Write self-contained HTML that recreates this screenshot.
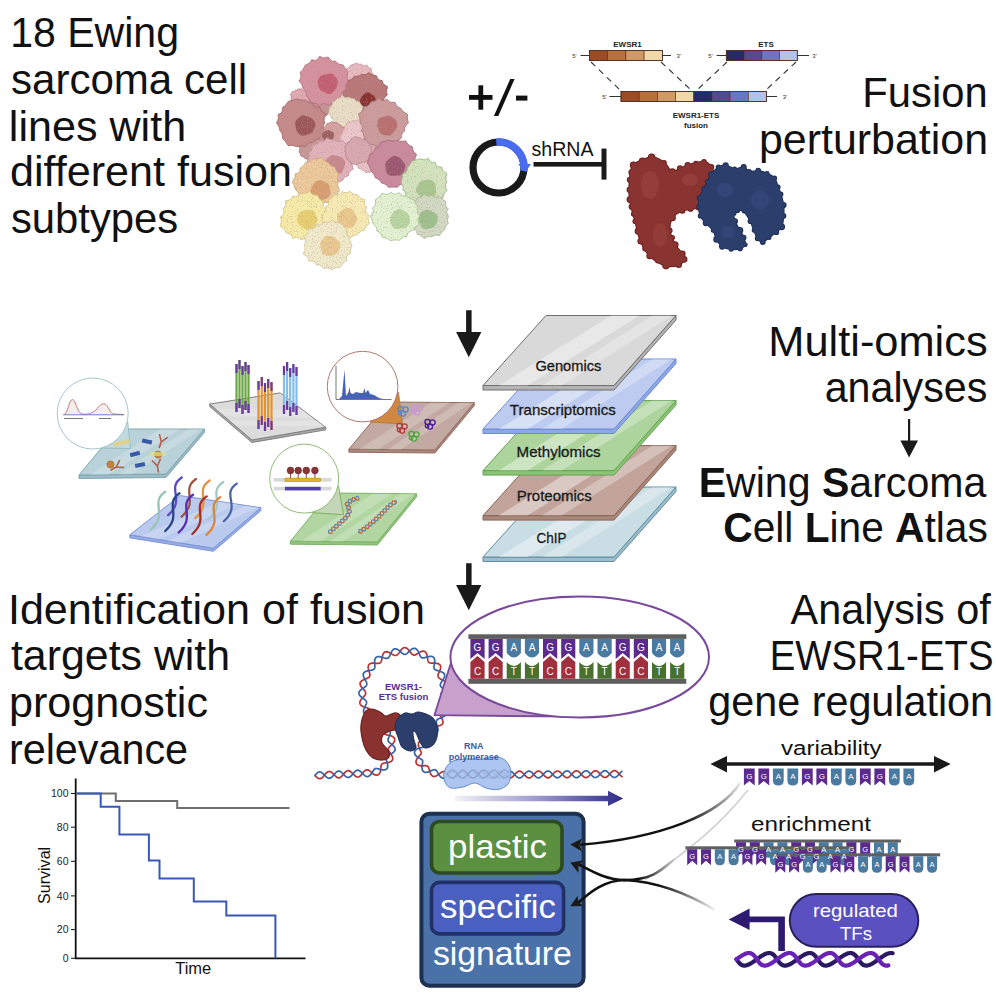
<!DOCTYPE html><html><head><meta charset="utf-8"><style>html,body{margin:0;padding:0;background:#fff;width:996px;height:996px;overflow:hidden}svg{display:block}text{font-family:"Liberation Sans",sans-serif}</style></head><body>
<svg width="996" height="996" viewBox="0 0 996 996">
<defs><linearGradient id="garr" x1="0" x2="1" y1="0" y2="0"><stop offset="0" stop-color="#f2f2f6"/><stop offset="0.5" stop-color="#9a98cc"/><stop offset="1" stop-color="#2c2a86"/></linearGradient><linearGradient id="gfade1" x1="1" x2="0" y1="0" y2="1"><stop offset="0" stop-color="#111" stop-opacity="0.1"/><stop offset="0.4" stop-color="#111" stop-opacity="1"/></linearGradient><linearGradient id="gc1" gradientUnits="userSpaceOnUse" x1="745" y1="783" x2="690" y2="830"><stop offset="0" stop-color="#111" stop-opacity="0.05"/><stop offset="1" stop-color="#111"/></linearGradient><linearGradient id="gc2" gradientUnits="userSpaceOnUse" x1="675" y1="859" x2="640" y2="880"><stop offset="0" stop-color="#111" stop-opacity="0.05"/><stop offset="1" stop-color="#111"/></linearGradient><linearGradient id="gc3" gradientUnits="userSpaceOnUse" x1="715" y1="910" x2="660" y2="885"><stop offset="0" stop-color="#111" stop-opacity="0.05"/><stop offset="1" stop-color="#111"/></linearGradient><filter id="speck" x="0" y="0" width="100%" height="100%"><feTurbulence type="fractalNoise" baseFrequency="0.8" numOctaves="1" seed="3" result="n"/><feColorMatrix in="n" type="matrix" values="0 0 0 0 0.45  0 0 0 0 0.25  0 0 0 0 0.28  0 0 0 -22 8.6" result="dots"/><feComposite in="dots" in2="SourceGraphic" operator="in" result="d2"/><feComponentTransfer in="d2" result="d3"><feFuncA type="linear" slope="0.35"/></feComponentTransfer><feMerge><feMergeNode in="SourceGraphic"/><feMergeNode in="d3"/></feMerge></filter></defs>
<rect width="996" height="996" fill="#fff"/>
<text x="10.18" y="47" font-size="42" font-weight="normal" fill="#111" textLength="168.85" lengthAdjust="spacingAndGlyphs">18 Ewing</text>
<text x="10.98" y="93.5" font-size="42" font-weight="normal" fill="#111" textLength="236.11" lengthAdjust="spacingAndGlyphs">sarcoma cell</text>
<text x="8.87" y="140.5" font-size="42" font-weight="normal" fill="#111" textLength="177.3" lengthAdjust="spacingAndGlyphs">lines with</text>
<text x="9.96" y="186" font-size="42" font-weight="normal" fill="#111" textLength="282.11" lengthAdjust="spacingAndGlyphs">different fusion</text>
<text x="10.98" y="232.5" font-size="42" font-weight="normal" fill="#111" textLength="167.28" lengthAdjust="spacingAndGlyphs">subtypes</text>
<text x="862.33" y="107" font-size="42" font-weight="normal" fill="#111" textLength="125.38" lengthAdjust="spacingAndGlyphs">Fusion</text>
<text x="758.9" y="154" font-size="42" font-weight="normal" fill="#111" textLength="229.23" lengthAdjust="spacingAndGlyphs">perturbation</text>
<text x="768.33" y="356" font-size="42" font-weight="normal" fill="#111" textLength="219.32" lengthAdjust="spacingAndGlyphs">Multi-omics</text>
<text x="824.65" y="402.2" font-size="42" font-weight="normal" fill="#111" textLength="162.69" lengthAdjust="spacingAndGlyphs">analyses</text>
<text x="698.65" y="496.8" font-size="42" font-weight="normal" fill="#111" textLength="287.67" lengthAdjust="spacingAndGlyphs"><tspan font-weight='bold'>E</tspan>wing <tspan font-weight='bold'>S</tspan>arcoma</text>
<text x="723.27" y="542" font-size="42" font-weight="normal" fill="#111" textLength="264.47" lengthAdjust="spacingAndGlyphs"><tspan font-weight='bold'>C</tspan>ell <tspan font-weight='bold'>L</tspan>ine <tspan font-weight='bold'>A</tspan>tlas</text>
<text x="7.92" y="623.6" font-size="42" font-weight="normal" fill="#111" textLength="417.16" lengthAdjust="spacingAndGlyphs">Identification of fusion</text>
<text x="10.98" y="670.3" font-size="42" font-weight="normal" fill="#111" textLength="219.12" lengthAdjust="spacingAndGlyphs">targets with</text>
<text x="8.92" y="717" font-size="42" font-weight="normal" fill="#111" textLength="199.13" lengthAdjust="spacingAndGlyphs">prognostic</text>
<text x="8.9" y="763.8" font-size="42" font-weight="normal" fill="#111" textLength="179.18" lengthAdjust="spacingAndGlyphs">relevance</text>
<text x="790.6" y="623.6" font-size="42" font-weight="normal" fill="#111" textLength="200.21" lengthAdjust="spacingAndGlyphs">Analysis of</text>
<text x="769.72" y="669.7" font-size="42" font-weight="normal" fill="#111" textLength="223.76" lengthAdjust="spacingAndGlyphs">EWSR1-ETS</text>
<text x="708.36" y="715.8" font-size="42" font-weight="normal" fill="#111" textLength="284.7" lengthAdjust="spacingAndGlyphs">gene regulation</text>
<path d="M466.1 310.3 H471.6 V332.1 H481.4 L468.8 357.2 L456.1 332.1 H466.1 Z" fill="#1a1a1a"/>
<path d="M466.1 563.3 H471.6 V585.1 H481.4 L468.8 610.2 L456.1 585.1 H466.1 Z" fill="#1a1a1a"/>
<path d="M908 419 H910.2 V440.6 H918 L909.1 457.5 L900.4 440.6 H908 Z" fill="#1a1a1a"/>
<g filter="url(#speck)">
<path d="M332.5 105 L331.1 106.5 L330.4 107.9 L330.2 109.4 L329.4 110.7 L328.9 112.1 L328.4 113.7 L327.1 114.7 L325.8 115.5 L324.9 116.9 L322.9 116.3 L321.5 116.6 L320.2 117.6 L318.7 117.5 L317.2 118 L315.6 118.7 L314.1 118 L312.6 117.5 L310.6 117.9 L309.9 115.9 L308.7 114.9 L307.1 114.2 L306.9 112.3 L306.5 110.8 L305.3 109.6 L306.2 107.8 L306 106.4 L304.9 105 L305.3 103.5 L305.1 102 L304.6 100.1 L306.1 99 L307.1 97.9 L307.9 96.5 L309.3 95.8 L310.3 94.7 L310.9 92.7 L312.6 92.4 L314 91.7 L315.4 90.3 L317.2 91.6 L318.8 92 L320.3 91.7 L321.6 93.1 L322.9 93.6 L324.7 93.4 L325.4 95.1 L326.5 96 L328.3 96.4 L328.7 98 L329.8 99.1 L331.1 100.2 L331.5 101.8 L331.8 103.4 Z" fill="#c49494" stroke="#a47474" stroke-width="0.9"/>
<path d="M326.3 147 L325.8 148.6 L325.2 150.1 L325.1 151.8 L323.7 152.9 L322.8 154.1 L322.6 155.9 L320.6 156.1 L319.4 156.9 L318.6 158.5 L316.9 158.3 L315.6 159.1 L314.4 160.8 L312.8 160.4 L311.2 160.6 L309.6 160.8 L308.2 159.7 L306.9 158.9 L305.2 158.8 L304.3 157.4 L302.9 156.7 L301.1 156.1 L300.5 154.6 L299.9 153.1 L299.2 151.7 L299.7 149.9 L299.9 148.4 L299.5 147 L299.9 145.6 L299.9 144.1 L299.6 142.5 L300.4 141.2 L301 139.8 L300.9 137.7 L302.7 137.2 L303.8 136 L304.6 134.1 L306.6 134.4 L308.2 134.1 L309.6 133.2 L311.3 134.4 L312.7 134.6 L314.4 133.6 L315.7 134.8 L317.2 135 L318.8 135.1 L319.8 136.5 L320.7 137.8 L321.9 138.7 L322.2 140.3 L323.1 141.4 L324.9 142.3 L325 143.9 L325.7 145.4 Z" fill="#c89898" stroke="#a87878" stroke-width="0.9"/>
<path d="M364.9 142 L363.8 143.6 L363.9 145.3 L365.2 147.5 L363.5 148.8 L362.7 150.4 L361.9 152 L360.3 152.9 L358.9 154 L358 155.8 L356.1 156.1 L354.4 156.8 L352.9 158.6 L350.9 157.4 L349.1 157.2 L347.2 158 L345.7 156.5 L344 155.9 L341.8 156.2 L341.2 153.9 L340.1 152.5 L339 151.3 L338.5 149.6 L337.5 148.3 L335.5 147.3 L335.1 145.5 L334.2 143.9 L333.1 142 L334 140.1 L334.7 138.4 L334.8 136.5 L336.7 135.3 L337.7 133.9 L337.9 131.8 L339.7 131.1 L341 130 L342.4 128.8 L344.2 128.5 L345.8 128.1 L347.4 127.1 L349.1 127.4 L350.9 127.3 L352.7 126.7 L354.3 127.8 L355.9 128.4 L358.1 127.9 L359.1 129.8 L360.7 130.6 L363.2 130.9 L363.6 133.1 L364.3 134.8 L365 136.5 L364.3 138.6 L364 140.4 Z" fill="#dcb0b4" stroke="#bc9094" stroke-width="0.9"/>
<path d="M379.5 160 L379.1 161.3 L379.1 162.6 L380 164.4 L379.1 165.6 L378.7 167 L378.4 168.7 L376.7 169.2 L375.3 169.9 L374.4 171.1 L372.6 170.8 L371.4 171.3 L370.2 172.5 L368.7 172.2 L367.3 172.3 L365.7 172.9 L364.6 171.3 L363.4 170.5 L362.1 170.2 L361.2 169.1 L360.1 168.4 L358.2 168.2 L358 166.6 L357.1 165.5 L355.6 164.5 L355.9 162.9 L355.5 161.5 L354.6 160 L355.3 158.5 L355.8 157.1 L355.9 155.6 L357.6 154.8 L358.6 153.8 L358.8 152.3 L360.2 151.8 L361 150.6 L361.7 149.1 L363.1 148.7 L364.5 148.3 L365.8 147.5 L367.3 148.3 L368.7 148.3 L370.2 147.4 L371.5 148.3 L373 148.5 L374.6 148.6 L375.6 149.8 L376.6 150.9 L378.1 151.5 L378 153.4 L378.6 154.7 L379.8 155.7 L379.2 157.3 L379.3 158.7 Z" fill="#e6c0c4" stroke="#c6a0a4" stroke-width="0.9"/>
<path d="M385.3 140 L384.3 141.4 L384 142.9 L384.1 144.4 L382.8 145.4 L381.8 146.4 L381 147.5 L379.6 148 L378.6 148.8 L378 150.4 L376.7 150.8 L375.5 151.8 L374.2 152.8 L372.7 152.7 L371.3 152.5 L369.8 152.6 L368.6 151.4 L367.3 150.9 L365.8 150.7 L364.6 149.9 L363.4 149.1 L362.2 148.2 L361.8 146.7 L361.4 145.3 L360.5 144.2 L360.9 142.6 L360.7 141.3 L359.5 140 L360.5 138.7 L360.7 137.3 L360.6 135.9 L361.3 134.6 L361.8 133.3 L361.9 131.6 L363.1 130.6 L364.2 129.6 L365.2 128.3 L367.1 128.8 L368.6 128.8 L369.8 127.7 L371.3 128.7 L372.7 128.5 L374.2 127.5 L375.5 128.4 L376.8 128.9 L378.3 129.1 L379 130.6 L379.9 131.6 L381.7 131.8 L381.8 133.5 L382.8 134.6 L384 135.6 L384.2 137.1 L384.5 138.5 Z" fill="#d8aab0" stroke="#b88a90" stroke-width="0.9"/>
<path d="M375.2 79 L375 80.9 L374.7 82.7 L374.5 84.6 L372.7 85.9 L371.4 87.2 L371.2 89.3 L368.9 89.5 L367.6 90.5 L366.4 91.9 L364.7 92.1 L363.1 92.7 L361.7 94.3 L359.9 93.9 L358.1 94.3 L356.1 95.4 L354.4 94.2 L352.8 93.4 L350.9 93 L350.1 91 L348.9 89.7 L347 89.1 L346.4 87.3 L345.2 85.9 L343.8 84.5 L344.1 82.5 L344.3 80.7 L343.5 79 L345.2 77.4 L345.5 75.8 L345.2 74 L345.9 72.4 L346.3 70.7 L346.7 68.7 L348.3 67.6 L349.6 66.4 L351 65.1 L352.8 64.6 L354.5 64 L356.2 63.1 L358.1 63.9 L359.9 64.4 L361.6 64.2 L363 65.5 L364.6 65.9 L367 65.1 L368 66.9 L369.5 67.9 L371.2 68.7 L371.4 70.8 L372 72.5 L373 73.9 L373.3 75.6 L374.1 77.2 Z" fill="#e6b9bd" stroke="#c99a9e" stroke-width="0.9"/>
<path d="M309.7 98 L309.2 99.1 L308.6 100 L308.5 101.1 L307.3 101.7 L306.8 102.5 L307.1 103.9 L306 104.4 L305.5 105.4 L304.8 106.4 L303.7 106.6 L302.7 106.9 L301.7 107.5 L300.5 107 L299.5 107 L298.3 107.6 L297.3 106.9 L296.3 106.5 L295.3 106.2 L294.6 105.3 L293.9 104.5 L292.9 104 L292.6 102.8 L292.2 101.9 L291.2 101.2 L291.6 100 L291.6 99 L290.9 98 L291.3 97 L291.1 95.9 L290.4 94.5 L291.2 93.6 L291.8 92.6 L292.4 91.6 L293.7 91.3 L294.7 90.9 L295.5 90.2 L296.6 90.1 L297.5 89.6 L298.4 88.9 L299.5 89 L300.5 89.1 L301.6 88.8 L302.5 89.6 L303.5 90 L304.8 89.7 L305.3 90.8 L306.2 91.4 L307.5 91.7 L307.7 93 L308.2 93.9 L309.4 94.6 L309.2 95.8 L309.4 96.9 Z" fill="#e0a8b0" stroke="#c08890" stroke-width="0.9"/>
<path d="M387.4 95 L384.7 97.3 L383.8 99.5 L384.9 102.2 L382.7 103.9 L382 106.2 L382.1 109.4 L379.5 110.4 L377.7 112.1 L376.1 114.3 L373.6 115 L371.3 116.1 L369.1 118 L366.3 116.8 L363.8 116.3 L361.2 116.5 L359.1 114.6 L356.9 113.8 L354.2 113.7 L352.4 112 L350.4 110.5 L347.3 109.8 L347.8 106.3 L347.2 103.9 L344.8 102.4 L345.9 99.5 L344.8 97.4 L343.1 95 L343 92.4 L343 89.8 L342.1 86.7 L345.2 85.1 L346.9 83.1 L347.7 80.5 L350.7 79.8 L352.7 78.4 L354.2 76.3 L357 76.4 L359.3 75.8 L361.4 74.4 L363.8 74.8 L366.2 74.4 L368.9 72.6 L371.2 74.3 L373.5 75.2 L376.2 75.6 L377.5 78.3 L379.2 80 L382.2 80.6 L382.9 83.2 L384.8 85.1 L387.5 86.8 L386.7 89.8 L386.5 92.5 Z" fill="#b97878" stroke="#9a5a5a" stroke-width="0.9"/>
<path d="M376 101 L375.9 103.1 L375.1 105.1 L373.9 106.9 L372.1 108.1 L370 108.3 L368 108.3 L365.9 108.7 L363.8 108.4 L362.2 106.8 L361.1 105 L360.1 103.1 L360 101 L360.5 99 L361.2 97.1 L362.5 95.5 L364.1 94.3 L365.8 92.8 L368 92.3 L370.1 93.3 L371.8 94.5 L373.5 95.5 L374.9 97 L375.6 99 Z" fill="#8a3030"/>
<path d="M348.1 81 L346.4 83.6 L345.8 86.2 L346.3 89.1 L343.7 90.9 L342.3 93.1 L341.6 95.7 L339.4 97.3 L337.7 99.5 L336.4 102.5 L333.4 102.7 L330.7 103.5 L328.3 105.3 L325.3 103.7 L322.7 103.7 L319.6 105.7 L317.1 103.9 L314.3 103.5 L311.4 102.9 L309.7 100.2 L308.2 97.7 L306.4 95.8 L306.3 92.7 L305.1 90.5 L303.1 88.6 L302.4 86.1 L301.3 83.6 L298.9 81 L300.7 78.3 L301 75.6 L300.1 72.3 L302.6 70.3 L303.9 67.8 L305.2 65.2 L307.8 63.9 L310.3 62.6 L311.7 59.6 L315.1 60.5 L317.5 59.4 L319.6 56.3 L322.6 57.8 L325.3 57.8 L328.2 57 L330.3 59.9 L332.5 61.3 L335.5 61.1 L337.1 63.3 L339.8 64.3 L343.1 65 L344.7 67.4 L346.3 69.8 L347.6 72.4 L347.2 75.5 L347 78.3 Z" fill="#d4929e" stroke="#b87480" stroke-width="0.9"/>
<path d="M337.7 83.4 L337.2 85.9 L336.2 88.2 L334.6 90.2 L332.8 92.1 L330.6 93.9 L327.8 94 L325.3 92.7 L323 91.7 L320.7 90.5 L319.2 88.3 L318.4 85.9 L317.7 83.4 L317.8 80.7 L318.8 78.2 L320.4 76 L322.8 74.8 L325.4 74.6 L327.8 74 L330.5 73.4 L333 74.3 L334.9 76.3 L336.6 78.3 L337.7 80.7 Z" fill="#c25e70"/>
<path d="M361.7 113 L360.9 114.7 L360.7 116.5 L361.3 118.6 L360.2 120.1 L359.4 121.8 L358.8 123.8 L356.9 124.5 L355.3 125.5 L354.5 127.6 L352.2 127.5 L350.6 128.4 L349 130.3 L347 129.5 L345 129.5 L342.9 130.3 L341.3 128.8 L339.4 128.2 L337.2 128.2 L336.2 126.2 L335 124.7 L333.3 123.7 L333.6 121.2 L333 119.5 L331.7 118.2 L331.2 116.5 L330.1 114.9 L328.5 113 L329.1 111 L329.5 109.1 L329.9 107.1 L331.6 105.7 L332.7 104.2 L332.7 101.8 L334.9 101.2 L336.2 99.9 L337.6 98.4 L339.6 98.1 L341.4 97.7 L343.1 96.3 L345.1 97.5 L346.9 97.6 L348.8 97.3 L350.4 98.1 L352.1 98.8 L354.3 98.6 L355.3 100.5 L357 101.4 L359.3 101.9 L360.3 103.6 L361.6 105.2 L363.1 106.8 L362.3 109.1 L361.9 111.1 Z" fill="#e8dcc4" stroke="#cbbca4" stroke-width="0.9"/>
<path d="M324.6 123 L323.5 125.6 L323.3 128.3 L323.9 131.4 L322.3 133.7 L320.9 136.1 L319.5 138.5 L316.5 139.4 L314.1 140.6 L312.2 142.5 L309.6 142.8 L307.3 144.1 L305.2 146.8 L302.3 145.8 L299.7 146.1 L296.8 146.8 L294.2 145.8 L291.4 145.3 L288 145.5 L286.3 142.7 L284.5 140.5 L282.5 138.5 L282.4 135.2 L281.7 132.7 L279.8 130.7 L279.6 128.1 L278.4 125.6 L276.5 123 L277.8 120.3 L278.6 117.7 L278 114.6 L281.2 113.1 L282.5 110.8 L282.5 107.4 L284.9 106 L286.6 103.7 L288.5 101.3 L291.3 100.6 L294.1 100 L296.7 98.8 L299.7 99.9 L302.3 100.2 L305.1 100 L307.4 101.8 L309.6 103 L312.7 102.7 L313.8 105.8 L316.1 107 L319.9 107.1 L320.8 110 L322.8 112.1 L325.7 114 L324.3 117.5 L324.1 120.3 Z" fill="#c48a8a" stroke="#a46a6a" stroke-width="0.9"/>
<path d="M315.5 125.5 L314.4 128 L313.4 130.3 L312.2 132.7 L309.9 134.1 L307.4 134.6 L305 135.4 L302.2 135.8 L299.7 134.6 L297.9 132.6 L296.5 130.4 L295.9 127.9 L295.5 125.5 L295.1 122.9 L296 120.3 L298 118.5 L299.9 116.7 L302.3 115.2 L305 115.4 L307.4 116.5 L309.7 117.3 L312 118.5 L313.8 120.4 L315.2 122.8 Z" fill="#9c5858"/>
<path d="M347.2 136 L346.7 137.5 L346.7 139 L347.2 140.8 L346.4 142.2 L345.7 143.7 L345.3 145.5 L343.1 145.6 L341.6 146.2 L340.6 147.5 L338.8 147.2 L337.5 147.7 L336.3 148.8 L334.7 148.6 L333.3 148.7 L331.6 149.6 L330.3 148.5 L328.7 148.2 L326.9 148.4 L325.8 147 L324.6 146 L322.9 145.3 L323.1 143.2 L322.6 141.7 L321.7 140.5 L321.5 139 L320.9 137.5 L320.2 136 L320.8 134.5 L321.4 133 L321.2 131.3 L323.2 130.6 L324 129.4 L324.1 127.7 L325.2 126.7 L326.1 125.3 L326.9 123.7 L328.5 123.3 L330.1 122.8 L331.5 121.6 L333.2 122.6 L334.8 122.7 L336.4 122.2 L337.7 123.6 L339 124.4 L340.4 124.9 L341.3 126.2 L342.5 127 L344.3 127.4 L344.8 128.9 L345.8 130.1 L347.4 131.1 L346.8 133 L346.8 134.5 Z" fill="#d4a0a0" stroke="#b48080" stroke-width="0.9"/>
<path d="M333.8 136 L333.5 137.5 L333 138.9 L332.1 140.1 L331 141.3 L329.6 142 L328 142 L326.4 141.9 L324.8 141.5 L323.8 140.2 L323.3 138.7 L322.5 137.5 L321.8 136 L321.9 134.4 L322.6 132.9 L323.7 131.7 L325 130.9 L326.5 130.4 L328 130 L329.5 130.3 L330.8 131.1 L332.3 131.7 L333.7 132.7 L334.1 134.4 Z" fill="#9c6060"/>
<path d="M374 137 L373 138.9 L373.3 140.9 L373.6 143 L372.5 144.8 L371.2 146.3 L370.6 148.4 L367.8 148.5 L366.2 149.4 L365.3 151.4 L363.3 151.5 L361.6 152.5 L360.1 154.4 L357.9 153.1 L356.1 152.7 L354.1 153.6 L352.7 151.5 L351 151 L348.9 151 L347.5 149.8 L345.9 148.8 L343.8 148.1 L343.2 146.1 L342.1 144.5 L340.1 143.2 L340.5 140.9 L340.3 139 L339.8 137 L341.2 135.2 L342.2 133.5 L342.5 131.7 L343.9 130.4 L344.4 128.7 L344.5 126.5 L345.9 125.2 L347.1 123.7 L348.1 121.5 L350.6 122.1 L352.4 121.8 L354 120.1 L356.1 121.1 L357.9 120.7 L360.1 119.3 L361.8 120.9 L363.6 121.6 L365.5 122.2 L366.6 124.1 L367.8 125.5 L370 126.1 L369.9 128.5 L370.7 130.1 L372.2 131.5 L371.7 133.5 L372.1 135.2 Z" fill="#ebc6ca" stroke="#d0a8ac" stroke-width="0.9"/>
<path d="M408.3 123 L405.8 125.7 L404.4 128.1 L404.8 130.9 L402.4 132.8 L401.6 135.2 L401.2 138.3 L398.9 139.8 L396.7 141.5 L395.2 144 L391.9 143.6 L389.4 144.4 L387 145.9 L384.3 146.1 L381.6 146.5 L378.7 147.4 L376.2 145.8 L373.6 144.8 L370.6 144.5 L368.8 142.1 L366.6 140.3 L364.3 138.7 L363.8 135.6 L363.2 132.9 L361.3 130.9 L362.7 127.8 L362 125.5 L360 123 L360.1 120.3 L359.7 117.5 L358.3 114 L361.3 112.1 L363.2 110 L363.6 106.7 L367.3 106.3 L369.3 104.6 L370.9 102 L373.7 101.3 L376.2 100.4 L378.6 98 L381.7 100.2 L384.3 100.6 L387.2 99.2 L389.4 101.7 L391.8 102.6 L395 102.3 L396.2 105.2 L398.2 106.9 L400.6 108.2 L402.2 110.4 L404.3 112.3 L407.4 114.1 L407.4 117.2 L407.7 120.1 Z" fill="#cc9c9c" stroke="#ac7c7c" stroke-width="0.9"/>
<path d="M397.3 125.5 L396.7 128.1 L395.1 130.2 L393.5 132 L392.1 134.3 L389.7 135.8 L387 135.6 L384.4 135.1 L381.9 134.4 L379.9 132.6 L378.7 130.3 L377.7 128 L377.3 125.5 L377.4 122.9 L377.8 120.2 L379.4 117.9 L382.1 117 L384.6 116.4 L387 115.6 L389.6 115.8 L391.9 117.1 L394 118.5 L396 120.3 L397 122.8 Z" fill="#b87070"/>
<path d="M353.8 161 L352.3 163.5 L352.2 166 L353.2 169.1 L350.5 170.8 L349 172.8 L348.5 175.7 L345.6 176.5 L343.9 178.3 L342.3 180.6 L339.8 181.4 L337.4 182.4 L335 183.6 L332.3 183.5 L329.7 183.7 L326.8 184.8 L324.3 183.3 L321.8 182.2 L318.9 182 L318.1 178.3 L316.9 176 L315 174.5 L314.3 172 L312.5 170.3 L309.4 168.9 L309.1 166.2 L308.2 163.7 L307.1 161 L308.6 158.4 L309.4 155.9 L308.5 152.8 L311.2 151 L312.2 148.7 L312.1 145.1 L315.4 144.5 L317.6 143 L319.4 140.9 L322.4 141 L324.8 140.3 L326.9 137.7 L329.8 139.5 L332.2 139.8 L334.7 139.8 L336.9 141.1 L339.3 141.8 L342.7 140.8 L344.4 143 L347.1 144 L350.9 144.3 L351 147.8 L351.8 150.5 L352.7 153.1 L351.9 156 L351.9 158.6 Z" fill="#e2b2ba" stroke="#c2929a" stroke-width="0.9"/>
<path d="M345 165 L343.9 167.4 L343.4 169.8 L342.2 172.2 L340 173.6 L337.5 174.4 L335 175.4 L332.3 175.2 L329.9 173.8 L328.1 171.9 L326.8 169.8 L325.9 167.4 L325 165 L324.6 162.2 L326.1 159.8 L328.1 158.1 L330 156.3 L332.4 155.1 L335 155.4 L337.4 155.9 L339.9 156.5 L342.2 157.8 L344.1 159.8 L345.3 162.2 Z" fill="#c88890"/>
<path d="M372.2 151 L371.1 152.5 L370.6 154 L370.9 155.7 L369.7 156.9 L369.2 158.4 L369 160.2 L367.2 160.8 L365.8 161.5 L364.6 162.5 L362.8 162.1 L361.4 162.3 L360.2 163.3 L358.7 163.4 L357.2 164 L355.6 164.8 L354.1 164.1 L352.6 163.6 L350.7 163.6 L350 161.8 L348.9 160.7 L347.4 159.9 L347 158.2 L346.4 156.8 L345.1 155.7 L345.8 153.9 L345.6 152.5 L344.3 151 L345.3 149.5 L345.3 148 L344.7 146.2 L346.5 145.2 L347.5 144.1 L347.6 142.2 L349.4 141.9 L350.3 140.7 L351 138.9 L352.5 138.2 L353.9 137.4 L355.5 136.7 L357.2 137.5 L358.8 138 L360.3 137.7 L361.5 139.2 L362.9 139.7 L364.6 139.5 L365.5 140.9 L366.7 141.8 L368.1 142.5 L368.7 144 L369.6 145.2 L371.3 146.2 L371.1 147.9 L371.4 149.4 Z" fill="#d8a8b0" stroke="#b88890" stroke-width="0.9"/>
<path d="M415.6 163 L414 165.5 L413.8 167.9 L415.9 171.4 L413.7 173.4 L413 176.2 L412.3 179.2 L409.4 180.4 L406.9 181.7 L404.8 183.5 L402 183.8 L399.6 185 L397.3 187.2 L394.4 187 L391.6 187.1 L388.7 187.3 L386.4 185.1 L384.1 183.6 L381.5 183 L380 180.5 L378 178.9 L375.3 177.8 L374.5 175.2 L373 173 L371 171 L370.4 168.4 L369.2 165.8 L367.3 163 L368.3 160.1 L369.1 157.3 L369.6 154.5 L372.6 152.8 L374.6 150.9 L375.2 148 L377.8 146.9 L379.5 144.8 L381 142.2 L383.8 141.6 L386.4 141 L389 140.3 L391.7 141.1 L394.3 141.1 L397 140.2 L399.6 141 L402.4 141.3 L405.7 140.9 L407.4 143.6 L409.5 145.5 L412.3 146.8 L412.9 149.9 L414.1 152.4 L416.6 154.4 L415.1 157.8 L414.9 160.4 Z" fill="#c98a9e" stroke="#a96a7e" stroke-width="0.9"/>
<path d="M405.5 166.5 L404.7 169.1 L403.6 171.4 L402.4 173.9 L400.1 175.4 L397.4 175.6 L395 175.8 L392.4 176.1 L389.9 175.4 L387.6 173.9 L385.9 171.8 L385.5 169.1 L385.5 166.5 L385.4 163.9 L386.2 161.4 L388.2 159.7 L390.1 158.1 L392.3 156.3 L395 155.8 L397.6 156.7 L399.9 158.1 L401.7 159.8 L403.2 161.8 L404.8 163.9 Z" fill="#9c5870"/>
<path d="M338.3 182 L337.6 184.4 L338.1 187 L339.7 190.3 L337.9 192.5 L336.8 195 L336.5 198.3 L332.8 198.7 L330.5 200.1 L329.1 202.9 L325.7 202.2 L323.2 202.8 L321 204.5 L318.2 203 L315.8 202.8 L313.2 203.4 L310.9 202.4 L308.3 202.1 L305.2 202.4 L303.5 200.1 L301.7 198.2 L298.6 197.4 L299 193.9 L297.7 191.7 L295.6 189.8 L294.7 187.3 L293.7 184.7 L292.3 182 L293.9 179.3 L295.3 176.8 L295 174 L298.6 172.8 L300 170.8 L300.3 168 L302.6 166.7 L304.2 164.8 L305.7 162.4 L308.3 161.8 L310.6 160.7 L312.9 158.7 L315.7 159.1 L318.3 158.9 L321.3 157.3 L323.5 160.3 L325.8 161.7 L328.3 162.4 L329.8 164.8 L331.9 166.2 L334.8 167 L335.7 169.7 L337 172 L339 174 L337.6 177.1 L337.4 179.6 Z" fill="#ecc99a" stroke="#ccaa7a" stroke-width="0.9"/>
<path d="M330.4 190.6 L330.8 193.3 L329.8 195.9 L327.8 197.8 L325.5 199.1 L323 199.7 L320.6 200 L318 200.5 L315.3 199.7 L313.5 197.7 L312 195.6 L310.5 193.3 L310.4 190.6 L311.5 188.2 L312.4 185.9 L313.6 183.6 L315.5 181.8 L317.9 180.4 L320.6 180 L323.1 181.1 L325.3 182.4 L327.7 183.5 L329.3 185.6 L329.8 188.1 Z" fill="#d8a070"/>
<path d="M446.6 182 L445.5 184.5 L445.4 187.1 L447 190.4 L444.8 192.4 L443.6 194.9 L443 197.9 L439.2 198.1 L436.7 199.1 L435 201 L432.1 200.8 L429.9 201.8 L427.9 204 L425.2 203.4 L422.7 203.8 L420 204.6 L417.6 203.5 L415 202.9 L412.1 202.6 L410 200.8 L408.1 198.9 L405.8 197.3 L405.7 194 L404.9 191.6 L402.8 189.7 L403.2 186.9 L402.3 184.5 L401.1 182 L401.8 179.4 L402.6 176.9 L402.3 174.1 L405.5 172.7 L406.8 170.7 L407.2 167.9 L409 166.1 L410.4 163.8 L411.9 161 L414.7 160.4 L417.3 159.6 L419.9 158.8 L422.7 159.5 L425.3 159.8 L428.2 158.3 L430.2 161.3 L432.4 162.5 L435.2 162.5 L436.3 165.5 L438.3 166.9 L441.8 167 L442.4 169.9 L444.3 171.8 L446.9 173.7 L446 176.8 L446 179.4 Z" fill="#d2e2bc" stroke="#9cbc84" stroke-width="0.9"/>
<path d="M435.8 189.4 L436.3 192 L435.6 194.6 L433.7 196.5 L431.6 198 L429.3 199.5 L426.6 199.7 L424.1 198.8 L421.8 197.6 L419.8 196.2 L418.1 194.3 L416.4 192.1 L415.8 189.4 L417 186.8 L418.3 184.6 L419.5 182.3 L421.6 180.7 L424.1 180.2 L426.6 179.7 L429.3 179.4 L431.8 180.3 L434 182 L435.4 184.3 L435.8 186.9 Z" fill="#a8c890"/>
<path d="M329.3 217 L329.1 219.8 L328.9 222.7 L328.5 225.6 L326.1 227.6 L324.2 229.6 L323.6 232.6 L320.7 233.6 L318.9 235.6 L317.4 238.4 L314.4 238.8 L311.7 239.4 L309.3 241.5 L306.3 239.2 L303.7 238.9 L301 239.5 L298.7 238.1 L296.2 237.5 L292.7 238.3 L291.5 235.2 L289.2 233.7 L286.2 232.8 L284.9 230.2 L283 228.1 L280.2 226 L281.2 222.7 L281.5 219.7 L280.3 217 L283.4 214.5 L284.2 212.1 L283 209 L285 207 L285.8 204.4 L285.5 200.7 L289.1 200.1 L291.4 198.7 L293 196.1 L296.2 196.5 L298.5 195.4 L300.9 193.6 L303.6 193.3 L306.4 192.9 L309.5 191.3 L311.9 194.1 L314.4 195.2 L317.5 195.3 L318.9 198.3 L320.8 200.3 L323.1 201.8 L323.3 205 L324.1 207.4 L325.7 209.5 L325.9 212 L327.2 214.4 Z" fill="#f6eaa8" stroke="#d8c888" stroke-width="0.9"/>
<path d="M317.3 219.5 L317 222.1 L315.6 224.3 L314.3 226.5 L312.5 228.5 L310 229.6 L307.3 229.8 L304.7 229.1 L302.6 227.6 L300.7 226.1 L298.4 224.6 L297.1 222.2 L297.3 219.5 L297.6 216.9 L298.3 214.3 L300.2 212.4 L302.5 211.2 L304.8 210.3 L307.3 209.8 L309.9 209.8 L312.6 210.2 L314.8 212 L315.7 214.6 L316.5 217 Z" fill="#e6cf70"/>
<path d="M368.5 215 L368 217.6 L368.5 220.3 L369.4 223.5 L367.1 225.6 L365.3 227.7 L364.2 230.3 L361 230.9 L359 232.5 L357.3 234.6 L354.8 235.3 L352.3 236.2 L350 237.4 L347.3 236.6 L344.8 236.3 L342.1 237.2 L339.9 235.5 L337.5 234.8 L334.7 234.5 L333.1 232.3 L331.2 230.7 L328.4 229.7 L327.5 227.1 L325.6 225.2 L323.4 223.2 L322.7 220.5 L322.4 217.8 L322.4 215 L324.3 212.5 L325.7 210.2 L325.4 207.5 L327.8 205.9 L328.5 203.5 L328.5 200.3 L330.8 198.9 L332.7 197.2 L334.3 194.7 L337.3 194.9 L339.7 194.1 L341.9 191.6 L344.7 192.7 L347.3 192.4 L350.1 191.5 L352.5 193.3 L354.9 194.4 L357.5 195.1 L359.4 197.1 L361.4 198.7 L364.4 199.5 L364.3 203 L365 205.5 L366.6 207.5 L365.6 210.4 L366.1 212.6 Z" fill="#f6e9b2" stroke="#d8c890" stroke-width="0.9"/>
<path d="M357.2 218.3 L356.5 220.8 L355.7 223.3 L354.4 225.7 L352.1 227.2 L349.6 228 L347 228.1 L344.6 227.3 L342.3 226.5 L339.6 225.7 L337.7 223.7 L337.3 220.9 L337.2 218.3 L337.2 215.7 L338.4 213.3 L340.2 211.5 L342.1 209.9 L344.4 208.7 L347 208.1 L349.8 208 L352.3 209.2 L353.7 211.6 L355 213.7 L356.6 215.7 Z" fill="#e8c88c"/>
<path d="M448.4 216 L447.7 218.3 L447.5 220.6 L448.3 223.4 L446.2 225.1 L445.2 227.3 L444.6 229.9 L442.6 231.5 L440.7 233.1 L439.4 235.7 L436.2 235 L433.9 235.6 L431.7 236.8 L429.2 236.6 L426.8 237 L424 238.5 L421.9 236.2 L419.9 234.8 L417.4 234.4 L416.7 231.2 L415.2 229.6 L412.2 229.3 L411.4 226.9 L409.5 225.3 L406.8 223.7 L406.8 221 L406.5 218.5 L404.8 216 L407 213.5 L407.6 211.2 L406.6 208.2 L409.5 206.7 L411 204.8 L412.2 202.7 L414.5 201.7 L416.3 200.2 L417.4 197.7 L420 197.4 L422.1 196.3 L424.1 193.8 L426.8 195.7 L429.2 196.1 L431.7 195 L433.7 196.9 L436.1 197.2 L439.3 196.5 L441.2 198.3 L443.3 199.8 L445.6 201.3 L445.7 204.4 L446.1 206.9 L448.2 208.7 L446.7 211.6 L447.2 213.8 Z" fill="#d2d9c2" stroke="#a8b898" stroke-width="0.9"/>
<path d="M437.7 219.5 L437.3 222 L436.1 224.2 L434.6 226.1 L432.8 227.8 L430.4 228.4 L428 228.8 L425.4 229.3 L422.8 228.5 L421.2 226.3 L420.2 224 L419 221.9 L418.5 219.5 L418.8 217 L419.5 214.6 L421.1 212.6 L423.2 211.1 L425.4 209.9 L428 209.6 L430.3 210.8 L432.4 211.9 L434.8 212.7 L436.8 214.4 L437.6 216.9 Z" fill="#9fbf8e"/>
<path d="M419.8 216 L418.2 218.7 L418.2 221.5 L419.1 224.8 L416.1 226.6 L414 228.5 L412.2 230.4 L409.5 231.4 L407.6 233 L406.9 236.6 L403.9 236.6 L401.7 238.3 L399.3 240.3 L396.4 239.9 L393.6 240 L390.6 240.7 L388.1 239 L385.5 238 L382.5 237.6 L381.1 234.6 L379.5 232.4 L377 231.1 L376.8 228 L375.3 225.9 L373.1 224 L372.5 221.3 L371.8 218.7 L370.2 216 L372.5 213.4 L373.5 210.9 L372.5 207.8 L375 205.9 L375.6 203.2 L375.4 199.6 L378 198 L380.2 196.1 L381.9 193.3 L385.7 194.4 L388.5 194.2 L390.9 192.5 L393.7 194 L396.3 194.1 L399.1 192.5 L401.3 195 L403.7 195.8 L406.6 196 L408.6 197.7 L411.1 199 L414.3 199.8 L415.2 202.7 L416.4 205.2 L418.3 207.5 L417.3 210.7 L417.5 213.4 Z" fill="#e2f0d2" stroke="#a8c890" stroke-width="0.9"/>
<path d="M410 219.5 L410 222.2 L408.9 224.6 L407.3 226.8 L405.1 228.3 L402.4 228.6 L400 228.6 L397.4 229.2 L394.6 228.8 L392.7 226.8 L391.4 224.5 L390.2 222.1 L390 219.5 L390.6 217 L391.6 214.6 L393.1 212.6 L395.1 211 L397.3 209.3 L400 208.6 L402.6 209.9 L404.6 211.5 L406.9 212.6 L408.7 214.5 L409.5 216.9 Z" fill="#b8d4a0"/>
<path d="M352 245 L351.2 247.7 L350.3 250.3 L350.7 253.3 L347.6 254.9 L346.4 257.1 L346.7 260.7 L344.1 262.1 L342.4 264.4 L340.6 266.7 L337.7 267.4 L334.9 268 L332.4 269.9 L329.4 268.2 L326.7 267.9 L323.8 268.6 L321.6 266.2 L319.4 264.9 L316.5 264.9 L315.2 262.2 L312.9 261 L308.8 261.1 L308.2 258.1 L306.3 255.9 L303.1 254.1 L304.8 250.5 L305 247.7 L304.1 245 L305.5 242.4 L305.5 239.7 L303.9 236.2 L306.5 234.2 L308 231.8 L308.7 228.8 L312.5 228.6 L315 227.5 L316.2 224.5 L319.4 225.2 L321.7 224 L324 222.4 L326.7 222.3 L329.3 222 L332.4 219.9 L334.8 222.2 L337.6 222.7 L340.8 222.9 L342.6 225.3 L344.5 227.5 L346.3 229.6 L346.6 232.8 L347.4 235.3 L349.9 237 L349.6 239.9 L350.7 242.3 Z" fill="#f0e9c9" stroke="#d4c8a0" stroke-width="0.9"/>
<path d="M340.3 246 L339.4 248.5 L338.6 251 L337.1 253.1 L334.8 254.4 L332.5 255.4 L330 256 L327.4 255.8 L324.7 255.1 L322.5 253.5 L321.5 250.9 L321.2 248.4 L320.3 246 L320.1 243.3 L321.3 241 L322.9 238.9 L324.8 237 L327.3 236.1 L330 236 L332.6 236.4 L334.7 237.8 L336.6 239.4 L338.8 240.9 L340.5 243.2 Z" fill="#e8c890"/>
</g>
<rect x="469" y="95" width="23.5" height="4.8" fill="#111"/><rect x="478.4" y="85.3" width="4.8" height="24.4" fill="#111"/>
<path d="M510.2 79 L514.6 79 L498.3 116 L493.9 116 Z" fill="#111"/>
<rect x="516" y="95.6" width="11.4" height="5" fill="#111"/>
<circle cx="498.5" cy="167.5" r="25.5" fill="none" stroke="#1a1a1a" stroke-width="7.2"/>
<path d="M496.3 142.1 A25.5 25.5 0 0 1 523.8 171" fill="none" stroke="#4a6cf0" stroke-width="7.4"/>
<path d="M518 164 L531 164 L525.5 172 Z" fill="#4a6cf0"/>
<text x="531.5" y="155.8" font-size="20" fill="#111" textLength="62" lengthAdjust="spacingAndGlyphs">shRNA</text>
<rect x="533.5" y="162" width="70" height="4.6" fill="#1a1a1a"/>
<rect x="601.5" y="148.6" width="5" height="31" fill="#1a1a1a"/>
<line x1="580.5" y1="55.5" x2="671" y2="55.5" stroke="#333" stroke-width="1.2"/>
<rect x="589.4" y="50.5" width="18.2" height="10.1" fill="#9c4c24" stroke="#5a2a1a" stroke-width="0.6"/>
<rect x="607.6" y="50.5" width="18.2" height="10.1" fill="#b8703c" stroke="#5a2a1a" stroke-width="0.6"/>
<rect x="625.9" y="50.5" width="18.2" height="10.1" fill="#d09a66" stroke="#5a2a1a" stroke-width="0.6"/>
<rect x="644.1" y="50.5" width="18.2" height="10.1" fill="#f1d8a8" stroke="#5a2a1a" stroke-width="0.6"/>
<rect x="589.4" y="50.5" width="73" height="10.1" fill="none" stroke="#4a2a20" stroke-width="0.8"/>
<line x1="716.6" y1="55.5" x2="809" y2="55.5" stroke="#333" stroke-width="1.2"/>
<rect x="726.3" y="50.5" width="17.8" height="10.1" fill="#262a66" stroke="#5a2a1a" stroke-width="0.6"/>
<rect x="744" y="50.5" width="17.8" height="10.1" fill="#574a8c" stroke="#5a2a1a" stroke-width="0.6"/>
<rect x="761.8" y="50.5" width="17.8" height="10.1" fill="#6a76c2" stroke="#5a2a1a" stroke-width="0.6"/>
<rect x="779.5" y="50.5" width="17.8" height="10.1" fill="#b2c2e8" stroke="#5a2a1a" stroke-width="0.6"/>
<rect x="726.3" y="50.5" width="71" height="10.1" fill="none" stroke="#4a2a20" stroke-width="0.8"/>
<line x1="609.4" y1="96.5" x2="777" y2="96.5" stroke="#333" stroke-width="1.2"/>
<rect x="621" y="91.4" width="18.2" height="10.2" fill="#9c4c24" stroke="#5a2a1a" stroke-width="0.6"/>
<rect x="639.2" y="91.4" width="18.2" height="10.2" fill="#b8703c" stroke="#5a2a1a" stroke-width="0.6"/>
<rect x="657.4" y="91.4" width="18.2" height="10.2" fill="#d09a66" stroke="#5a2a1a" stroke-width="0.6"/>
<rect x="675.6" y="91.4" width="18.2" height="10.2" fill="#f1d8a8" stroke="#5a2a1a" stroke-width="0.6"/>
<rect x="693.8" y="91.4" width="18.2" height="10.2" fill="#262a66" stroke="#5a2a1a" stroke-width="0.6"/>
<rect x="711.9" y="91.4" width="18.2" height="10.2" fill="#574a8c" stroke="#5a2a1a" stroke-width="0.6"/>
<rect x="730.1" y="91.4" width="18.2" height="10.2" fill="#6a76c2" stroke="#5a2a1a" stroke-width="0.6"/>
<rect x="748.3" y="91.4" width="18.2" height="10.2" fill="#b2c2e8" stroke="#5a2a1a" stroke-width="0.6"/>
<rect x="621" y="91.4" width="145.5" height="10.2" fill="none" stroke="#4a2a20" stroke-width="0.8"/>
<text x="574.5" y="58" font-size="6" fill="#333" text-anchor="middle">5'</text>
<text x="678.8" y="58" font-size="6" fill="#333" text-anchor="middle">3'</text>
<text x="710.6" y="58" font-size="6" fill="#333" text-anchor="middle">5'</text>
<text x="814.6" y="58" font-size="6" fill="#333" text-anchor="middle">3'</text>
<text x="604.6" y="99" font-size="6" fill="#333" text-anchor="middle">5'</text>
<text x="785" y="99" font-size="6" fill="#333" text-anchor="middle">3'</text>
<text x="627.5" y="47.3" font-size="8" font-weight="bold" fill="#222" text-anchor="middle">EWSR1</text>
<text x="766" y="47.3" font-size="8" font-weight="bold" fill="#222" text-anchor="middle">ETS</text>
<text x="696" y="118" font-size="8" font-weight="bold" fill="#222" text-anchor="middle">EWSR1-ETS</text>
<text x="696" y="127.6" font-size="8" font-weight="bold" fill="#222" text-anchor="middle">fusion</text>
<line x1="591" y1="62" x2="620" y2="90" stroke="#333" stroke-width="1.1" stroke-dasharray="6 5"/>
<line x1="661" y1="62" x2="691" y2="90" stroke="#333" stroke-width="1.1" stroke-dasharray="6 5"/>
<line x1="727" y1="62" x2="697" y2="90" stroke="#333" stroke-width="1.1" stroke-dasharray="6 5"/>
<line x1="796" y1="62" x2="766" y2="90" stroke="#333" stroke-width="1.1" stroke-dasharray="6 5"/>
<g fill="#6a1f1f" stroke="#6a1f1f" stroke-width="2.0"><path d="M633.5 165.3 C637.1 161.5 646.5 157.6 651.6 157.2 C656.7 156.8 660.7 160.2 664.2 162.6 C667.7 165 668.5 171.1 672.4 171.6 C676.3 172.1 682.4 167 687.7 165.3 C693 163.7 700.1 161.4 704 161.7 C707.9 162 709.6 164.4 711.2 167.1 C712.9 169.8 714.5 173.5 713.9 178 C713.3 182.5 710.1 189.4 707.6 194.2 C705.1 199 702.8 204.2 698.6 206.9 C694.4 209.6 686.7 208.7 682.3 210.5 C677.9 212.3 674.5 214.4 672.4 217.7 C670.3 221 669.1 225.9 669.6 230.4 C670.1 234.9 673 240.9 675.1 244.8 C677.2 248.7 680.8 251.5 682.3 253.9 C683.8 256.3 684.7 257.5 684.1 259.3 C683.5 261.1 681.7 263.6 678.7 264.7 C675.7 265.8 670.8 267.1 666 265.6 C661.2 264.1 654 259.8 649.8 255.7 C645.6 251.6 643.1 246.9 640.7 241.2 C638.3 235.5 637.1 228.2 635.3 221.3 C633.5 214.4 630.8 206.5 629.9 199.6 C629 192.7 629.3 185.5 629.9 179.8 C630.5 174.1 629.9 169.1 633.5 165.3 Z"/><circle cx="633.5" cy="165.3" r="2.7"/><circle cx="642.5" cy="161.2" r="2.7"/><circle cx="651.6" cy="157.2" r="2.7"/><circle cx="664.2" cy="162.6" r="1.6"/><circle cx="672.4" cy="171.6" r="2.3"/><circle cx="680" cy="168.4" r="2.1"/><circle cx="687.7" cy="165.3" r="2.2"/><circle cx="695.9" cy="163.5" r="1.7"/><circle cx="704" cy="161.7" r="1.8"/><circle cx="711.2" cy="167.1" r="2.1"/><circle cx="713.9" cy="178" r="1.8"/><circle cx="710.8" cy="186.1" r="2.1"/><circle cx="707.6" cy="194.2" r="1.6"/><circle cx="703.1" cy="200.6" r="1.6"/><circle cx="698.6" cy="206.9" r="2.4"/><circle cx="690.5" cy="208.7" r="2.1"/><circle cx="682.3" cy="210.5" r="2.2"/><circle cx="672.4" cy="217.7" r="2.5"/><circle cx="669.6" cy="230.4" r="2"/><circle cx="672.4" cy="237.6" r="1.6"/><circle cx="675.1" cy="244.8" r="2.5"/><circle cx="682.3" cy="253.9" r="2.3"/><circle cx="684.1" cy="259.3" r="2.4"/><circle cx="678.7" cy="264.7" r="2.3"/><circle cx="666" cy="265.6" r="2.8"/><circle cx="657.9" cy="260.6" r="2"/><circle cx="649.8" cy="255.7" r="2.5"/><circle cx="645.2" cy="248.4" r="2"/><circle cx="640.7" cy="241.2" r="2.3"/><circle cx="638" cy="231.2" r="2.4"/><circle cx="635.3" cy="221.3" r="1.9"/><circle cx="633.5" cy="214.1" r="1.6"/><circle cx="631.7" cy="206.8" r="2.1"/><circle cx="629.9" cy="199.6" r="2.4"/><circle cx="629.9" cy="189.7" r="2.3"/><circle cx="629.9" cy="179.8" r="2.1"/><circle cx="631.7" cy="172.6" r="2.3"/></g>
<g fill="#8a3431"><path d="M633.5 165.3 C637.1 161.5 646.5 157.6 651.6 157.2 C656.7 156.8 660.7 160.2 664.2 162.6 C667.7 165 668.5 171.1 672.4 171.6 C676.3 172.1 682.4 167 687.7 165.3 C693 163.7 700.1 161.4 704 161.7 C707.9 162 709.6 164.4 711.2 167.1 C712.9 169.8 714.5 173.5 713.9 178 C713.3 182.5 710.1 189.4 707.6 194.2 C705.1 199 702.8 204.2 698.6 206.9 C694.4 209.6 686.7 208.7 682.3 210.5 C677.9 212.3 674.5 214.4 672.4 217.7 C670.3 221 669.1 225.9 669.6 230.4 C670.1 234.9 673 240.9 675.1 244.8 C677.2 248.7 680.8 251.5 682.3 253.9 C683.8 256.3 684.7 257.5 684.1 259.3 C683.5 261.1 681.7 263.6 678.7 264.7 C675.7 265.8 670.8 267.1 666 265.6 C661.2 264.1 654 259.8 649.8 255.7 C645.6 251.6 643.1 246.9 640.7 241.2 C638.3 235.5 637.1 228.2 635.3 221.3 C633.5 214.4 630.8 206.5 629.9 199.6 C629 192.7 629.3 185.5 629.9 179.8 C630.5 174.1 629.9 169.1 633.5 165.3 Z"/><circle cx="633.5" cy="165.3" r="2.7"/><circle cx="642.5" cy="161.2" r="2.7"/><circle cx="651.6" cy="157.2" r="2.7"/><circle cx="664.2" cy="162.6" r="1.6"/><circle cx="672.4" cy="171.6" r="2.3"/><circle cx="680" cy="168.4" r="2.1"/><circle cx="687.7" cy="165.3" r="2.2"/><circle cx="695.9" cy="163.5" r="1.7"/><circle cx="704" cy="161.7" r="1.8"/><circle cx="711.2" cy="167.1" r="2.1"/><circle cx="713.9" cy="178" r="1.8"/><circle cx="710.8" cy="186.1" r="2.1"/><circle cx="707.6" cy="194.2" r="1.6"/><circle cx="703.1" cy="200.6" r="1.6"/><circle cx="698.6" cy="206.9" r="2.4"/><circle cx="690.5" cy="208.7" r="2.1"/><circle cx="682.3" cy="210.5" r="2.2"/><circle cx="672.4" cy="217.7" r="2.5"/><circle cx="669.6" cy="230.4" r="2"/><circle cx="672.4" cy="237.6" r="1.6"/><circle cx="675.1" cy="244.8" r="2.5"/><circle cx="682.3" cy="253.9" r="2.3"/><circle cx="684.1" cy="259.3" r="2.4"/><circle cx="678.7" cy="264.7" r="2.3"/><circle cx="666" cy="265.6" r="2.8"/><circle cx="657.9" cy="260.6" r="2"/><circle cx="649.8" cy="255.7" r="2.5"/><circle cx="645.2" cy="248.4" r="2"/><circle cx="640.7" cy="241.2" r="2.3"/><circle cx="638" cy="231.2" r="2.4"/><circle cx="635.3" cy="221.3" r="1.9"/><circle cx="633.5" cy="214.1" r="1.6"/><circle cx="631.7" cy="206.8" r="2.1"/><circle cx="629.9" cy="199.6" r="2.4"/><circle cx="629.9" cy="189.7" r="2.3"/><circle cx="629.9" cy="179.8" r="2.1"/><circle cx="631.7" cy="172.6" r="2.3"/></g>
<ellipse cx="650" cy="185" rx="9" ry="14" fill="#97403c" opacity="0.8"/>
<ellipse cx="690" cy="180" rx="8" ry="6" fill="#97403c" opacity="0.8"/>
<ellipse cx="660" cy="235" rx="7" ry="12" fill="#93403c" opacity="0.8"/>
<g fill="#1c2a50" stroke="#1c2a50" stroke-width="1.6"><path d="M711.2 174.3 C713 171.9 716 168.6 718.4 167.1 C720.8 165.6 723 165 725.7 165.3 C728.4 165.6 731.7 168.6 734.7 168.9 C737.7 169.2 741.3 166.7 743.7 167.1 C746.1 167.5 746.8 171 749.2 171.6 C751.6 172.2 755.2 170.4 758.2 170.7 C761.2 171 764.5 172.2 767.2 173.4 C769.9 174.6 772.7 175.7 774.5 178 C776.3 180.3 777.1 184.3 778.1 187 C779.1 189.7 779.9 191.2 780.8 194.2 C781.7 197.2 783 201.5 783.5 205.1 C784 208.7 783.8 212.3 783.5 215.9 C783.2 219.5 782.9 224.1 781.7 226.8 C780.5 229.5 778.4 230.4 776.3 232.2 C774.2 234 771.2 235.9 769 237.6 C766.8 239.2 764.7 241.9 762.8 242.1 C760.9 242.2 759.1 240.4 757.6 238.5 C756.1 236.6 755.2 233.3 754 230.4 C752.8 227.5 752.1 224.5 750.4 221.3 C748.7 218.1 746.1 213.1 743.9 211.3 C741.7 209.5 739.1 210.1 737.4 210.4 C735.7 210.7 734.1 211.3 733.7 213.1 C733.3 214.9 734 218.4 735 221.3 C736 224.2 738.5 227.7 739.9 230.4 C741.3 233.1 742.7 235.2 743.6 237.6 C744.5 240 746 243 745.4 244.8 C744.8 246.6 742.5 247.7 740.1 248.4 C737.7 249.2 734.1 249.6 731.1 249.3 C728.1 249 724.5 248.2 722.1 246.6 C719.7 244.9 718.1 242.1 716.6 239.4 C715.1 236.7 714.8 233.1 713 230.4 C711.2 227.7 707.9 225.5 705.8 223.1 C703.7 220.7 701.6 218.6 700.4 215.9 C699.2 213.2 698.8 209.9 698.6 206.9 C698.5 203.9 698.6 200.8 699.5 197.8 C700.4 194.8 702.6 191.5 704 188.8 C705.4 186.1 706.4 184 707.6 181.6 C708.8 179.2 709.4 176.7 711.2 174.3 Z"/><circle cx="711.2" cy="174.3" r="2.2"/><circle cx="718.4" cy="167.1" r="1.9"/><circle cx="725.7" cy="165.3" r="2.3"/><circle cx="734.7" cy="168.9" r="1.5"/><circle cx="743.7" cy="167.1" r="2.2"/><circle cx="749.2" cy="171.6" r="1.9"/><circle cx="758.2" cy="170.7" r="2.1"/><circle cx="767.2" cy="173.4" r="1.6"/><circle cx="774.5" cy="178" r="1.8"/><circle cx="778.1" cy="187" r="1.7"/><circle cx="780.8" cy="194.2" r="1.8"/><circle cx="783.5" cy="205.1" r="2.3"/><circle cx="783.5" cy="215.9" r="2"/><circle cx="781.7" cy="226.8" r="2.6"/><circle cx="776.3" cy="232.2" r="2.1"/><circle cx="769" cy="237.6" r="1.7"/><circle cx="762.8" cy="242.1" r="2.1"/><circle cx="757.6" cy="238.5" r="2"/><circle cx="754" cy="230.4" r="1.6"/><circle cx="750.4" cy="221.3" r="2"/><circle cx="743.9" cy="211.3" r="1.4"/><circle cx="737.4" cy="210.4" r="1.9"/><circle cx="733.7" cy="213.1" r="2.1"/><circle cx="735" cy="221.3" r="2.2"/><circle cx="739.9" cy="230.4" r="2.6"/><circle cx="743.6" cy="237.6" r="2.1"/><circle cx="745.4" cy="244.8" r="1.5"/><circle cx="740.1" cy="248.4" r="2"/><circle cx="731.1" cy="249.3" r="1.7"/><circle cx="722.1" cy="246.6" r="2.3"/><circle cx="716.6" cy="239.4" r="2.5"/><circle cx="713" cy="230.4" r="1.5"/><circle cx="705.8" cy="223.1" r="2.3"/><circle cx="700.4" cy="215.9" r="1.8"/><circle cx="698.6" cy="206.9" r="1.6"/><circle cx="699.5" cy="197.8" r="2"/><circle cx="704" cy="188.8" r="1.9"/><circle cx="707.6" cy="181.6" r="1.8"/></g>
<g fill="#2c3f6c"><path d="M711.2 174.3 C713 171.9 716 168.6 718.4 167.1 C720.8 165.6 723 165 725.7 165.3 C728.4 165.6 731.7 168.6 734.7 168.9 C737.7 169.2 741.3 166.7 743.7 167.1 C746.1 167.5 746.8 171 749.2 171.6 C751.6 172.2 755.2 170.4 758.2 170.7 C761.2 171 764.5 172.2 767.2 173.4 C769.9 174.6 772.7 175.7 774.5 178 C776.3 180.3 777.1 184.3 778.1 187 C779.1 189.7 779.9 191.2 780.8 194.2 C781.7 197.2 783 201.5 783.5 205.1 C784 208.7 783.8 212.3 783.5 215.9 C783.2 219.5 782.9 224.1 781.7 226.8 C780.5 229.5 778.4 230.4 776.3 232.2 C774.2 234 771.2 235.9 769 237.6 C766.8 239.2 764.7 241.9 762.8 242.1 C760.9 242.2 759.1 240.4 757.6 238.5 C756.1 236.6 755.2 233.3 754 230.4 C752.8 227.5 752.1 224.5 750.4 221.3 C748.7 218.1 746.1 213.1 743.9 211.3 C741.7 209.5 739.1 210.1 737.4 210.4 C735.7 210.7 734.1 211.3 733.7 213.1 C733.3 214.9 734 218.4 735 221.3 C736 224.2 738.5 227.7 739.9 230.4 C741.3 233.1 742.7 235.2 743.6 237.6 C744.5 240 746 243 745.4 244.8 C744.8 246.6 742.5 247.7 740.1 248.4 C737.7 249.2 734.1 249.6 731.1 249.3 C728.1 249 724.5 248.2 722.1 246.6 C719.7 244.9 718.1 242.1 716.6 239.4 C715.1 236.7 714.8 233.1 713 230.4 C711.2 227.7 707.9 225.5 705.8 223.1 C703.7 220.7 701.6 218.6 700.4 215.9 C699.2 213.2 698.8 209.9 698.6 206.9 C698.5 203.9 698.6 200.8 699.5 197.8 C700.4 194.8 702.6 191.5 704 188.8 C705.4 186.1 706.4 184 707.6 181.6 C708.8 179.2 709.4 176.7 711.2 174.3 Z"/><circle cx="711.2" cy="174.3" r="2.2"/><circle cx="718.4" cy="167.1" r="1.9"/><circle cx="725.7" cy="165.3" r="2.3"/><circle cx="734.7" cy="168.9" r="1.5"/><circle cx="743.7" cy="167.1" r="2.2"/><circle cx="749.2" cy="171.6" r="1.9"/><circle cx="758.2" cy="170.7" r="2.1"/><circle cx="767.2" cy="173.4" r="1.6"/><circle cx="774.5" cy="178" r="1.8"/><circle cx="778.1" cy="187" r="1.7"/><circle cx="780.8" cy="194.2" r="1.8"/><circle cx="783.5" cy="205.1" r="2.3"/><circle cx="783.5" cy="215.9" r="2"/><circle cx="781.7" cy="226.8" r="2.6"/><circle cx="776.3" cy="232.2" r="2.1"/><circle cx="769" cy="237.6" r="1.7"/><circle cx="762.8" cy="242.1" r="2.1"/><circle cx="757.6" cy="238.5" r="2"/><circle cx="754" cy="230.4" r="1.6"/><circle cx="750.4" cy="221.3" r="2"/><circle cx="743.9" cy="211.3" r="1.4"/><circle cx="737.4" cy="210.4" r="1.9"/><circle cx="733.7" cy="213.1" r="2.1"/><circle cx="735" cy="221.3" r="2.2"/><circle cx="739.9" cy="230.4" r="2.6"/><circle cx="743.6" cy="237.6" r="2.1"/><circle cx="745.4" cy="244.8" r="1.5"/><circle cx="740.1" cy="248.4" r="2"/><circle cx="731.1" cy="249.3" r="1.7"/><circle cx="722.1" cy="246.6" r="2.3"/><circle cx="716.6" cy="239.4" r="2.5"/><circle cx="713" cy="230.4" r="1.5"/><circle cx="705.8" cy="223.1" r="2.3"/><circle cx="700.4" cy="215.9" r="1.8"/><circle cx="698.6" cy="206.9" r="1.6"/><circle cx="699.5" cy="197.8" r="2"/><circle cx="704" cy="188.8" r="1.9"/><circle cx="707.6" cy="181.6" r="1.8"/></g>
<ellipse cx="725" cy="190" rx="8" ry="7" fill="#34497a" opacity="0.8"/>
<ellipse cx="760" cy="200" rx="9" ry="10" fill="#33477a" opacity="0.8"/>
<ellipse cx="728" cy="232" rx="7" ry="6" fill="#34497a" opacity="0.8"/>
<path d="M483 557 L614 557 L676 487 L676 491.5 L614 561.5 L483 561.5 Z" fill="#9ebccb" stroke="#5e8ea0" stroke-width="1.0" stroke-linejoin="round"/>
<path d="M546 487 L676 487 L614 557 L483 557 Z" fill="#c9dde5" stroke="#5e8ea0" stroke-width="1.0" stroke-linejoin="round"/>
<path d="M498.7 557 L611 487 L639.6 487 L527.5 557 Z" fill="#fff" opacity="0.4"/>
<path d="M542 557 L652.6 487 L672.1 487 L561.6 557 Z" fill="#fff" opacity="0.3"/>
<text x="551.5" y="542.9" font-size="14.6" fill="#1a1a1a" stroke="#1a1a1a" stroke-width="0.3" text-anchor="middle" textLength="30" lengthAdjust="spacingAndGlyphs">ChIP</text>
<path d="M483 515.6 L614 515.6 L676 445.6 L676 450.1 L614 520.1 L483 520.1 Z" fill="#a8887a" stroke="#8c6656" stroke-width="1.0" stroke-linejoin="round"/>
<path d="M546 445.6 L676 445.6 L614 515.6 L483 515.6 Z" fill="#c2a49b" stroke="#8c6656" stroke-width="1.0" stroke-linejoin="round"/>
<path d="M498.7 515.6 L611 445.6 L639.6 445.6 L527.5 515.6 Z" fill="#fff" opacity="0.4"/>
<path d="M542 515.6 L652.6 445.6 L672.1 445.6 L561.6 515.6 Z" fill="#fff" opacity="0.3"/>
<text x="554.3" y="500.8" font-size="14.6" fill="#1a1a1a" stroke="#1a1a1a" stroke-width="0.3" text-anchor="middle" textLength="75" lengthAdjust="spacingAndGlyphs">Proteomics</text>
<path d="M483 470.6 L614 470.6 L676 400.6 L676 405.1 L614 475.1 L483 475.1 Z" fill="#8cc476" stroke="#66a454" stroke-width="1.0" stroke-linejoin="round"/>
<path d="M546 400.6 L676 400.6 L614 470.6 L483 470.6 Z" fill="#acd49c" stroke="#66a454" stroke-width="1.0" stroke-linejoin="round"/>
<path d="M498.7 470.6 L611 400.6 L639.6 400.6 L527.5 470.6 Z" fill="#fff" opacity="0.4"/>
<path d="M542 470.6 L652.6 400.6 L672.1 400.6 L561.6 470.6 Z" fill="#fff" opacity="0.3"/>
<text x="558.6" y="457.20000000000005" font-size="14.6" fill="#1a1a1a" stroke="#1a1a1a" stroke-width="0.3" text-anchor="middle" textLength="84" lengthAdjust="spacingAndGlyphs">Methylomics</text>
<path d="M483 429 L614 429 L676 359 L676 363.5 L614 433.5 L483 433.5 Z" fill="#8ea8e4" stroke="#6a8ad8" stroke-width="1.0" stroke-linejoin="round"/>
<path d="M546 359 L676 359 L614 429 L483 429 Z" fill="#bccbef" stroke="#6a8ad8" stroke-width="1.0" stroke-linejoin="round"/>
<path d="M498.7 429 L611 359 L639.6 359 L527.5 429 Z" fill="#fff" opacity="0.4"/>
<path d="M542 429 L652.6 359 L672.1 359 L561.6 429 Z" fill="#fff" opacity="0.3"/>
<text x="562.8" y="415.3" font-size="14.6" fill="#1a1a1a" stroke="#1a1a1a" stroke-width="0.3" text-anchor="middle" textLength="106" lengthAdjust="spacingAndGlyphs">Transcriptomics</text>
<path d="M483 385.5 L614 385.5 L676 315.5 L676 320 L614 390 L483 390 Z" fill="#b4b4b4" stroke="#6e6e6e" stroke-width="1.0" stroke-linejoin="round"/>
<path d="M546 315.5 L676 315.5 L614 385.5 L483 385.5 Z" fill="#d9d9d9" stroke="#6e6e6e" stroke-width="1.0" stroke-linejoin="round"/>
<path d="M498.7 385.5 L611 315.5 L639.6 315.5 L527.5 385.5 Z" fill="#fff" opacity="0.4"/>
<path d="M542 385.5 L652.6 315.5 L672.1 315.5 L561.6 385.5 Z" fill="#fff" opacity="0.3"/>
<text x="568.4" y="370.90000000000003" font-size="14.6" fill="#1a1a1a" stroke="#1a1a1a" stroke-width="0.3" text-anchor="middle" textLength="66" lengthAdjust="spacingAndGlyphs">Genomics</text>
<path d="M79 475 L166 474 L204.4 429 L204.4 432.5 L166 477.5 L79 478.5 Z" fill="#9dbcc6" stroke="#7fa6b2" stroke-width="1.0" stroke-linejoin="round"/>
<path d="M117.4 429 L204.4 429 L166 474 L79 475 Z" fill="#b9d1d9" stroke="#7fa6b2" stroke-width="1.0" stroke-linejoin="round"/>
<path d="M89.4 474.9 L160.9 429 L180 429 L108.6 474.7 Z" fill="#fff" opacity="0.2"/>
<path d="M118.2 474.6 L188.7 429 L201.8 429 L131.2 474.4 Z" fill="#fff" opacity="0.2"/>
<g transform="translate(162 440) rotate(20) scale(1.0)"><path d="M0 8 V2 L-4 -4 M0 2 L4 -4" fill="none" stroke="#b0604a" stroke-width="1.6" stroke-linecap="round"/></g>
<g transform="translate(157 464) rotate(-10) scale(1.0)"><path d="M0 8 V2 L-4 -4 M0 2 L4 -4" fill="none" stroke="#b0604a" stroke-width="1.6" stroke-linecap="round"/></g>
<g transform="translate(118 466) rotate(60) scale(1.0)"><path d="M0 8 V2 L-4 -4 M0 2 L4 -4" fill="none" stroke="#b0604a" stroke-width="1.6" stroke-linecap="round"/></g>
<circle cx="110.5" cy="464.5" r="3.6" fill="#c8803a" stroke="#8a5a2a" stroke-width="0.5"/>
<circle cx="158" cy="454.5" r="3.6" fill="#c8803a" stroke="#8a5a2a" stroke-width="0.5"/>
<rect x="150" y="452" width="16" height="4" fill="#e0e080" opacity="0.7"/>
<rect x="142" y="439.5" width="10" height="4" fill="#3a5aa8" transform="rotate(12 147 441.5)"/>
<rect x="130" y="452" width="10" height="4" fill="#3a5aa8" transform="rotate(-15 135 454)"/>
<rect x="135" y="463" width="10" height="4" fill="#3a5aa8" transform="rotate(-12 140 465)"/>
<path d="M100 448 L130.5 448.5 L127.5 420 Z" fill="#c4dbe0" opacity="0.85"/>
<path d="M100 448 L130.5 448.5 L127.5 420" fill="none" stroke="#8ab8c0" stroke-width="0.8"/>
<circle cx="92.7" cy="413.5" r="35.5" fill="#fff" stroke="#9cc0c6" stroke-width="0.9"/>
<rect x="113" y="441" width="17" height="4" fill="#e6d070" opacity="0.8" transform="rotate(-12 121 443)"/>
<path d="M64 414.5 C68 414 69 399 72.5 399.5 C76 400 77 413 82 414 C88 415 92 413 96 410 C100 405 101 403.5 105 404 C108 405 110 413 113 414 L124 414.5" fill="#f6ecec" stroke="#c07070" stroke-width="0.9"/>
<line x1="63" y1="414.8" x2="124" y2="414.8" stroke="#5a7ac0" stroke-width="0.9"/>
<line x1="64" y1="418.5" x2="83" y2="418.5" stroke="#555" stroke-width="0.8"/><line x1="99" y1="418.5" x2="111" y2="418.5" stroke="#555" stroke-width="0.8"/>
<path d="M209.8 404.1 L252 440 L325.8 427.3 L325.8 429.8 L252 442.5 L209.8 406.6 Z" fill="#a9a9a9" stroke="#808080" stroke-width="1.0" stroke-linejoin="round"/>
<path d="M280.1 392.9 L325.8 427.3 L252 440 L209.8 404.1 Z" fill="#dcdcdc" stroke="#808080" stroke-width="1.0" stroke-linejoin="round"/>
<path d="M214.9 408.4 L303 410.1 L313 417.7 L224.1 416.3 Z" fill="#fff" opacity="0.2"/>
<path d="M228.8 420.3 L317.6 421.1 L324.4 426.3 L235.1 425.6 Z" fill="#fff" opacity="0.2"/>
<line x1="236.5" y1="364" x2="236.5" y2="412" stroke="#6aa444" stroke-width="2.2"/>
<line x1="236.5" y1="364" x2="236.5" y2="373" stroke="#6a3a9c" stroke-width="2.2"/>
<line x1="236.5" y1="403" x2="236.5" y2="412" stroke="#6a3a9c" stroke-width="2.2"/>
<line x1="239.5" y1="360" x2="239.5" y2="408" stroke="#6aa444" stroke-width="2.2"/>
<line x1="239.5" y1="360" x2="239.5" y2="369" stroke="#6a3a9c" stroke-width="2.2"/>
<line x1="239.5" y1="399" x2="239.5" y2="408" stroke="#6a3a9c" stroke-width="2.2"/>
<line x1="242.5" y1="366" x2="242.5" y2="414" stroke="#6aa444" stroke-width="2.2"/>
<line x1="242.5" y1="366" x2="242.5" y2="375" stroke="#6a3a9c" stroke-width="2.2"/>
<line x1="242.5" y1="405" x2="242.5" y2="414" stroke="#6a3a9c" stroke-width="2.2"/>
<line x1="245.5" y1="362" x2="245.5" y2="410" stroke="#6aa444" stroke-width="2.2"/>
<line x1="245.5" y1="362" x2="245.5" y2="371" stroke="#6a3a9c" stroke-width="2.2"/>
<line x1="245.5" y1="401" x2="245.5" y2="410" stroke="#6a3a9c" stroke-width="2.2"/>
<line x1="248.5" y1="365" x2="248.5" y2="413" stroke="#6aa444" stroke-width="2.2"/>
<line x1="248.5" y1="365" x2="248.5" y2="374" stroke="#6a3a9c" stroke-width="2.2"/>
<line x1="248.5" y1="404" x2="248.5" y2="413" stroke="#6a3a9c" stroke-width="2.2"/>
<line x1="258.5" y1="381" x2="258.5" y2="429" stroke="#e09434" stroke-width="2.2"/>
<line x1="258.5" y1="381" x2="258.5" y2="390" stroke="#6a3a9c" stroke-width="2.2"/>
<line x1="258.5" y1="420" x2="258.5" y2="429" stroke="#6a3a9c" stroke-width="2.2"/>
<line x1="261.8" y1="377" x2="261.8" y2="425" stroke="#e09434" stroke-width="2.2"/>
<line x1="261.8" y1="377" x2="261.8" y2="386" stroke="#6a3a9c" stroke-width="2.2"/>
<line x1="261.8" y1="416" x2="261.8" y2="425" stroke="#6a3a9c" stroke-width="2.2"/>
<line x1="265" y1="383" x2="265" y2="431" stroke="#e09434" stroke-width="2.2"/>
<line x1="265" y1="383" x2="265" y2="392" stroke="#6a3a9c" stroke-width="2.2"/>
<line x1="265" y1="422" x2="265" y2="431" stroke="#6a3a9c" stroke-width="2.2"/>
<line x1="268.2" y1="379" x2="268.2" y2="427" stroke="#e09434" stroke-width="2.2"/>
<line x1="268.2" y1="379" x2="268.2" y2="388" stroke="#6a3a9c" stroke-width="2.2"/>
<line x1="268.2" y1="418" x2="268.2" y2="427" stroke="#6a3a9c" stroke-width="2.2"/>
<line x1="271.5" y1="382" x2="271.5" y2="430" stroke="#e09434" stroke-width="2.2"/>
<line x1="271.5" y1="382" x2="271.5" y2="391" stroke="#6a3a9c" stroke-width="2.2"/>
<line x1="271.5" y1="421" x2="271.5" y2="430" stroke="#6a3a9c" stroke-width="2.2"/>
<line x1="284" y1="366" x2="284" y2="414" stroke="#86bce8" stroke-width="2.2"/>
<line x1="284" y1="366" x2="284" y2="375" stroke="#6a3a9c" stroke-width="2.2"/>
<line x1="284" y1="405" x2="284" y2="414" stroke="#6a3a9c" stroke-width="2.2"/>
<line x1="287.1" y1="362" x2="287.1" y2="410" stroke="#86bce8" stroke-width="2.2"/>
<line x1="287.1" y1="362" x2="287.1" y2="371" stroke="#6a3a9c" stroke-width="2.2"/>
<line x1="287.1" y1="401" x2="287.1" y2="410" stroke="#6a3a9c" stroke-width="2.2"/>
<line x1="290.2" y1="368" x2="290.2" y2="416" stroke="#86bce8" stroke-width="2.2"/>
<line x1="290.2" y1="368" x2="290.2" y2="377" stroke="#6a3a9c" stroke-width="2.2"/>
<line x1="290.2" y1="407" x2="290.2" y2="416" stroke="#6a3a9c" stroke-width="2.2"/>
<line x1="293.4" y1="364" x2="293.4" y2="412" stroke="#86bce8" stroke-width="2.2"/>
<line x1="293.4" y1="364" x2="293.4" y2="373" stroke="#6a3a9c" stroke-width="2.2"/>
<line x1="293.4" y1="403" x2="293.4" y2="412" stroke="#6a3a9c" stroke-width="2.2"/>
<line x1="296.5" y1="367" x2="296.5" y2="415" stroke="#86bce8" stroke-width="2.2"/>
<line x1="296.5" y1="367" x2="296.5" y2="376" stroke="#6a3a9c" stroke-width="2.2"/>
<line x1="296.5" y1="406" x2="296.5" y2="415" stroke="#6a3a9c" stroke-width="2.2"/>
<path d="M348.9 449.2 L434.9 450 L474.2 402.7 L474.2 405.7 L434.9 453 L348.9 452.2 Z" fill="#a88a7e" stroke="#946c5e" stroke-width="1.0" stroke-linejoin="round"/>
<path d="M388.2 402 L474.2 402.7 L434.9 450 L348.9 449.2 Z" fill="#c2aaa2" stroke="#946c5e" stroke-width="1.0" stroke-linejoin="round"/>
<path d="M359.2 449.3 L431.2 402.4 L450.1 402.5 L378.1 449.5 Z" fill="#fff" opacity="0.2"/>
<path d="M387.6 449.6 L458.7 402.6 L471.6 402.7 L400.5 449.7 Z" fill="#fff" opacity="0.2"/>
<path d="M370 422 L402.5 424 L398.5 392 Z" fill="#d08840" stroke="#a86a30" stroke-width="0.6"/>
<circle cx="362.6" cy="386.6" r="35.3" fill="#fff" stroke="#a86a60" stroke-width="0.9"/>
<path d="M336 365.6 V399.5 H391.5" fill="none" stroke="#555" stroke-width="0.8"/>
<path d="M339 399 L342 396 L344.5 369.5 L346 396 L348.5 392 L349.5 387 L350.5 393 L353 394 L356 392 L360 393 L363 393 L364.5 388 L365.5 393 L367 391 L368 390 L370 394 L374 395 L379 398 L383 399 Z" fill="#4562b8"/>
<g fill="none" stroke="#5a86c8" stroke-width="1.3"><circle cx="400.5" cy="409" r="2.6"/><circle cx="405.5" cy="409.5" r="2.6"/><circle cx="403" cy="413.5" r="2.6"/><circle cx="400" cy="413" r="1.8"/></g>
<g fill="none" stroke="#c898d8" stroke-width="1.3"><circle cx="414.5" cy="408" r="2.6"/><circle cx="419.5" cy="408.5" r="2.6"/><circle cx="417" cy="412.5" r="2.6"/><circle cx="414" cy="412" r="1.8"/></g>
<g fill="none" stroke="#b03a3a" stroke-width="1.3"><circle cx="399.5" cy="426" r="2.6"/><circle cx="404.5" cy="426.5" r="2.6"/><circle cx="402" cy="430.5" r="2.6"/><circle cx="399" cy="430" r="1.8"/></g>
<g fill="none" stroke="#4a1a9a" stroke-width="1.3"><circle cx="427.5" cy="422" r="2.6"/><circle cx="432.5" cy="422.5" r="2.6"/><circle cx="430" cy="426.5" r="2.6"/><circle cx="427" cy="426" r="1.8"/></g>
<g fill="none" stroke="#4aa83a" stroke-width="1.3"><circle cx="411.5" cy="434" r="2.6"/><circle cx="416.5" cy="434.5" r="2.6"/><circle cx="414" cy="438.5" r="2.6"/><circle cx="411" cy="438" r="1.8"/></g>
<path d="M129.8 534.8 L213.4 548.3 L260.8 507.7 L260.8 510.7 L213.4 551.3 L129.8 537.8 Z" fill="#98ace4" stroke="#7a92d8" stroke-width="1.0" stroke-linejoin="round"/>
<path d="M180.2 495.6 L260.8 507.7 L213.4 548.3 L129.8 534.8 Z" fill="#bacaef" stroke="#7a92d8" stroke-width="1.0" stroke-linejoin="round"/>
<path d="M139.8 536.4 L220.5 501.6 L238.2 504.3 L158.2 539.4 Z" fill="#fff" opacity="0.2"/>
<path d="M167.4 540.9 L246.3 505.5 L258.4 507.3 L180 542.9 Z" fill="#fff" opacity="0.2"/>
<path d="M181.7 477.5 C165.7 488.5 186.2 499.2 168.2 515.2" fill="none" stroke="#5a4ac0" stroke-width="2.3" stroke-linecap="round"/>
<path d="M196 479 C180 490 199.7 500.7 181.7 516.7" fill="none" stroke="#a05444" stroke-width="2.3" stroke-linecap="round"/>
<path d="M209.6 480.5 C193.6 491.5 213.3 502.2 195.3 518.2" fill="none" stroke="#e09444" stroke-width="2.3" stroke-linecap="round"/>
<path d="M223.2 482 C207.2 493 226.9 503 208.9 519" fill="none" stroke="#a4c8c4" stroke-width="2.3" stroke-linecap="round"/>
<path d="M236.7 483.6 C220.7 494.6 241.9 505.2 223.9 521.2" fill="none" stroke="#4a64ac" stroke-width="2.3" stroke-linecap="round"/>
<path d="M165.2 491.8 C149.2 502.8 168.9 513.5 150.9 529.5" fill="none" stroke="#98c4b4" stroke-width="2.3" stroke-linecap="round"/>
<path d="M179.5 493.3 C163.5 504.3 183.2 515 165.2 531" fill="none" stroke="#2a4488" stroke-width="2.3" stroke-linecap="round"/>
<path d="M193 494.8 C177 505.8 196.7 516.5 178.7 532.5" fill="none" stroke="#5a2ab0" stroke-width="2.3" stroke-linecap="round"/>
<path d="M206.6 496.4 C190.6 507.4 210.3 518 192.3 534" fill="none" stroke="#a0302a" stroke-width="2.3" stroke-linecap="round"/>
<path d="M220.2 497.1 C204.2 508.1 224.6 518.8 206.6 534.8" fill="none" stroke="#e0843a" stroke-width="2.3" stroke-linecap="round"/>
<path d="M290.5 541.2 L377.3 542 L416.6 493.8 L416.6 496.8 L377.3 545 L290.5 544.2 Z" fill="#92c47e" stroke="#7cb468" stroke-width="1.0" stroke-linejoin="round"/>
<path d="M329.8 493 L416.6 493.8 L377.3 542 L290.5 541.2 Z" fill="#b2d6a2" stroke="#7cb468" stroke-width="1.0" stroke-linejoin="round"/>
<path d="M300.9 541.3 L373.2 493.4 L392.3 493.6 L320 541.5 Z" fill="#fff" opacity="0.2"/>
<path d="M329.6 541.6 L401 493.7 L414 493.8 L342.6 541.7 Z" fill="#fff" opacity="0.2"/>
<path d="M329 533 L329.4 533.1 L329.8 533.2 L330.2 533.3 L330.6 533.3 L330.9 533.3 L331.2 533.3 L331.5 533.2 L331.7 533.1 L331.9 533 L332 532.8 L332.1 532.5 L332.1 532.2 L332.1 531.9 L332.1 531.5 L332 531.1 L332 530.7 L331.9 530.3 L331.8 529.9 L331.8 529.5 L331.7 529.1 L331.7 528.7 L331.7 528.3 L331.7 528 L331.8 527.8 L331.9 527.5 L332.1 527.4 L332.3 527.2 L332.5 527.2 L332.8 527.1 L333.1 527.2 L333.5 527.2 L333.8 527.3 L334.2 527.4 L334.6 527.5 L335 527.6 L335.4 527.7 L335.8 527.8 L336.2 527.9 L336.5 528 L336.9 528 L337.1 528 L337.4 527.9 L337.6 527.8 L337.8 527.7 L337.9 527.5 L338 527.2 L338 526.9 L338 526.6 L338 526.3 L338 525.9 L338 525.5 L337.9 525.1 L337.8 524.7 L337.8 524.3 L337.7 523.9 L337.7 523.6 L337.7 523.2 L337.7 522.9 L337.8 522.7 L337.8 522.4 L337.9 522.2 L338.1 522.1 L338.3 522 L338.5 521.9 L338.7 521.9 L339 521.9 L339.3 521.9 L339.7 522 L340 522 L340.4 522.1 L340.7 522.2 L341.1 522.3 L341.5 522.4 L341.8 522.5 L342.2 522.6 L342.5 522.7 L342.8 522.7 L343 522.7 L343.3 522.6 L343.5 522.6 L343.7 522.4 L343.8 522.3 L343.9 522.1 L344 521.9 L344 521.7 L344.1 521.4 L344.1 521.1 L344 520.8 L344 520.5 L343.9 520.2 L343.9 519.8 L343.8 519.5 L343.7 519.1 L343.7 518.8 L343.6 518.5 L343.6 518.2 L343.5 517.9 L343.5 517.7 L343.5 517.4 L343.5 517.2 L343.6 517 L343.7 516.9 L343.8 516.7 L343.9 516.6 L344.1 516.6 L344.3 516.5 L344.5 516.5 L344.7 516.5 L344.9 516.5 L345.2 516.5 L345.5 516.5 L345.7 516.5 L346 516.6 L346.3 516.6 L346.6 516.7 L346.9 516.7 L347.2 516.7 L347.5 516.7 L347.8 516.8 L348 516.8 L348.3 516.7 L348.5 516.7 L348.7 516.7 L348.9 516.6 L349.1 516.5 L349.2 516.4 L349.3 516.3 L349.4 516.2 L349.5 516 L349.6 515.9 L349.6 515.7 L349.6 515.5 L349.6 515.3 L349.6 515.1 L349.5 514.9 L349.5 514.7 L349.4 514.5 L349.3 514.3 L349.2 514.1 L349.1 513.9 L349 513.6 L348.8 513.4 L348.7 513.2 L348.6 513 L348.4 512.9 L348.3 512.7 L348.2 512.5 L348.1 512.3 L347.9 512.2 L347.8 512 L347.7 511.9 L347.7 511.8 L347.6 511.7 L347.5 511.6 L347.5 511.5 L347.4 511.4 L347.4 511.3 L347.4 511.2 L347.4 511.1 L347.4 511.1 L347.4 511 L347.5 510.9 L347.5 510.8 L347.6 510.8 L347.7 510.7 L347.8 510.6 L347.9 510.6 L348 510.5 L348.1 510.4 L348.3 510.3 L348.4 510.2 L348.6 510.1 L348.7 510 L348.9 509.9 L349 509.7 L349.1 509.6 L349.3 509.5 L349.4 509.3 L349.6 509.1 L349.7 509 L349.8 508.8 L349.9 508.6 L350 508.4 L350.1 508.3 L350.2 508.1 L350.3 507.9 L350.3 507.7 L350.4 507.5 L350.4 507.3 L350.4 507.1 L350.3 507 L350.3 506.8 L350.2 506.6 L350.1 506.5 L350 506.4 L349.9 506.3 L349.8 506.2 L349.6 506.1 L349.4 506 L349.2 506 L349.1 506 L349 506 L348.9 506 L348.8 506 L348.6 506 L348.5 506 L348.4 506 L348.2 506 L348.1 506 L347.9 506 L347.8 506 L347.7 506 L347.5 506 L347.4 506 L347.2 506 L347.1 505.9 L347 505.9 L346.8 505.8 L346.7 505.8 L346.6 505.7 L346.4 505.7 L346.3 505.6 L346.2 505.5 L346.1 505.5 L346 505.4 L345.9 505.3 L345.8 505.2 L345.7 505.1 L345.7 505 L345.6 504.9 L345.5 504.8 L345.5 504.7 L345.4 504.6 L345.4 504.4 L345.4 504.3 L345.3 504.2 L345.3 504.1 L345.3 504 L345.3 503.8 L345.3 503.7 L345.3 503.6 L345.4 503.5 L345.4 503.4 L345.4 503.3 L345.5 503.2 L345.5 503.1 L345.6 503 L345.7 502.9 L345.7 502.8 L345.8 502.7 L345.9 502.7 L346 502.6 L346.1 502.5 L346.2 502.5 L346.3 502.4 L346.4 502.4 L346.5 502.4 L346.6 502.3 L346.8 502.3 L346.9 502.3 L347 502.3 L347.1 502.2 L347.3 502.2 L347.4 502.3 L347.6 502.3 L347.7 502.3 L347.8 502.3 L348 502.3 L348.1 502.3 L348.3 502.4 L348.4 502.4 L348.5 502.4 L348.7 502.5 L348.8 502.5 L349 502.6 L349.1 502.6 L349.2 502.7 L349.4 502.7 L349.5 502.8 L349.6 502.8 L349.8 502.8 L349.9 502.9 L350 502.9 L350.1 503 L350.2 503 L350.3 503 L350.4 503 L350.5 503 L350.6 503 L350.7 503 L350.8 503 L350.9 503 L351 503 L351 503 L351.1 502.9 L351.2 502.9 L351.2 502.8 L351.3 502.7 L351.3 502.7 L351.4 502.6 L351.4 502.5 L351.5 502.4 L351.5 502.3 L351.5 502.1 L351.6 502 L351.6 501.9 L351.6 501.7 L351.6 501.6 L351.7 501.4 L351.7 501.3 L351.7 501.1 L351.7 500.9 L351.7 500.8 L351.8 500.6 L351.8 500.4 L351.8 500.2 L351.8 500 L351.9 499.9 L351.9 499.7 L351.9 499.5 L352 499.3 L352 499.2 L352 499 L352.1 498.8 L352.1 498.7 L352.2 498.5 L352.2 498.4 L352.3 498.3 L352.4 498.2 L352.4 498.1 L352.5 498 L352.6 497.9 L352.7 497.8 L352.8 497.7 L352.9 497.7 L352.9 497.6 L353 497.6 L353.2 497.6 L353.3 497.6 L353.4 497.6 L353.5 497.6 L353.6 497.6 L353.7 497.7 L353.8 497.7 L354 497.8 L354.1 497.8 L354.2 497.9 L354.4 498 L354.5 498.1 L354.6 498.2 L354.8 498.3 L354.9 498.4 L355.1 498.5 L355.2 498.6 L355.3 498.7 L355.5 498.8 L355.6 498.9 L355.7 499 L355.9 499.1 L356 499.2 L356.1 499.3 L356.2 499.4 L356.4 499.5 L356.5 499.6 L356.6 499.7 L356.7 499.8 L356.8 499.8 L357 499.9 L357.1 500 L357.2 500 L357.3 500.1 L357.4 500.1 L357.5 500.1 L357.6 500.2 L357.7 500.2 L357.7 500.2 L357.8 500.2 L357.9 500.2 L358 500.1 L358.1 500.1 L358.1 500.1 L358.2 500.1 L358.3 500 L358.3 500 L358.4 499.9 L358.5 499.8 L358.5 499.8 L358.6 499.7 L358.6 499.6 L358.7 499.6 L358.7 499.5 L358.8 499.4 L358.8 499.3 L358.8 499.2 L358.9 499.1 L358.9 499 L359 498.9 L359 498.8 L359 498.7 L359.1 498.6" fill="none" stroke="#c8643a" stroke-width="1.3" stroke-linejoin="round" stroke-linecap="round" />
<path d="M329 533 L328.9 532.6 L328.8 532.2 L328.8 531.8 L328.7 531.4 L328.7 531 L328.8 530.7 L328.8 530.5 L329 530.3 L329.1 530.1 L329.3 530 L329.6 529.9 L329.9 529.9 L330.2 529.9 L330.6 529.9 L331 530 L331.4 530.1 L331.8 530.2 L332.2 530.3 L332.6 530.4 L333 530.5 L333.4 530.6 L333.7 530.6 L334.1 530.6 L334.3 530.6 L334.5 530.5 L334.7 530.3 L334.9 530.2 L335 529.9 L335 529.7 L335 529.3 L335 529 L335 528.6 L335 528.2 L334.9 527.8 L334.8 527.4 L334.8 527 L334.7 526.6 L334.7 526.2 L334.7 525.8 L334.7 525.5 L334.7 525.2 L334.8 525 L335 524.8 L335.1 524.7 L335.4 524.6 L335.6 524.5 L335.9 524.5 L336.2 524.5 L336.5 524.6 L336.9 524.6 L337.3 524.7 L337.7 524.9 L338.1 525 L338.4 525.1 L338.8 525.2 L339.2 525.3 L339.5 525.3 L339.8 525.4 L340.1 525.3 L340.3 525.3 L340.6 525.2 L340.7 525.1 L340.9 524.9 L341 524.7 L341 524.4 L341.1 524.2 L341.1 523.9 L341 523.5 L341 523.2 L341 522.8 L340.9 522.4 L340.8 522 L340.8 521.7 L340.7 521.3 L340.7 521 L340.7 520.6 L340.7 520.4 L340.7 520.1 L340.8 519.9 L340.8 519.7 L341 519.5 L341.1 519.4 L341.3 519.3 L341.5 519.2 L341.7 519.2 L342 519.2 L342.3 519.2 L342.6 519.3 L342.9 519.4 L343.2 519.4 L343.6 519.5 L343.9 519.6 L344.2 519.7 L344.6 519.7 L344.9 519.8 L345.2 519.8 L345.5 519.9 L345.7 519.9 L346 519.8 L346.2 519.8 L346.4 519.7 L346.6 519.6 L346.7 519.5 L346.8 519.3 L346.9 519.2 L346.9 519 L347 518.8 L347 518.5 L346.9 518.3 L346.9 518 L346.8 517.7 L346.8 517.4 L346.7 517.2 L346.6 516.9 L346.5 516.6 L346.4 516.3 L346.3 516 L346.3 515.8 L346.2 515.5 L346.1 515.3 L346.1 515 L346 514.8 L346 514.6 L346 514.5 L346 514.3 L346 514.2 L346.1 514 L346.1 513.9 L346.2 513.8 L346.3 513.7 L346.4 513.7 L346.6 513.6 L346.7 513.6 L346.9 513.5 L347.1 513.5 L347.3 513.5 L347.5 513.5 L347.7 513.4 L347.9 513.4 L348.2 513.4 L348.4 513.4 L348.6 513.3 L348.9 513.3 L349.1 513.3 L349.3 513.2 L349.6 513.2 L349.8 513.1 L350 513.1 L350.2 513 L350.4 512.9 L350.5 512.8 L350.7 512.7 L350.8 512.6 L351 512.5 L351.1 512.3 L351.2 512.2 L351.2 512.1 L351.3 511.9 L351.3 511.8 L351.4 511.6 L351.4 511.5 L351.3 511.3 L351.3 511.2 L351.2 511 L351.2 510.8 L351.1 510.7 L351 510.6 L350.9 510.4 L350.7 510.3 L350.6 510.1 L350.4 510 L350.3 509.9 L350.1 509.8 L349.9 509.7 L349.7 509.6 L349.5 509.5 L349.3 509.5 L349.1 509.4 L348.9 509.3 L348.7 509.3 L348.5 509.2 L348.4 509.2 L348.2 509.2 L348 509.1 L347.8 509.1 L347.7 509.1 L347.5 509.1 L347.4 509 L347.3 509 L347.1 509 L347 508.9 L347 508.9 L346.9 508.8 L346.8 508.8 L346.8 508.7 L346.8 508.6 L346.7 508.5 L346.7 508.4 L346.8 508.2 L346.8 508 L346.7 507.9 L346.7 507.7 L346.8 507.5 L346.8 507.4 L346.8 507.2 L346.9 507.1 L346.9 506.9 L347 506.8 L347 506.6 L347.1 506.5 L347.2 506.4 L347.2 506.2 L347.3 506.1 L347.4 506 L347.5 505.9 L347.5 505.8 L347.6 505.7 L347.7 505.6 L347.8 505.5 L347.9 505.4 L348 505.3 L348.1 505.2 L348.2 505.2 L348.2 505.1 L348.3 505.1 L348.4 505 L348.5 505 L348.6 504.9 L348.6 504.9 L348.7 504.9 L348.8 504.9 L348.8 504.8 L348.9 504.8 L348.9 504.8 L349 504.8 L349 504.8 L349 504.8 L349.1 504.8 L349.1 504.8 L349.1 504.7 L349.1 504.7 L349.2 504.7 L349.2 504.7 L349.2 504.7 L349.2 504.7 L349.2 504.6 L349.2 504.6 L349.2 504.6 L349.1 504.5 L349.1 504.5 L349.1 504.5 L349.1 504.4 L349.1 504.3 L349 504.3 L349 504.2 L349 504.1 L348.9 504.1 L348.9 504 L348.9 503.9 L348.8 503.8 L348.8 503.7 L348.7 503.6 L348.7 503.5 L348.7 503.4 L348.6 503.2 L348.6 503.1 L348.6 503 L348.5 502.9 L348.5 502.7 L348.5 502.6 L348.4 502.4 L348.4 502.3 L348.4 502.1 L348.4 502 L348.3 501.8 L348.3 501.7 L348.3 501.5 L348.3 501.4 L348.3 501.2 L348.3 501.1 L348.3 500.9 L348.3 500.8 L348.4 500.7 L348.4 500.5 L348.4 500.4 L348.5 500.3 L348.5 500.2 L348.5 500.1 L348.6 499.9 L348.7 499.9 L348.7 499.8 L348.8 499.7 L348.9 499.6 L349 499.5 L349 499.5 L349.1 499.4 L349.2 499.4 L349.3 499.4 L349.5 499.4 L349.6 499.4 L349.7 499.4 L349.8 499.4 L350 499.4 L350.1 499.4 L350.2 499.5 L350.4 499.5 L350.5 499.6 L350.7 499.7 L350.8 499.7 L351 499.8 L351.1 499.9 L351.3 500 L351.4 500.1 L351.6 500.2 L351.7 500.2 L351.9 500.3 L352 500.4 L352.2 500.5 L352.3 500.6 L352.5 500.7 L352.6 500.8 L352.8 500.9 L352.9 501 L353 501.1 L353.2 501.2 L353.3 501.2 L353.4 501.3 L353.6 501.3 L353.7 501.4 L353.8 501.4 L353.9 501.4 L354 501.4 L354.1 501.4 L354.2 501.4 L354.3 501.4 L354.4 501.4 L354.5 501.3 L354.6 501.3 L354.6 501.2 L354.7 501.1 L354.8 501.1 L354.8 501 L354.9 500.9 L355 500.7 L355 500.6 L355.1 500.5 L355.1 500.4 L355.2 500.2 L355.2 500.1 L355.3 499.9 L355.3 499.8 L355.3 499.6 L355.4 499.4 L355.4 499.3 L355.5 499.1 L355.5 498.9 L355.5 498.8 L355.6 498.6 L355.6 498.4 L355.7 498.3 L355.7 498.1 L355.8 497.9 L355.8 497.8 L355.9 497.6 L355.9 497.5 L356 497.4 L356 497.2 L356.1 497.1 L356.1 497 L356.2 496.9 L356.2 496.8 L356.3 496.7 L356.4 496.6 L356.4 496.6 L356.5 496.5 L356.6 496.4 L356.6 496.4 L356.7 496.4 L356.8 496.3 L356.9 496.3 L357 496.3 L357 496.3 L357.1 496.3 L357.2 496.3 L357.3 496.3 L357.4 496.3 L357.4 496.3 L357.5 496.4 L357.6 496.4 L357.7 496.4 L357.8 496.5 L357.9 496.5 L358 496.6 L358 496.6 L358.1 496.7 L358.2 496.7 L358.3 496.8 L358.4 496.9 L358.5 496.9 L358.5 497" fill="none" stroke="#6a84b0" stroke-width="1.3" stroke-linejoin="round" stroke-linecap="round" />
<path d="M358.8 532.3 L359.1 532.4 L359.3 532.6 L359.6 532.7 L359.8 532.8 L360.1 532.9 L360.3 533 L360.6 533.1 L360.8 533.1 L361 533.1 L361.2 533.1 L361.4 533.1 L361.5 533 L361.7 532.9 L361.8 532.8 L361.9 532.6 L362 532.5 L362 532.3 L362.1 532 L362.1 531.8 L362.2 531.5 L362.2 531.2 L362.2 530.9 L362.2 530.6 L362.2 530.3 L362.2 530 L362.2 529.7 L362.2 529.4 L362.2 529.1 L362.2 528.8 L362.2 528.6 L362.3 528.3 L362.3 528.1 L362.4 527.9 L362.5 527.7 L362.6 527.6 L362.7 527.5 L362.8 527.4 L363 527.3 L363.2 527.3 L363.4 527.3 L363.6 527.3 L363.9 527.4 L364.1 527.4 L364.4 527.5 L364.7 527.6 L365 527.7 L365.3 527.8 L365.6 528 L365.9 528.1 L366.2 528.2 L366.5 528.3 L366.8 528.4 L367 528.4 L367.3 528.5 L367.6 528.5 L367.8 528.5 L368 528.5 L368.2 528.4 L368.3 528.3 L368.4 528.2 L368.6 528 L368.6 527.8 L368.7 527.6 L368.7 527.4 L368.8 527.1 L368.8 526.8 L368.8 526.5 L368.7 526.2 L368.7 525.8 L368.7 525.5 L368.6 525.2 L368.6 524.8 L368.6 524.5 L368.6 524.2 L368.6 523.9 L368.6 523.6 L368.6 523.4 L368.7 523.2 L368.7 523 L368.8 522.8 L369 522.7 L369.1 522.6 L369.3 522.5 L369.5 522.5 L369.7 522.5 L370 522.5 L370.3 522.6 L370.6 522.6 L370.9 522.7 L371.2 522.8 L371.5 522.9 L371.9 523 L372.2 523.1 L372.5 523.2 L372.8 523.3 L373.2 523.3 L373.4 523.4 L373.7 523.4 L374 523.4 L374.2 523.4 L374.4 523.3 L374.6 523.2 L374.7 523.1 L374.8 522.9 L374.9 522.7 L374.9 522.5 L375 522.2 L375 521.9 L375 521.6 L374.9 521.3 L374.9 520.9 L374.8 520.6 L374.8 520.3 L374.7 519.9 L374.6 519.6 L374.6 519.2 L374.6 518.9 L374.6 518.6 L374.6 518.3 L374.6 518.1 L374.7 517.9 L374.7 517.7 L374.9 517.5 L375 517.4 L375.2 517.3 L375.4 517.3 L375.6 517.2 L375.9 517.3 L376.2 517.3 L376.5 517.3 L376.8 517.4 L377.2 517.5 L377.5 517.6 L377.9 517.6 L378.2 517.7 L378.6 517.8 L378.9 517.9 L379.2 517.9 L379.5 517.9 L379.8 517.9 L380 517.9 L380.2 517.8 L380.4 517.7 L380.6 517.6 L380.7 517.4 L380.8 517.2 L380.8 517 L380.8 516.8 L380.8 516.5 L380.8 516.2 L380.8 515.8 L380.7 515.5 L380.6 515.2 L380.6 514.8 L380.5 514.4 L380.4 514.1 L380.3 513.8 L380.3 513.4 L380.3 513.1 L380.2 512.8 L380.3 512.6 L380.3 512.4 L380.4 512.2 L380.5 512 L380.7 511.9 L380.8 511.8 L381.1 511.7 L381.3 511.7 L381.6 511.7 L381.9 511.7 L382.2 511.7 L382.5 511.8 L382.9 511.8 L383.2 511.9 L383.6 512 L384 512.1 L384.3 512.1 L384.6 512.1 L385 512.2 L385.3 512.2 L385.5 512.1 L385.8 512.1 L386 512 L386.1 511.9 L386.3 511.7 L386.4 511.6 L386.4 511.3 L386.4 511.1 L386.4 510.8 L386.4 510.5 L386.4 510.2 L386.3 509.9 L386.2 509.5 L386.1 509.2 L386 508.8 L385.9 508.5 L385.8 508.1 L385.8 507.8 L385.7 507.5 L385.7 507.2 L385.7 507 L385.7 506.9 L385.8 506.9 L385.8 506.8 L385.8 506.7 L385.8 506.6 L385.8 506.5 L385.8 506.4 L385.9 506.4 L385.9 506.3 L386 506.2 L386 506.2 L386 506.1 L386.1 506.1 L386.2 506 L386.2 506 L386.3 506 L386.3 505.9 L386.4 505.9 L386.5 505.9 L386.6 505.9 L386.7 505.8 L386.7 505.8 L386.8 505.8 L386.9 505.8 L387 505.8 L387.1 505.8 L387.2 505.8 L387.3 505.8 L387.4 505.9 L387.6 505.9 L387.7 505.9 L387.8 505.9 L387.9 505.9 L388 506 L388.1 506 L388.3 506 L388.4 506.1 L388.5 506.1 L388.6 506.1 L388.7 506.2 L388.9 506.2 L389 506.2 L389.1 506.3 L389.2 506.3 L389.3 506.3 L389.5 506.4 L389.6 506.4 L389.7 506.4 L389.8 506.5 L389.9 506.5 L390 506.5 L390.2 506.6 L390.3 506.6 L390.4 506.6 L390.5 506.6 L390.6 506.6 L390.7 506.7 L390.8 506.7 L390.9 506.7 L390.9 506.7 L391 506.7 L391.1 506.7 L391.2 506.7 L391.3 506.7 L391.3 506.7 L391.4 506.7 L391.5 506.6 L391.5 506.6 L391.6 506.6 L391.6 506.6 L391.7 506.5 L391.7 506.5 L391.8 506.4 L391.8 506.4 L391.9 506.3 L391.9 506.3 L391.9 506.2 L392 506.2 L392 506.1 L392 506 L392 505.9 L392 505.9 L392.1 505.8 L392.1 505.7 L392.1 505.6 L392.1 505.5 L392.1 505.4 L392.1 505.3 L392.1 505.2 L392.1 505.1 L392.1 505 L392.1 504.9 L392.1 504.8 L392.1 504.7 L392.1 504.6 L392.1 504.5 L392.1 504.4 L392.1 504.3 L392.1 504.1 L392.1 504 L392.1 503.9 L392.1 503.8 L392.1 503.7 L392.1 503.6 L392.1 503.5 L392.1 503.3 L392.1 503.2 L392.1 503.1 L392.1 503 L392.1 502.9 L392.1 502.8 L392.1 502.7 L392.1 502.6 L392.1 502.5 L392.1 502.4 L392.1 502.3 L392.2 502.2 L392.2 502.1 L392.2 502 L392.2 501.9 L392.2 501.8 L392.3 501.8 L392.3 501.7 L392.3 501.6 L392.3 501.5 L392.4 501.5 L392.4 501.4 L392.5 501.3 L392.5 501.3 L392.5 501.2 L392.6 501.2 L392.6 501.1 L392.7 501.1 L392.7 501 L392.8 501 L392.8 501 L392.9 500.9 L392.9 500.9 L393 500.9 L393.1 500.9 L393.1 500.9 L393.2 500.8 L393.2 500.8 L393.3 500.8 L393.4 500.8 L393.4 500.8 L393.5 500.8 L393.6 500.8 L393.6 500.9 L393.7 500.9 L393.8 500.9 L393.9 500.9 L393.9 500.9 L394 500.9 L394.1 501 L394.2 501 L394.2 501 L394.3 501.1 L394.4 501.1 L394.4 501.1 L394.5 501.2 L394.6 501.2 L394.7 501.2 L394.7 501.3 L394.8 501.3 L394.9 501.4 L395 501.4 L395 501.5 L395.1 501.5 L395.2 501.6 L395.2 501.6 L395.3 501.7 L395.4 501.7 L395.4 501.8 L395.5 501.8 L395.6 501.9 L395.6 501.9 L395.7 502 L395.7 502 L395.8 502.1 L395.8 502.2 L395.9 502.2 L396 502.3 L396 502.3 L396.1 502.4 L396.1 502.4 L396.2 502.5 L396.2 502.5 L396.2 502.6 L396.3 502.6 L396.3 502.7 L396.4 502.7 L396.4 502.8 L396.4 502.8 L396.5 502.9 L396.5 502.9 L396.5 503 L396.6 503 L396.6 503.1" fill="none" stroke="#c8643a" stroke-width="1.3" stroke-linejoin="round" stroke-linecap="round" />
<path d="M358.8 532.3 L358.8 532 L358.8 531.7 L358.8 531.4 L358.9 531.1 L358.9 530.9 L358.9 530.6 L359 530.4 L359 530.2 L359.1 530 L359.2 529.8 L359.3 529.7 L359.4 529.6 L359.6 529.5 L359.7 529.5 L359.9 529.4 L360.1 529.4 L360.3 529.5 L360.5 529.5 L360.7 529.6 L361 529.7 L361.2 529.8 L361.5 529.9 L361.8 530 L362.1 530.1 L362.4 530.3 L362.7 530.4 L362.9 530.5 L363.2 530.6 L363.5 530.7 L363.7 530.8 L364 530.8 L364.2 530.9 L364.4 530.9 L364.6 530.9 L364.8 530.8 L365 530.7 L365.1 530.6 L365.2 530.5 L365.3 530.3 L365.4 530.1 L365.5 529.9 L365.5 529.6 L365.5 529.4 L365.5 529.1 L365.5 528.8 L365.5 528.5 L365.5 528.1 L365.5 527.8 L365.5 527.5 L365.4 527.2 L365.4 526.9 L365.4 526.6 L365.4 526.3 L365.5 526 L365.5 525.8 L365.6 525.6 L365.7 525.4 L365.8 525.2 L365.9 525.1 L366 525 L366.2 525 L366.4 524.9 L366.6 524.9 L366.9 525 L367.1 525 L367.4 525.1 L367.7 525.2 L368 525.3 L368.3 525.4 L368.7 525.5 L369 525.6 L369.3 525.7 L369.6 525.8 L369.9 525.9 L370.2 525.9 L370.5 526 L370.7 526 L371 526 L371.2 526 L371.4 525.9 L371.5 525.8 L371.6 525.6 L371.7 525.5 L371.8 525.3 L371.9 525 L371.9 524.8 L371.9 524.5 L371.9 524.2 L371.9 523.9 L371.8 523.5 L371.8 523.2 L371.7 522.8 L371.7 522.5 L371.7 522.2 L371.6 521.8 L371.6 521.5 L371.6 521.2 L371.6 521 L371.7 520.7 L371.7 520.5 L371.8 520.3 L371.9 520.2 L372.1 520.1 L372.2 520 L372.4 519.9 L372.7 519.9 L372.9 519.9 L373.2 519.9 L373.5 520 L373.8 520.1 L374.2 520.2 L374.5 520.2 L374.8 520.3 L375.2 520.4 L375.5 520.5 L375.8 520.6 L376.2 520.7 L376.5 520.7 L376.7 520.7 L377 520.7 L377.2 520.6 L377.4 520.6 L377.6 520.5 L377.7 520.3 L377.8 520.1 L377.9 519.9 L377.9 519.7 L377.9 519.4 L377.9 519.1 L377.9 518.8 L377.9 518.5 L377.8 518.1 L377.7 517.8 L377.7 517.4 L377.6 517.1 L377.5 516.7 L377.5 516.4 L377.5 516.1 L377.4 515.8 L377.4 515.5 L377.5 515.3 L377.5 515.1 L377.6 514.9 L377.8 514.8 L377.9 514.6 L378.1 514.6 L378.4 514.5 L378.6 514.5 L378.9 514.5 L379.2 514.5 L379.5 514.6 L379.9 514.7 L380.2 514.7 L380.6 514.8 L380.9 514.9 L381.3 515 L381.6 515 L381.9 515.1 L382.3 515.1 L382.5 515.1 L382.8 515.1 L383 515 L383.2 514.9 L383.4 514.8 L383.5 514.6 L383.6 514.4 L383.7 514.2 L383.7 514 L383.7 513.7 L383.7 513.4 L383.6 513.1 L383.5 512.7 L383.5 512.4 L383.4 512 L383.3 511.7 L383.2 511.3 L383.1 511 L383.1 510.7 L383 510.3 L383 510.1 L383 509.8 L383 509.6 L383.1 509.3 L383.2 509.2 L383.3 509 L383.5 508.9 L383.7 508.9 L384 508.8 L384.2 508.8 L384.5 508.8 L384.8 508.8 L385.2 508.9 L385.5 508.9 L385.9 509 L386.3 509 L386.6 509.1 L387 509.1 L387.3 509.2 L387.6 509.2 L387.9 509.2 L388 509.3 L388.1 509.3 L388.1 509.3 L388.2 509.3 L388.3 509.2 L388.4 509.2 L388.5 509.2 L388.5 509.2 L388.6 509.2 L388.7 509.1 L388.7 509.1 L388.8 509.1 L388.8 509 L388.9 509 L388.9 508.9 L388.9 508.9 L389 508.8 L389 508.8 L389 508.7 L389.1 508.6 L389.1 508.5 L389.1 508.5 L389.1 508.4 L389.1 508.3 L389.1 508.2 L389.1 508.1 L389.1 508 L389.1 507.9 L389.1 507.8 L389.1 507.7 L389.1 507.6 L389.1 507.5 L389.1 507.4 L389.1 507.3 L389.1 507.1 L389.1 507 L389 506.9 L389 506.8 L389 506.7 L389 506.5 L389 506.4 L388.9 506.3 L388.9 506.2 L388.9 506 L388.9 505.9 L388.9 505.8 L388.9 505.7 L388.8 505.5 L388.8 505.4 L388.8 505.3 L388.8 505.2 L388.8 505 L388.8 504.9 L388.8 504.8 L388.8 504.7 L388.8 504.6 L388.8 504.5 L388.8 504.4 L388.8 504.3 L388.8 504.2 L388.8 504.1 L388.9 504 L388.9 503.9 L388.9 503.9 L388.9 503.8 L389 503.7 L389 503.6 L389 503.6 L389.1 503.5 L389.1 503.5 L389.2 503.4 L389.2 503.4 L389.3 503.3 L389.3 503.3 L389.4 503.3 L389.5 503.2 L389.5 503.2 L389.6 503.2 L389.7 503.2 L389.8 503.2 L389.8 503.1 L389.9 503.1 L390 503.1 L390.1 503.1 L390.2 503.2 L390.3 503.2 L390.4 503.2 L390.5 503.2 L390.6 503.2 L390.7 503.2 L390.8 503.3 L390.9 503.3 L391 503.3 L391.1 503.4 L391.2 503.4 L391.3 503.4 L391.4 503.5 L391.5 503.5 L391.6 503.6 L391.7 503.6 L391.8 503.6 L391.9 503.7 L392 503.7 L392.2 503.8 L392.3 503.8 L392.4 503.9 L392.5 503.9 L392.6 504 L392.7 504 L392.8 504.1 L392.9 504.1 L393 504.1 L393.1 504.2 L393.1 504.2 L393.2 504.3 L393.3 504.3 L393.4 504.3 L393.5 504.4 L393.6 504.4 L393.7 504.4 L393.7 504.5 L393.8 504.5 L393.9 504.5 L394 504.5 L394 504.5 L394.1 504.5 L394.2 504.6 L394.2 504.6 L394.3 504.6 L394.3 504.6 L394.4 504.6 L394.5 504.6 L394.5 504.6 L394.6 504.6 L394.6 504.5 L394.7 504.5 L394.7 504.5 L394.7 504.5 L394.8 504.5 L394.8 504.4 L394.9 504.4 L394.9 504.4 L394.9 504.3 L395 504.3 L395 504.3 L395 504.2 L395 504.2 L395.1 504.1 L395.1 504.1 L395.1 504 L395.1 504 L395.2 503.9 L395.2 503.8 L395.2 503.8 L395.2 503.7 L395.2 503.7 L395.3 503.6 L395.3 503.5 L395.3 503.5 L395.3 503.4 L395.3 503.3 L395.3 503.2 L395.4 503.2 L395.4 503.1 L395.4 503 L395.4 502.9 L395.4 502.9 L395.4 502.8 L395.5 502.7 L395.5 502.6 L395.5 502.5 L395.5 502.5 L395.5 502.4 L395.5 502.3 L395.6 502.2 L395.6 502.1 L395.6 502.1 L395.6 502 L395.7 501.9 L395.7 501.8 L395.7 501.8 L395.7 501.7 L395.8 501.6 L395.8 501.5 L395.8 501.5 L395.8 501.4 L395.9 501.3 L395.9 501.3 L395.9 501.2 L396 501.1 L396 501.1 L396.1 501 L396.1 500.9 L396.1 500.9 L396.2 500.8 L396.2 500.7 L396.3 500.7 L396.3 500.6 L396.4 500.6 L396.4 500.5" fill="none" stroke="#6a84b0" stroke-width="1.3" stroke-linejoin="round" stroke-linecap="round" />
<path d="M310 512.5 L343.5 514.7 L338.5 486 Z" fill="#c6d6bc" opacity="0.85"/>
<path d="M310 512.5 L343.5 514.7 L338.5 486" fill="none" stroke="#80b060" stroke-width="1"/>
<circle cx="304.2" cy="478.6" r="34.5" fill="#fff" stroke="#86b46a" stroke-width="0.9"/>
<rect x="273.7" y="478" width="57.8" height="3.6" fill="#d8d8d8"/><rect x="284.9" y="478" width="35.8" height="3.6" fill="#e0b030" stroke="#a08020" stroke-width="0.4"/>
<rect x="273.7" y="486.8" width="57.8" height="3.6" fill="#d8d8d8"/><rect x="284.9" y="486.8" width="35.8" height="3.6" fill="#5040b0"/>
<line x1="290.5" y1="471" x2="290.5" y2="478" stroke="#5a2020" stroke-width="0.8"/><circle cx="290.5" cy="470.5" r="3.4" fill="#8a3434" stroke="#5a2020" stroke-width="0.5"/>
<line x1="298.2" y1="471" x2="298.2" y2="478" stroke="#5a2020" stroke-width="0.8"/><circle cx="298.2" cy="470.5" r="3.4" fill="#8a3434" stroke="#5a2020" stroke-width="0.5"/>
<line x1="306.3" y1="471" x2="306.3" y2="478" stroke="#5a2020" stroke-width="0.8"/><circle cx="306.3" cy="470.5" r="3.4" fill="#8a3434" stroke="#5a2020" stroke-width="0.5"/>
<line x1="314.9" y1="471" x2="314.9" y2="478" stroke="#5a2020" stroke-width="0.8"/><circle cx="314.9" cy="470.5" r="3.4" fill="#8a3434" stroke="#5a2020" stroke-width="0.5"/>
<path d="M75.7 778.4 V958.3 H305.5" fill="none" stroke="#111" stroke-width="1.8"/>
<line x1="71" y1="793.5" x2="75.7" y2="793.5" stroke="#111" stroke-width="1"/>
<text x="68.5" y="797.3" font-size="10.5" fill="#222" text-anchor="end">100</text>
<line x1="71" y1="827.2" x2="75.7" y2="827.2" stroke="#111" stroke-width="1"/>
<text x="68.5" y="831" font-size="10.5" fill="#222" text-anchor="end">80</text>
<line x1="71" y1="861.3" x2="75.7" y2="861.3" stroke="#111" stroke-width="1"/>
<text x="68.5" y="865.1" font-size="10.5" fill="#222" text-anchor="end">60</text>
<line x1="71" y1="895.9" x2="75.7" y2="895.9" stroke="#111" stroke-width="1"/>
<text x="68.5" y="899.7" font-size="10.5" fill="#222" text-anchor="end">40</text>
<line x1="71" y1="929.6" x2="75.7" y2="929.6" stroke="#111" stroke-width="1"/>
<text x="68.5" y="933.4" font-size="10.5" fill="#222" text-anchor="end">20</text>
<line x1="71" y1="958.3" x2="75.7" y2="958.3" stroke="#111" stroke-width="1"/>
<text x="68.5" y="962.1" font-size="10.5" fill="#222" text-anchor="end">0</text>
<text transform="translate(49.5 875.4) rotate(-90)" font-size="16" fill="#111" text-anchor="middle" textLength="57" lengthAdjust="spacingAndGlyphs">Survival</text>
<text x="193.2" y="974.2" font-size="16" fill="#111" text-anchor="middle" textLength="36" lengthAdjust="spacingAndGlyphs">Time</text>
<path d="M76.5 793.5 H115.8 V801 H177.2 V808 H289.6" fill="none" stroke="#6e6e6e" stroke-width="2"/>
<path d="M76.5 793.5 H100.7 V806.7 H119.4 V834.5 H148.9 V860.4 H159.5 V878.4 H193.8 V901.6 H226.3 V915.5 H275.4 V958.3" fill="none" stroke="#3a58b8" stroke-width="2"/>
<path d="M315 775.5 L315.5 776 L316 776.6 L316.6 777.1 L317.1 777.5 L317.6 777.9 L318.1 778.2 L318.6 778.5 L319.1 778.6 L319.6 778.7 L320.1 778.7 L320.6 778.6 L321.1 778.3 L321.6 778.1 L322.1 777.7 L322.6 777.3 L323.1 776.8 L323.5 776.2 L324 775.7 L324.5 775.1 L325 774.5 L325.5 773.9 L325.9 773.4 L326.4 772.9 L326.9 772.5 L327.4 772.1 L327.9 771.8 L328.4 771.6 L328.9 771.5 L329.4 771.5 L329.9 771.6 L330.4 771.7 L330.9 772 L331.4 772.3 L331.9 772.7 L332.4 773.1 L333 773.6 L333.5 774.1 L334 774.7 L334.5 775.2 L335 775.7 L335.6 776.2 L336.1 776.7 L336.6 777.1 L337.1 777.4 L337.6 777.6 L338.1 777.8 L338.6 777.9 L339.1 777.8 L339.6 777.7 L340.1 777.5 L340.6 777.2 L341.1 776.8 L341.6 776.4 L342.1 775.9 L342.5 775.4 L343 774.8 L343.5 774.2 L344 773.6 L344.5 773.1 L344.9 772.5 L345.4 772.1 L345.9 771.6 L346.4 771.3 L346.9 771 L347.4 770.8 L347.9 770.7 L348.4 770.6 L348.9 770.7 L349.4 770.9 L349.9 771.1 L350.4 771.5 L350.9 771.9 L351.4 772.3 L352 772.8 L352.5 773.3 L353 773.9 L353.5 774.4 L354.1 774.9 L354.6 775.4 L355.1 775.9 L355.6 776.3 L356.1 776.6 L356.6 776.8 L357.1 777 L357.6 777 L358.1 777 L358.6 776.9 L359.1 776.7 L359.6 776.4 L360.1 776 L360.6 775.6 L361.1 775.1 L361.5 774.5 L362 773.9 L362.5 773.4 L363 772.8 L363.4 772.2 L363.9 771.7 L364.4 771.2 L364.9 770.8 L365.4 770.4 L365.9 770.1 L366.4 769.9 L366.9 769.8 L367.4 769.8 L367.9 769.9 L368.4 770.1 L368.9 770.3 L369.4 770.7 L369.9 771 L370.4 771.5 L371 772 L371.5 772.5 L372 773.1 L372.2 773.2 L372.5 773.4 L372.7 773.6 L372.9 773.8 L373.2 773.9 L373.4 774.1 L373.7 774.3 L373.9 774.4 L374.2 774.5 L374.4 774.6 L374.7 774.8 L374.9 774.9 L375.1 774.9 L375.4 775 L375.6 775.1 L375.9 775.1 L376.1 775.1 L376.3 775.2 L376.6 775.2 L376.8 775.2 L377 775.1 L377.2 775.1 L377.4 775.1 L377.6 775 L377.9 774.9 L378 774.8 L378.2 774.7 L378.4 774.6 L378.6 774.5 L378.8 774.3 L378.9 774.2 L379.1 774 L379.2 773.8 L379.4 773.6 L379.5 773.4 L379.6 773.2 L379.8 773 L379.9 772.8 L380 772.6 L380.1 772.3 L380.2 772.1 L380.2 771.8 L380.3 771.6 L380.4 771.3 L380.4 771.1 L380.5 770.8 L380.6 770.5 L380.6 770.3 L380.6 770 L380.7 769.7 L380.7 769.4 L380.7 769.2 L380.8 768.9 L380.8 768.6 L380.8 768.4 L380.8 768.1 L380.9 767.9 L380.9 767.6 L380.9 767.4 L380.9 767.1 L380.9 766.9 L381 766.7 L381 766.4 L381 766.2 L381 766 L381.1 765.8 L381.1 765.6 L381.1 765.4 L381.2 765.3 L381.2 765.1 L381.3 764.9 L381.4 764.8 L381.4 764.6 L381.5 764.5 L381.6 764.3 L381.7 764.2 L381.8 764.1 L381.9 764 L382 763.9 L382.2 763.8 L382.3 763.7 L382.4 763.6 L382.6 763.6 L382.8 763.5 L382.9 763.4 L383.1 763.4 L383.3 763.3 L383.5 763.3 L383.7 763.2 L383.9 763.2 L384.1 763.1 L384.4 763.1 L384.6 763 L384.8 763 L385.1 763 L385.3 762.9 L385.6 762.9 L385.8 762.9 L386.1 762.8 L386.4 762.8 L386.6 762.8 L386.9 762.7 L387.2 762.7 L387.5 762.6 L387.7 762.6 L388 762.5 L388.3 762.5 L388.6 762.4 L388.8 762.3 L389.1 762.3 L389.3 762.2 L389.6 762.1 L389.8 762 L390.1 761.9 L390.3 761.8 L390.5 761.7 L390.8 761.6 L391 761.4 L391.2 761.3 L391.4 761.2 L391.5 761 L391.7 760.9 L391.9 760.7 L392 760.6 L392.1 760.4 L392.3 760.2 L392.4 760 L392.5 759.9 L392.5 759.7 L392.6 759.5 L392.7 759.3 L392.7 759 L392.7 758.8 L392.7 758.6 L392.7 758.4 L392.7 758.2 L392.7 757.9 L392.7 757.7 L392.6 757.5 L392.5 757.2 L392.5 757 L392.4 756.7 L392.3 756.5 L392.2 756.2 L392.1 756 L391.9 755.8 L391.8 755.5 L391.7 755.3 L391.5 755 L391.4 754.8 L391.2 754.5 L391.1 754.3 L390.9 754 L390.8 753.8 L390.6 753.6 L390.4 753.3 L390.3 753.1 L390.1 752.9 L390 752.6 L389.8 752.4 L389.6 752.2 L389.5 752 L389.4 751.8 L389.2 751.5 L389.1 751.3 L389 751.1 L388.9 750.9 L388.8 750.7 L388.7 750.5 L388.6 750.3 L388.5 750.1 L388.5 750 L388.4 749.8 L388.4 749.6 L388.4 749.4 L388.4 749.2 L388.4 749 L388.4 748.9 L388.4 748.7 L388.4 748.5 L388.5 748.4 L388.6 748.2 L388.6 748 L388.7 747.8 L388.8 747.7 L389 747.5 L389.1 747.3 L389.2 747.2 L389.4 747 L389.5 746.8 L389.7 746.6 L389.9 746.5 L390.1 746.3 L390.3 746.1 L390.5 745.9 L390.7 745.8 L390.9 745.6 L391.1 745.4 L391.3 745.2 L391.5 745 L391.8 744.7 L392.1 744.5 L392.3 744.2 L392.6 744 L392.9 743.7 L393.1 743.4 L393.3 743.1 L393.6 742.9 L393.8 742.6 L394 742.3 L394.1 742 L394.3 741.7 L394.4 741.4 L394.5 741.1 L394.6 740.8 L394.7 740.5 L394.7 740.2 L394.7 740 L394.7 739.7 L394.7 739.4 L394.7 739.1 L394.6 738.9 L394.5 738.6 L394.4 738.4 L394.3 738.1 L394.1 737.9 L393.9 737.7 L393.8 737.5 L393.5 737.3 L393.3 737.1 L393.1 736.9 L392.8 736.7 L392.6 736.6 L392.3 736.4 L392 736.3 L391.7 736.1 L391.4 736 L391.1 735.9 L390.8 735.8 L390.4 735.7 L390.1 735.6 L389.8 735.5 L389.5 735.4 L389.1 735.3 L388.8 735.3 L388.5 735.2 L388.2 735.1 L387.9 735.1 L387.6 735 L387.3 735 L387 734.9 L386.7 734.8 L386.4 734.8 L386.2 734.7 L385.9 734.6 L385.7 734.5 L385.5 734.4 L385.2 734.3 L385.1 734.2 L384.9 734.1 L384.7 734 L384.5 733.9 L384.4 733.7 L384.3 733.5 L384.2 733.4 L384.1 733.2 L384 733 L383.9 732.8 L383.8 732.6 L383.8 732.3 L383.7 732.1 L383.7 731.8 L383.7 731.6 L383.7 731.3 L383.7 731 L383.7 730.7 L383.7 730.4 L383.7 730.1 L383.7 729.7 L383.7 729.4 L383.7 729.1 L383.8 728.7 L383.8 728.4 L383.8 728 L383.8 727.7 L383.9 727.3 L383.9 727 L383.9 726.6 L383.9 726.3 L383.9 725.9 L383.9 725.6 L383.9 725.3 L383.8 725 L383.8 724.6 L383.7 724.3 L383.7 724 L383.6 723.8 L383.5 723.5 L383.4 723.2 L383.3 723 L383.2 722.8 L383 722.6 L382.9 722.4 L382.7 722.2 L382.5 722 L382.3 721.9 L382.1 721.8 L381.9 721.7 L381.6 721.6 L381.4 721.5 L381.1 721.4 L380.8 721.4 L380.5 721.3 L380.2 721.3 L379.9 721.3 L379.6 721.3 L379.3 721.3 L378.9 721.3 L378.6 721.4 L378.2 721.4 L377.9 721.4 L377.5 721.5 L377.1 721.5 L376.8 721.6 L376.4 721.6 L376.1 721.6 L375.7 721.7 L375.4 721.7 L375 721.7 L374.7 721.8 L374.3 721.8 L374 721.8 L373.7 721.8 L373.3 721.8 L373 721.7 L372.8 721.7 L372.5 721.6 L372.2 721.5 L371.9 721.5 L371.7 721.4 L371.5 721.2 L371.3 721.1 L371.1 720.9 L370.9 720.8 L370.7 720.6 L370.6 720.4 L370.4 720.2 L370.3 719.9 L370.2 719.7 L370.1 719.4 L370 719.1 L370 718.9 L369.9 718.6 L369.9 718.2 L369.8 717.9 L369.8 717.6 L369.8 717.3 L369.8 716.9 L369.8 716.6 L369.8 716.2 L369.9 715.9 L369.9 715.5 L369.9 715.1 L370 714.8 L370 714.4 L370 714.1 L370.1 713.7 L370.1 713.4 L370.2 713.1 L370.2 712.7 L370.2 712.4 L370.2 712.1 L370.3 711.8 L370.3 711.5 L370.3 711.3 L370.3 711 L370.2 710.7 L370.2 710.5 L370.2 710.3 L370.1 710 L370 709.8 L369.9 709.6 L369.8 709.5 L369.7 709.3 L369.6 709.1 L369.4 709 L369.3 708.8 L369.1 708.7 L368.9 708.6 L368.7 708.5 L368.5 708.4 L368.2 708.3 L368 708.2 L367.7 708.1 L367.4 708 L367.1 707.9 L366.8 707.8 L366.5 707.7 L366.2 707.6 L365.9 707.6 L365.5 707.5 L365.1 707.3 L364.7 707.2 L364.2 707 L363.8 706.8 L363.4 706.7 L363 706.5 L362.6 706.3 L362.2 706.1 L361.8 705.8 L361.5 705.6 L361.2 705.3 L360.9 705.1 L360.6 704.8 L360.4 704.5 L360.2 704.1 L360.1 703.8 L360 703.5 L359.9 703.1 L359.9 702.8 L359.9 702.4 L359.9 702 L360 701.6 L360.1 701.3 L360.3 700.9 L360.5 700.5 L360.8 700.1 L361 699.7 L361.3 699.3 L361.6 698.9 L362 698.5 L362.3 698.1 L362.7 697.8 L363 697.4 L363.4 697 L363.7 696.7 L364 696.3 L364.4 696 L364.6 695.6 L364.9 695.3 L365.1 694.9 L365.3 694.6 L365.5 694.3 L365.6 693.9 L365.7 693.6 L365.7 693.3 L365.7 693 L365.7 692.6 L365.5 692.3 L365.4 691.9 L365.2 691.6 L365 691.2 L364.7 690.9 L364.4 690.5 L364.1 690.1 L363.8 689.7 L363.4 689.3 L363.1 688.9 L362.7 688.5 L362.3 688.1 L362 687.6 L361.6 687.2 L361.3 686.8 L361 686.3 L360.8 685.9 L360.5 685.5 L360.4 685 L360.2 684.6 L360.1 684.1 L360.1 683.7 L360.1 683.3 L360.2 682.9 L360.4 682.5 L360.5 682.2 L360.8 681.8 L361.1 681.5 L361.4 681.1 L361.8 680.8 L362.2 680.5 L362.7 680.2 L363.2 680 L363.7 679.7 L364.2 679.5 L364.8 679.3 L365.3 679 L365.8 678.8 L366.4 678.6 L366.9 678.4 L367.3 678.2 L367.8 678 L368.2 677.7 L368.6 677.5 L368.9 677.2 L369.2 677 L369.4 676.7 L369.6 676.4 L369.8 676 L369.9 675.7 L369.9 675.3 L369.9 674.9 L369.9 674.4 L369.8 674 L369.7 673.5 L369.6 673 L369.4 672.4 L369.2 671.9 L369.1 671.3 L368.9 670.8 L368.7 670.2 L368.6 669.6 L368.4 669 L368.3 668.5 L368.2 667.9 L368.2 667.4 L368.2 666.8 L368.2 666.3 L368.3 665.9 L368.4 665.4 L368.6 665 L368.9 664.6 L369.2 664.3 L369.5 664 L369.9 663.8 L370.4 663.6 L370.8 663.4 L371.4 663.3 L371.9 663.2 L372.5 663.2 L373.1 663.1 L373.7 663.1 L374.3 663.2 L375 663.2 L375.6 663.2 L376.2 663.3 L376.8 663.3 L377.4 663.3 L377.9 663.4 L378.4 663.3 L378.9 663.3 L379.3 663.2 L379.7 663.1 L380.1 662.9 L380.4 662.7 L380.7 662.4 L380.9 662.1 L381.1 661.7 L381.3 661.3 L381.5 660.8 L381.6 660.3 L381.7 659.7 L381.8 659.1 L381.9 658.5 L382.1 657.8 L382.2 657.2 L382.3 656.5 L382.5 655.9 L382.6 655.2 L382.8 654.6 L383.1 654.1 L383.3 653.6 L383.7 653.1 L384 652.7 L384.4 652.3 L384.8 652.1 L385.3 651.9 L385.8 651.8 L386.3 651.7 L386.9 651.8 L387.4 651.9 L388.1 652.1 L388.7 652.3 L389.3 652.6 L389.9 652.9 L390.6 653.3 L391.2 653.6 L391.8 654 L392.4 654.4 L393 654.7 L393.6 655 L394.1 655.2 L394.7 655.4 L395.2 655.5 L395.7 655.5 L396.2 655.4 L396.6 655.3 L397 655 L397.5 654.7 L397.9 654.3 L398.3 653.8 L398.8 653.2 L399.2 652.6 L399.6 651.9 L400.1 651.2 L400.6 650.6 L401.1 649.9 L401.6 649.3 L402.1 648.8 L402.7 648.3 L403.2 648 L403.9 647.7 L404.4 647.6 L405 647.6 L405.5 647.7 L406 647.9 L406.6 648.1 L407.1 648.5 L407.6 648.9 L408 649.4 L408.5 649.9 L409 650.4 L409.4 651 L409.8 651.6 L410.3 652.1 L410.7 652.6 L411.1 653.1 L411.4 653.6 L411.8 654 L412.2 654.4 L412.6 654.6 L413 654.9 L413.4 655 L413.8 655.1 L414.2 655.1 L414.6 655.1 L415 654.9 L415.5 654.8 L416 654.6 L416.4 654.3 L416.9 654 L417.4 653.7 L418 653.4 L418.5 653.1 L419 652.7 L419.6 652.4 L420.1 652.1 L420.7 651.9 L421.2 651.6 L421.7 651.5 L422.3 651.3 L422.8 651.2 L423.3 651.2 L423.7 651.2 L424.2 651.3 L424.6 651.5 L425 651.7 L425.3 651.9 L425.7 652.2 L426 652.6 L426.2 653 L426.5 653.4 L426.7 653.9 L426.9 654.4 L427 655 L427.2 655.5 L427.3 656.1 L427.4 656.7 L427.4 657.3 L427.5 657.8 L427.6 658.4 L427.7 658.9 L427.7 659.4 L427.8 659.9 L427.9 660.4 L428 660.8 L428.2 661.2 L428.3 661.5 L428.5 661.9 L428.7 662.1 L429 662.4 L429.2 662.6 L429.5 662.7 L429.9 662.9 L430.3 663 L430.7 663 L431.1 663.1 L431.6 663.1 L432.1 663.2 L432.6 663.2 L433.2 663.2 L433.7 663.2 L434.3 663.2 L434.9 663.2 L435.4 663.2 L436 663.3 L436.6 663.4 L437.1 663.5 L437.6 663.6 L438.1 663.7 L438.6 663.9 L439 664.1 L439.3 664.4 L439.7 664.6 L440 665 L440.2 665.3 L440.4 665.7 L440.5 666.1 L440.6 666.5 L440.6 667 L440.6 667.5 L440.6 668 L440.5 668.5 L440.3 669 L440.2 669.6 L440 670.1 L439.8 670.7 L439.5 671.2 L439.3 671.8 L439.1 672.3 L438.8 672.8 L438.6 673.3 L438.4 673.8 L438.3 674.3 L438.2 674.8 L438.1 675.2 L438 675.6 L438 676 L438.1 676.4 L438.2 676.8 L438.4 677.1 L438.6 677.4 L438.8 677.8 L439.2 678.1 L439.5 678.3 L440 678.6 L440.4 678.9 L440.9 679.2 L441.4 679.5 L442 679.7 L442.5 680 L443.1 680.3 L443.6 680.6 L444.2 680.9 L444.7 681.2 L445.2 681.6 L445.6 681.9 L446 682.3 L446.3 682.7 L446.6 683.1 L446.8 683.5 L447 684 L447.1 684.4 L447.1 684.9 L447 685.3 L446.9 685.8 L446.7 686.3 L446.4 686.8 L446.1 687.3 L445.8 687.8 L445.4 688.3 L444.9 688.8 L444.5 689.2 L444 689.7 L443.6 690.2 L443.1 690.7 L442.7 691.1 L442.3 691.6 L442 692.1 L441.7 692.5 L441.5 692.9 L441.3 693.4 L441.2 693.8 L441.1 694.3 L441.2 694.7 L441.3 695.1 L441.5 695.6 L441.7 696 L442 696.4 L442.4 696.9 L442.8 697.3 L443.3 697.8 L443.8 698.3 L444.3 698.7 L444.8 699.2 L445.3 699.7 L445.7 700.2 L446.2 700.7 L446.6 701.2 L446.9 701.7 L447.2 702.2 L447.4 702.7 L447.5 703.2 L447.6 703.7 L447.5 704.2 L447.4 704.7 L447.2 705.2 L446.9 705.6 L446.6 706.1 L446.1 706.5 L445.6 707 L445.1 707.4 L444.5 707.8 L443.9 708.2 L443.3 708.6 L442.7 709 L442.1 709.4 L441.6 709.8 L441.1 710.2 L440.6 710.6 L440.2 711 L439.9 711.4 L439.7 711.6 L439.6 711.9 L439.5 712.2 L439.4 712.5 L439.4 712.9 L439.4 713.2 L439.4 713.5 L439.5 713.9 L439.6 714.3 L439.8 714.6 L440 715 L440.2 715.4 L440.4 715.8 L440.6 716.2 L440.8 716.6 L441 717 L441.3 717.4 L441.5 717.8 L441.7 718.3 L442 718.7 L442.2 719.1 L442.3 719.5 L442.5 719.9 L442.6 720.3 L442.8 720.7 L442.9 721.1 L442.9 721.5 L443 721.9 L443 722.2 L442.9 722.6 L442.9 722.9 L442.8 723.2 L442.7 723.5 L442.5 723.8 L442.3 724 L442.1 724.3 L441.9 724.5 L441.6 724.7 L441.3 724.9 L441 725.1 L440.7 725.3 L440.3 725.4 L440 725.6 L439.6 725.7 L439.2 725.8 L438.8 725.9 L438.4 726 L438 726.1 L437.6 726.1 L437.2 726.2 L436.8 726.3 L436.4 726.4 L436 726.4 L435.6 726.5 L435.2 726.5 L434.9 726.6 L434.5 726.7 L434.2 726.8 L433.9 726.9 L433.6 727 L433.3 727.1 L433 727.2 L432.8 727.3 L432.5 727.4 L432.3 727.6 L432.2 727.8 L432 727.9 L431.8 728.1 L431.7 728.3 L431.6 728.6 L431.5 728.8 L431.4 729 L431.4 729.3 L431.3 729.6 L431.3 729.9 L431.3 730.2 L431.3 730.5 L431.3 730.8 L431.3 731.1 L431.3 731.5 L431.3 731.8 L431.4 732.1 L431.4 732.5 L431.5 732.9 L431.5 733.2 L431.5 733.6 L431.6 734 L431.6 734.3 L431.7 734.7 L431.7 735 L431.7 735.4 L431.7 735.7 L431.7 736.1 L431.8 736.4 L431.7 736.7 L431.7 737 L431.7 737.3 L431.6 737.6 L431.6 737.9 L431.5 738.2 L431.4 738.4 L431.4 738.7 L431.2 738.9 L431.1 739.1 L431 739.3 L430.8 739.5 L430.7 739.7 L430.5 739.8 L430.3 739.9 L430.1 740.1 L429.9 740.2 L429.7 740.3 L429.5 740.4 L429.2 740.4 L429 740.5 L428.7 740.6 L428.4 740.6 L428.1 740.6 L427.9 740.6 L427.6 740.7 L427.3 740.7 L427 740.7 L426.6 740.7 L426.3 740.7 L426 740.7 L425.7 740.6 L425.4 740.6 L425.1 740.6 L424.7 740.6 L424.4 740.6 L424.1 740.6 L423.8 740.6 L423.5 740.6 L423.2 740.6 L422.9 740.6 L422.6 740.6 L422.3 740.7 L422 740.7 L421.8 740.7 L421.5 740.8 L421.2 740.8 L421 740.9 L420.8 741 L420.5 741.1 L420.3 741.2 L420.1 741.3 L419.9 741.4 L419.8 741.5 L419.6 741.6 L419.4 741.8 L419.3 741.9 L419.1 742.1 L419 742.3 L418.9 742.5 L418.8 742.7 L418.7 742.9 L418.6 743.1 L418.6 743.3 L418.5 743.5 L418.5 743.7 L418.5 744 L418.4 744.2 L418.4 744.5 L418.4 744.7 L418.5 745 L418.5 745.2 L418.5 745.5 L418.5 745.7 L418.6 746 L418.7 746.3 L418.7 746.5 L418.8 746.8 L418.9 747.1 L418.9 747.3 L419 747.6 L419.1 747.8 L419.2 748.1 L419.3 748.3 L419.4 748.6 L419.6 748.8 L419.7 749 L419.8 749.3 L419.9 749.5 L420 749.7 L420.1 749.9 L420.2 750.2 L420.3 750.4 L420.4 750.6 L420.5 750.7 L420.6 750.9 L420.7 751.1 L420.8 751.3 L420.9 751.5 L421 751.6 L421 751.8 L421.1 752 L421.2 752.1 L421.2 752.3 L421.2 752.4 L421.3 752.5 L421.3 752.7 L421.3 752.8 L421.3 753 L421.3 753.2 L421.2 753.3 L421.2 753.5 L421.1 753.6 L421.1 753.8 L421 753.9 L420.9 754.1 L420.8 754.2 L420.7 754.4 L420.6 754.5 L420.5 754.7 L420.3 754.8 L420.2 755 L420 755.2 L419.9 755.3 L419.7 755.5 L419.6 755.7 L419.4 755.8 L419.2 756 L419 756.2 L418.9 756.4 L418.7 756.6 L418.5 756.8 L418.3 757 L418.2 757.2 L418 757.4 L417.8 757.6 L417.7 757.8 L417.5 758 L417.4 758.2 L417.2 758.5 L417.1 758.7 L416.9 758.9 L416.8 759.2 L416.7 759.4 L416.6 759.6 L416.5 759.8 L416.4 760.1 L416.3 760.3 L416.2 760.6 L416.2 760.8 L416.1 761 L416.1 761.3 L416 761.5 L416 761.7 L416 761.9 L416 762.2 L416.1 762.4 L416.1 762.6 L416.1 762.8 L416.2 763 L416.3 763.2 L416.4 763.4 L416.5 763.6 L416.6 763.8 L416.7 763.9 L416.8 764.1 L417 764.3 L417.1 764.4 L417.3 764.6 L417.5 764.7 L417.7 764.8 L417.9 764.9 L418.1 765.1 L418.3 765.2 L418.5 765.3 L418.7 765.3 L419 765.4 L419.2 765.5 L419.4 765.6 L419.7 765.6 L420 765.7 L420.2 765.7 L420.5 765.7 L420.7 765.8 L421 765.8 L421.3 765.8 L421.6 765.8 L421.8 765.8 L422.1 765.8 L422.4 765.8 L422.7 765.8 L422.9 765.8 L423.2 765.8 L423.5 765.8 L423.7 765.8 L424 765.8 L424.2 765.7 L424.5 765.7 L424.7 765.7 L424.9 765.7 L425.2 765.7 L425.4 765.7 L425.6 765.7 L425.8 765.7 L426 765.7 L426.2 765.7 L426.4 765.8 L426.6 765.8 L426.8 765.8 L427 765.9 L427.1 765.9 L427.3 766 L427.4 766.1 L427.6 766.2 L427.7 766.3 L427.8 766.4 L428 766.5 L428.1 766.6 L428.2 766.8 L428.3 766.9 L428.4 767.1 L428.5 767.3 L428.6 767.5 L428.7 767.7 L428.7 767.9 L428.8 768.1 L428.9 768.3 L429 768.6 L429 768.8 L429.1 769.1 L429.2 769.3 L429.3 769.6 L429.3 769.9 L429.4 770.2 L429.5 770.5 L429.6 770.8 L429.7 771.1 L429.7 771.4 L429.8 771.7 L429.9 772 L430 772.3 L430.1 772.6 L430.2 772.9 L430.4 773.2 L430.5 773.4 L430.6 773.7 L430.7 774 L430.9 774.3 L431 774.5 L431.2 774.7 L431.3 775 L431.5 775.2 L431.7 775.4 L431.9 775.6 L432.1 775.7 L432.3 775.9 L432.5 776 L432.7 776.2 L432.9 776.3 L433.2 776.3 L433.4 776.4 L433.6 776.4 L433.9 776.5 L434.1 776.5 L434.4 776.5 L434.7 776.4 L434.9 776.4 L435.2 776.3 L435.5 776.2 L435.8 776.1 L436 776 L436.3 775.9 L436.6 775.7 L436.9 775.5 L437.2 775.4 L437.5 775.2 L437.8 775 L438 774.8 L438.3 774.6 L438.6 774.4 L438.9 774.1 L439.2 773.9 L439.5 773.7 L439.7 773.5 L440 773.3 L440.3 773.1 L440.6 772.9 L440.8 772.7 L441.1 772.5 L441.3 772.3 L441.6 772.1 L441.9 772 L442.1 771.9 L442.4 771.8 L442.6 771.7 L442.8 771.6 L443.1 771.5 L443.3 771.5 L443.5 771.5 L443.8 771.5 L444 771.5 L444.2 771.6 L444.5 771.7 L444.7 771.8 L444.9 771.9 L445.1 772 L445.5 772.3 L446 772.7 L446.5 773.2 L447 773.7 L447.5 774.2 L448 774.7 L448.5 775.3 L449 775.8 L449.5 776.4 L450 776.9 L450.5 777.3 L451 777.7 L451.5 778 L452 778.2 L452.5 778.3 L453 778.4 L453.5 778.3 L454 778.2 L454.5 777.9 L455 777.6 L455.5 777.2 L456 776.8 L456.5 776.3 L457 775.7 L457.5 775.2 L458 774.6 L458.5 774.1 L459 773.5 L459.5 773 L460 772.6 L460.5 772.2 L461 771.9 L461.5 771.7 L462 771.5 L462.5 771.5 L463 771.6 L463.5 771.7 L464 771.9 L464.5 772.2 L465 772.6 L465.5 773.1 L466 773.6 L466.5 774.1 L467 774.6 L467.5 775.2 L468 775.7 L468.5 776.3 L469 776.8 L469.5 777.2 L470 777.6 L470.5 777.9 L471 778.1 L471.5 778.2 L472 778.2 L472.5 778.2 L473 778 L473.5 777.8 L474 777.5 L474.5 777.1 L475 776.7 L475.5 776.2 L476 775.6 L476.5 775.1 L477 774.5 L477.5 773.9 L478 773.4 L478.5 772.9 L479 772.5 L479.5 772.1 L480 771.8 L480.5 771.6 L481 771.4 L481.5 771.4 L482 771.4 L482.5 771.6 L483 771.8 L483.5 772.1 L484 772.5 L484.5 773 L485 773.4 L485.5 774 L486 774.5 L486.5 775.1 L487 775.6 L487.5 776.2 L488 776.6 L488.5 777.1 L489 777.5 L489.5 777.8 L490 778 L490.5 778.1 L491 778.1 L491.5 778.1 L492 777.9 L492.5 777.7 L493 777.4 L493.5 777 L494 776.5 L494.5 776 L495 775.5 L495.5 775 L496 774.4 L496.5 773.8 L497 773.3 L497.5 772.8 L498 772.4 L498.5 772 L499 771.7 L499.5 771.5 L500 771.3 L500.5 771.3 L501 771.3 L501.5 771.5 L502 771.7 L502.5 772 L503 772.4 L503.5 772.8 L504 773.3 L504.5 773.9 L505 774.4 L505.5 775 L506 775.5 L506.5 776.1 L507 776.5 L507.5 777 L508 777.4 L508.5 777.7 L509 777.9 L509.5 778 L510 778 L510.5 778 L511 777.8 L511.5 777.6 L512 777.3 L512.5 776.9 L513 776.4 L513.5 775.9 L514 775.4 L514.5 774.8 L515 774.3 L515.5 773.7 L516 773.2 L516.5 772.7 L517 772.3 L517.5 771.9 L518 771.6 L518.5 771.4 L519 771.2 L519.5 771.2 L520 771.2 L520.5 771.4 L521 771.6 L521.5 771.9 L522 772.3 L522.5 772.7 L523 773.2 L523.5 773.8 L524 774.3 L524.5 774.9 L525 775.4 L525.5 775.9 L526 776.4 L526.5 776.9 L527 777.2 L527.5 777.5 L528 777.8 L528.5 777.9 L529 777.9 L529.5 777.9 L530 777.7 L530.5 777.5 L531 777.2 L531.5 776.8 L532 776.3 L532.5 775.8 L533 775.3 L533.5 774.7 L534 774.2 L534.5 773.6 L535 773.1 L535.5 772.6 L536 772.2 L536.5 771.8 L537 771.5 L537.5 771.2 L538 771.1 L538.5 771.1 L539 771.1 L539.5 771.3 L540 771.5 L540.5 771.8 L541 772.2 L541.5 772.6 L542 773.1 L542.5 773.7 L543 774.2 L543.5 774.8 L544 775.3 L544.5 775.8 L545 776.3 L545.5 776.8 L546 777.1 L546.5 777.4 L547 777.7 L547.5 777.8 L548 777.8 L548.5 777.8 L549 777.6 L549.5 777.4 L550 777.1 L550.5 776.7 L551 776.2 L551.5 775.7 L552 775.2 L552.5 774.6 L553 774.1 L553.5 773.5 L554 773 L554.5 772.5 L555 772 L555.5 771.7 L556 771.4 L556.5 771.1 L557 771 L557.5 771 L558 771 L558.5 771.2 L559 771.4 L559.5 771.7 L560 772.1 L560.5 772.5 L561 773 L561.5 773.5 L562 774.1 L562.5 774.7 L563 775.2 L563.5 775.7 L564 776.2 L564.5 776.7 L565 777 L565.5 777.3 L566 777.5 L566.5 777.7 L567 777.7 L567.5 777.7 L568 777.5 L568.5 777.3 L569 777 L569.5 776.6 L570 776.1 L570.5 775.6 L571 775.1 L571.5 774.5 L572 774 L572.5 773.4 L573 772.9 L573.5 772.4 L574 771.9 L574.5 771.6 L575 771.3 L575.5 771 L576 770.9 L576.5 770.9 L577 770.9 L577.5 771 L578 771.3 L578.5 771.6 L579 772 L579.5 772.4 L580 772.9 L580.5 773.4 L581 774 L581.5 774.6 L582 775.1 L582.5 775.6 L583 776.1 L583.5 776.6 L584 776.9 L584.5 777.2 L585 777.4 L585.5 777.6 L586 777.6 L586.5 777.5 L587 777.4 L587.5 777.2 L588 776.8 L588.5 776.5 L589 776 L589.5 775.5 L590 775 L590.5 774.4 L591 773.9 L591.5 773.3 L592 772.8 L592.5 772.3 L593 771.8 L593.5 771.5 L594 771.1 L594.5 770.9 L595 770.8 L595.5 770.8 L596 770.8 L596.5 770.9 L597 771.2 L597.5 771.5 L598 771.9 L598.5 772.3 L599 772.8 L599.5 773.3 L600 773.9 L600.5 774.4 L601 775 L601.5 775.5 L602 776 L602.5 776.4 L603 776.8 L603.5 777.1 L604 777.3 L604.5 777.5 L605 777.5 L605.5 777.4 L606 777.3 L606.5 777.1 L607 776.7 L607.5 776.4 L608 775.9 L608.5 775.4 L609 774.9 L609.5 774.3 L610 773.7 L610.5 773.2 L611 772.7 L611.5 772.2 L612 771.7 L612.5 771.3 L613 771 L613.5 770.8 L614 770.7 L614.5 770.6 L615 770.7 L615.5 770.8 L616 771.1 L616.5 771.4 L617 771.8 L617.5 772.2 L618 772.7 L618.5 773.2 L619 773.8 L619.5 774.3 L620 774.9 L620.5 775.4 L621 775.9 L621.5 776.3 L622 776.7" fill="none" stroke="#b83434" stroke-width="1.7" stroke-linejoin="round" stroke-linecap="round" />
<path d="M315 775.5 L315.5 774.9 L316 774.4 L316.4 773.8 L316.9 773.3 L317.4 772.9 L317.9 772.5 L318.4 772.2 L318.9 772 L319.4 771.9 L319.9 771.9 L320.4 772 L320.9 772.1 L321.4 772.4 L321.9 772.7 L322.4 773.1 L322.9 773.5 L323.5 774 L324 774.6 L324.5 775.1 L325 775.6 L325.5 776.2 L326.1 776.6 L326.6 777.1 L327.1 777.5 L327.6 777.8 L328.1 778 L328.6 778.2 L329.1 778.3 L329.6 778.2 L330.1 778.1 L330.6 777.9 L331.1 777.6 L331.6 777.3 L332.1 776.8 L332.6 776.3 L333 775.8 L333.5 775.2 L334 774.6 L334.5 774.1 L335 773.5 L335.4 773 L335.9 772.5 L336.4 772 L336.9 771.7 L337.4 771.4 L337.9 771.2 L338.4 771.1 L338.9 771.1 L339.4 771.1 L339.9 771.3 L340.4 771.6 L340.9 771.9 L341.4 772.3 L341.9 772.7 L342.5 773.2 L343 773.7 L343.5 774.3 L344 774.8 L344.5 775.3 L345.1 775.8 L345.6 776.3 L346.1 776.7 L346.6 777 L347.1 777.2 L347.6 777.4 L348.1 777.4 L348.6 777.4 L349.1 777.3 L349.6 777.1 L350.1 776.8 L350.6 776.4 L351.1 776 L351.6 775.5 L352 774.9 L352.5 774.4 L353 773.8 L353.5 773.2 L353.9 772.6 L354.4 772.1 L354.9 771.6 L355.4 771.2 L355.9 770.8 L356.4 770.6 L356.9 770.4 L357.4 770.2 L357.9 770.2 L358.4 770.3 L358.9 770.5 L359.4 770.7 L359.9 771.1 L360.4 771.5 L360.9 771.9 L361.5 772.4 L362 772.9 L362.5 773.5 L363 774 L363.6 774.5 L364.1 775 L364.6 775.5 L365.1 775.8 L365.6 776.2 L366.1 776.4 L366.6 776.5 L367.1 776.6 L367.6 776.6 L368.1 776.5 L368.6 776.2 L369.1 775.9 L369.6 775.6 L370.1 775.1 L370.6 774.6 L371 774.1 L371.5 773.5 L372 772.9 L372.1 772.7 L372.3 772.4 L372.5 772.2 L372.6 772 L372.7 771.7 L372.9 771.5 L373 771.2 L373.1 771 L373.3 770.8 L373.4 770.6 L373.5 770.4 L373.7 770.2 L373.8 770 L373.9 769.8 L374 769.7 L374.1 769.5 L374.3 769.4 L374.4 769.2 L374.5 769.1 L374.6 769 L374.8 768.9 L374.9 768.8 L375 768.7 L375.2 768.7 L375.3 768.6 L375.5 768.6 L375.6 768.5 L375.8 768.5 L376 768.5 L376.1 768.5 L376.3 768.5 L376.5 768.5 L376.6 768.5 L376.8 768.5 L377 768.6 L377.2 768.6 L377.4 768.6 L377.6 768.7 L377.9 768.7 L378.1 768.8 L378.3 768.9 L378.5 768.9 L378.8 769 L379 769.1 L379.3 769.2 L379.5 769.2 L379.8 769.3 L380 769.4 L380.3 769.4 L380.5 769.5 L380.8 769.6 L381.1 769.6 L381.3 769.7 L381.6 769.7 L381.9 769.8 L382.1 769.8 L382.4 769.9 L382.7 769.9 L382.9 769.9 L383.2 769.9 L383.5 769.9 L383.7 769.9 L384 769.9 L384.2 769.9 L384.4 769.9 L384.7 769.8 L384.9 769.8 L385.1 769.7 L385.4 769.6 L385.6 769.6 L385.8 769.5 L386 769.4 L386.1 769.3 L386.3 769.2 L386.5 769 L386.6 768.9 L386.8 768.7 L386.9 768.6 L387 768.4 L387.2 768.2 L387.3 768.1 L387.4 767.9 L387.4 767.7 L387.5 767.5 L387.6 767.2 L387.6 767 L387.7 766.8 L387.7 766.6 L387.7 766.3 L387.7 766.1 L387.7 765.8 L387.7 765.6 L387.7 765.3 L387.7 765.1 L387.6 764.8 L387.6 764.5 L387.6 764.3 L387.5 764 L387.4 763.7 L387.4 763.5 L387.3 763.2 L387.2 762.9 L387.2 762.7 L387.1 762.4 L387 762.1 L386.9 761.9 L386.8 761.6 L386.8 761.3 L386.7 761.1 L386.6 760.8 L386.5 760.6 L386.4 760.4 L386.4 760.1 L386.3 759.9 L386.3 759.7 L386.2 759.4 L386.1 759.2 L386.1 759 L386.1 758.8 L386 758.6 L386 758.4 L386 758.2 L386 758 L386 757.9 L386.1 757.7 L386.1 757.5 L386.1 757.4 L386.2 757.2 L386.3 757 L386.3 756.9 L386.4 756.7 L386.5 756.6 L386.6 756.5 L386.8 756.3 L386.9 756.2 L387 756.1 L387.2 755.9 L387.4 755.8 L387.5 755.7 L387.7 755.6 L387.9 755.5 L388.1 755.3 L388.4 755.2 L388.6 755.1 L388.8 755 L389 754.9 L389.3 754.8 L389.5 754.6 L389.8 754.5 L390 754.4 L390.3 754.3 L390.5 754.1 L390.8 754 L391 753.9 L391.3 753.7 L391.6 753.6 L391.8 753.5 L392.1 753.3 L392.3 753.2 L392.5 753 L392.8 752.9 L393 752.7 L393.2 752.5 L393.4 752.4 L393.6 752.2 L393.8 752 L394 751.8 L394.2 751.7 L394.3 751.5 L394.5 751.3 L394.6 751.1 L394.7 750.9 L394.8 750.7 L394.9 750.5 L395 750.3 L395 750.1 L395.1 749.9 L395.1 749.7 L395.1 749.5 L395.1 749.3 L395.1 749 L395.1 748.8 L395.1 748.6 L395 748.4 L394.9 748.2 L394.8 747.9 L394.7 747.7 L394.6 747.5 L394.5 747.3 L394.4 747.1 L394.2 746.9 L394.1 746.6 L393.9 746.4 L393.7 746.2 L393.5 746 L393.3 745.8 L393.1 745.6 L392.9 745.4 L392.7 745.2 L392.5 745 L392.2 744.7 L391.9 744.5 L391.6 744.3 L391.3 744 L391.1 743.8 L390.8 743.6 L390.5 743.4 L390.2 743.2 L390 743 L389.8 742.8 L389.5 742.6 L389.3 742.4 L389.1 742.2 L388.9 742.1 L388.7 741.9 L388.6 741.7 L388.5 741.5 L388.3 741.4 L388.2 741.2 L388.2 741 L388.1 740.8 L388 740.7 L388 740.5 L388 740.3 L388 740.1 L388 739.9 L388 739.7 L388.1 739.4 L388.1 739.2 L388.2 739 L388.3 738.7 L388.4 738.5 L388.5 738.2 L388.6 738 L388.7 737.7 L388.8 737.4 L388.9 737.1 L389 736.9 L389.2 736.6 L389.3 736.3 L389.4 735.9 L389.5 735.6 L389.7 735.3 L389.8 735 L389.9 734.7 L390 734.4 L390.1 734 L390.1 733.7 L390.2 733.4 L390.3 733.1 L390.3 732.8 L390.4 732.4 L390.4 732.1 L390.4 731.8 L390.4 731.5 L390.4 731.3 L390.3 731 L390.3 730.7 L390.2 730.4 L390.1 730.2 L390 730 L389.9 729.7 L389.8 729.5 L389.6 729.3 L389.4 729.1 L389.2 729 L389 728.8 L388.8 728.7 L388.6 728.5 L388.4 728.4 L388.1 728.3 L387.8 728.2 L387.5 728.1 L387.2 728.1 L386.9 728 L386.6 728 L386.3 728 L386 727.9 L385.6 727.9 L385.3 727.9 L385 727.9 L384.6 727.9 L384.3 727.9 L383.9 728 L383.5 728 L383.2 728 L382.9 728 L382.5 728 L382.2 728.1 L381.8 728.1 L381.5 728.1 L381.2 728.1 L380.9 728.1 L380.6 728.1 L380.3 728 L380 728 L379.7 728 L379.4 727.9 L379.2 727.8 L379 727.7 L378.7 727.6 L378.5 727.5 L378.3 727.4 L378.1 727.3 L378 727.1 L377.8 726.9 L377.7 726.7 L377.5 726.5 L377.4 726.3 L377.3 726.1 L377.2 725.8 L377.1 725.5 L377.1 725.2 L377 725 L377 724.6 L376.9 724.3 L376.9 724 L376.9 723.7 L376.8 723.3 L376.8 723 L376.8 722.6 L376.8 722.2 L376.8 721.9 L376.8 721.5 L376.8 721.2 L376.8 720.8 L376.8 720.4 L376.8 720.1 L376.8 719.7 L376.8 719.4 L376.7 719.1 L376.7 718.7 L376.7 718.4 L376.6 718.1 L376.6 717.8 L376.5 717.5 L376.4 717.3 L376.3 717 L376.2 716.8 L376.1 716.6 L376 716.3 L375.9 716.2 L375.7 716 L375.5 715.8 L375.4 715.7 L375.2 715.5 L375 715.4 L374.7 715.3 L374.5 715.2 L374.2 715.2 L374 715.1 L373.7 715.1 L373.4 715 L373.1 715 L372.8 715 L372.5 715 L372.2 715 L371.8 715 L371.5 715 L371.2 715 L370.8 715 L370.4 715 L370.1 715 L369.7 715 L369.4 715 L369 715 L368.7 715 L368.3 715 L368 714.9 L367.6 714.9 L367.3 714.9 L367 714.8 L366.7 714.7 L366.4 714.7 L366.1 714.6 L365.8 714.5 L365.5 714.4 L365.3 714.2 L365 714.1 L364.8 713.9 L364.6 713.7 L364.4 713.6 L364.3 713.4 L364.1 713.1 L364 712.9 L363.9 712.7 L363.8 712.4 L363.7 712.2 L363.6 711.9 L363.6 711.6 L363.6 711.3 L363.6 711 L363.6 710.7 L363.6 710.4 L363.7 710.1 L363.7 709.8 L363.8 709.4 L363.9 709.1 L364 708.8 L364.1 708.4 L364.3 708 L364.4 707.6 L364.6 707.2 L364.8 706.8 L365 706.4 L365.3 706 L365.5 705.6 L365.7 705.2 L365.8 704.9 L366 704.5 L366.2 704.1 L366.3 703.8 L366.4 703.5 L366.5 703.2 L366.6 702.8 L366.6 702.5 L366.6 702.2 L366.6 702 L366.5 701.7 L366.4 701.4 L366.2 701.1 L366.1 700.9 L365.9 700.6 L365.6 700.3 L365.3 700.1 L365 699.8 L364.7 699.5 L364.3 699.2 L363.9 699 L363.5 698.7 L363.1 698.4 L362.7 698.1 L362.3 697.8 L361.9 697.5 L361.5 697.2 L361.1 696.8 L360.7 696.5 L360.4 696.1 L360 695.8 L359.8 695.4 L359.5 695.1 L359.3 694.7 L359.1 694.3 L359 693.9 L358.9 693.5 L358.9 693.2 L359 692.8 L359 692.4 L359.2 692 L359.3 691.6 L359.6 691.2 L359.8 690.9 L360.2 690.5 L360.5 690.2 L360.9 689.8 L361.3 689.5 L361.7 689.1 L362.2 688.8 L362.6 688.5 L363.1 688.2 L363.6 687.9 L364 687.6 L364.4 687.3 L364.8 687 L365.2 686.7 L365.6 686.4 L365.9 686.1 L366.2 685.8 L366.4 685.5 L366.6 685.1 L366.7 684.8 L366.8 684.5 L366.9 684.1 L366.9 683.7 L366.8 683.4 L366.7 683 L366.6 682.6 L366.4 682.1 L366.2 681.7 L366 681.2 L365.7 680.8 L365.4 680.3 L365.1 679.8 L364.8 679.3 L364.6 678.8 L364.3 678.3 L364 677.7 L363.8 677.2 L363.6 676.7 L363.5 676.2 L363.3 675.7 L363.3 675.2 L363.2 674.8 L363.3 674.3 L363.3 673.9 L363.5 673.5 L363.7 673.1 L363.9 672.8 L364.2 672.4 L364.6 672.1 L365 671.9 L365.4 671.6 L365.9 671.4 L366.4 671.2 L367 671.1 L367.5 670.9 L368.1 670.8 L368.7 670.7 L369.3 670.6 L369.9 670.5 L370.5 670.4 L371 670.3 L371.6 670.2 L372.1 670 L372.5 669.9 L372.9 669.7 L373.3 669.6 L373.7 669.4 L374 669.1 L374.2 668.8 L374.4 668.5 L374.6 668.2 L374.7 667.8 L374.8 667.4 L374.9 666.9 L374.9 666.4 L374.9 665.9 L374.8 665.3 L374.8 664.7 L374.8 664.1 L374.7 663.5 L374.7 662.9 L374.7 662.3 L374.6 661.7 L374.7 661 L374.7 660.5 L374.8 659.9 L374.9 659.3 L375.1 658.8 L375.3 658.4 L375.6 658 L375.9 657.6 L376.2 657.3 L376.6 657.1 L377 656.9 L377.5 656.7 L378 656.7 L378.6 656.6 L379.2 656.7 L379.8 656.7 L380.4 656.9 L381 657 L381.7 657.2 L382.3 657.4 L382.9 657.6 L383.5 657.8 L384.2 658 L384.7 658.1 L385.3 658.3 L385.8 658.4 L386.3 658.4 L386.8 658.4 L387.2 658.4 L387.6 658.3 L388 658.1 L388.4 657.8 L388.7 657.5 L389 657.1 L389.3 656.6 L389.6 656.1 L389.9 655.5 L390.1 654.9 L390.4 654.3 L390.7 653.6 L391 652.9 L391.3 652.3 L391.6 651.6 L392 651 L392.4 650.5 L392.8 650 L393.2 649.5 L393.7 649.2 L394.2 649 L394.7 648.8 L395.3 648.8 L395.8 648.8 L396.4 649 L397 649.2 L397.6 649.5 L398.3 649.9 L398.9 650.4 L399.5 650.9 L400.1 651.4 L400.7 652 L401.3 652.5 L401.9 653 L402.5 653.4 L403.1 653.8 L403.6 654.1 L404.1 654.3 L404.6 654.4 L405.1 654.4 L405.5 654.3 L406 654.1 L406.5 653.8 L406.9 653.5 L407.4 653.1 L407.9 652.7 L408.4 652.2 L408.9 651.7 L409.4 651.2 L409.9 650.7 L410.4 650.3 L411 649.8 L411.5 649.4 L412 649.1 L412.5 648.8 L413 648.6 L413.6 648.4 L414.1 648.3 L414.5 648.3 L415 648.4 L415.5 648.6 L415.9 648.8 L416.3 649.1 L416.7 649.5 L417.1 649.9 L417.5 650.3 L417.8 650.8 L418.1 651.4 L418.4 651.9 L418.7 652.5 L418.9 653.1 L419.2 653.6 L419.4 654.2 L419.6 654.7 L419.9 655.2 L420.1 655.7 L420.4 656.2 L420.6 656.5 L420.9 656.9 L421.1 657.2 L421.4 657.4 L421.7 657.6 L422.1 657.8 L422.4 657.8 L422.8 657.9 L423.2 657.9 L423.6 657.9 L424.1 657.8 L424.6 657.7 L425 657.6 L425.6 657.4 L426.1 657.3 L426.6 657.1 L427.2 656.9 L427.8 656.8 L428.3 656.7 L428.9 656.5 L429.4 656.5 L430 656.4 L430.5 656.4 L431 656.4 L431.5 656.4 L432 656.5 L432.4 656.6 L432.8 656.8 L433.2 657 L433.5 657.3 L433.8 657.6 L434 658 L434.2 658.4 L434.4 658.8 L434.5 659.3 L434.6 659.7 L434.6 660.3 L434.7 660.8 L434.7 661.3 L434.6 661.9 L434.6 662.5 L434.5 663 L434.4 663.6 L434.3 664.2 L434.2 664.7 L434.1 665.2 L434.1 665.7 L434 666.2 L434 666.7 L434 667.1 L434 667.6 L434 667.9 L434.1 668.3 L434.3 668.6 L434.4 668.9 L434.7 669.2 L434.9 669.5 L435.3 669.7 L435.6 669.9 L436 670.1 L436.4 670.3 L436.9 670.4 L437.4 670.6 L437.9 670.7 L438.5 670.9 L439 671 L439.6 671.2 L440.2 671.4 L440.7 671.6 L441.3 671.8 L441.8 672 L442.3 672.2 L442.8 672.5 L443.2 672.7 L443.6 673.1 L443.9 673.4 L444.2 673.7 L444.4 674.1 L444.6 674.5 L444.7 674.9 L444.7 675.4 L444.7 675.9 L444.6 676.3 L444.5 676.8 L444.3 677.3 L444.1 677.8 L443.8 678.4 L443.5 678.9 L443.2 679.4 L442.9 679.9 L442.5 680.4 L442.1 681 L441.8 681.5 L441.5 682 L441.2 682.4 L440.9 682.9 L440.7 683.4 L440.5 683.8 L440.4 684.3 L440.3 684.7 L440.3 685.1 L440.4 685.5 L440.5 685.9 L440.7 686.3 L440.9 686.6 L441.2 687 L441.6 687.4 L442 687.8 L442.5 688.1 L443 688.5 L443.5 688.9 L444 689.3 L444.6 689.7 L445.1 690.1 L445.6 690.5 L446.1 690.9 L446.5 691.4 L446.9 691.8 L447.3 692.2 L447.5 692.7 L447.7 693.2 L447.9 693.6 L447.9 694.1 L447.9 694.6 L447.8 695 L447.6 695.5 L447.4 696 L447.1 696.5 L446.7 696.9 L446.3 697.4 L445.8 697.9 L445.3 698.3 L444.7 698.8 L444.2 699.2 L443.7 699.6 L443.2 700.1 L442.7 700.5 L442.2 700.9 L441.8 701.4 L441.5 701.8 L441.2 702.2 L441 702.7 L440.8 703.1 L440.8 703.6 L440.8 704 L440.9 704.5 L441.1 705 L441.4 705.5 L441.7 706 L442 706.5 L442.4 707 L442.9 707.6 L443.4 708.1 L443.8 708.7 L444.3 709.2 L444.7 709.8 L445.1 710.4 L445.5 710.9 L445.7 711.5 L446 712 L446.1 712.6 L446.1 713.1 L446.1 713.4 L446.1 713.8 L446 714.2 L445.8 714.5 L445.6 714.8 L445.4 715.2 L445.2 715.5 L444.9 715.7 L444.5 716 L444.2 716.3 L443.8 716.5 L443.4 716.7 L443 717 L442.5 717.2 L442.1 717.4 L441.6 717.6 L441.2 717.7 L440.8 717.9 L440.3 718.1 L439.9 718.3 L439.5 718.4 L439.1 718.6 L438.7 718.8 L438.4 718.9 L438.1 719.1 L437.8 719.3 L437.5 719.5 L437.2 719.7 L437 719.9 L436.8 720.1 L436.7 720.3 L436.5 720.6 L436.4 720.8 L436.3 721.1 L436.3 721.3 L436.3 721.6 L436.3 721.9 L436.3 722.3 L436.3 722.6 L436.4 722.9 L436.5 723.3 L436.5 723.6 L436.6 724 L436.7 724.4 L436.9 724.7 L437 725.1 L437.1 725.5 L437.2 725.9 L437.3 726.3 L437.5 726.7 L437.6 727.1 L437.7 727.5 L437.7 727.9 L437.8 728.3 L437.9 728.7 L437.9 729 L438 729.4 L438 729.7 L438 730.1 L438 730.4 L437.9 730.7 L437.9 731 L437.8 731.3 L437.7 731.6 L437.5 731.8 L437.4 732.1 L437.2 732.3 L437 732.5 L436.8 732.7 L436.6 732.8 L436.4 733 L436.1 733.1 L435.8 733.2 L435.5 733.3 L435.2 733.4 L434.9 733.5 L434.6 733.6 L434.3 733.6 L433.9 733.7 L433.6 733.7 L433.2 733.7 L432.8 733.7 L432.5 733.8 L432.1 733.8 L431.7 733.8 L431.4 733.8 L431 733.8 L430.6 733.8 L430.3 733.8 L429.9 733.8 L429.6 733.8 L429.3 733.8 L428.9 733.8 L428.6 733.8 L428.3 733.8 L428 733.9 L427.7 733.9 L427.5 734 L427.2 734.1 L427 734.2 L426.8 734.2 L426.5 734.4 L426.3 734.5 L426.1 734.6 L426 734.8 L425.8 734.9 L425.7 735.1 L425.5 735.3 L425.4 735.5 L425.3 735.7 L425.2 735.9 L425.2 736.1 L425.1 736.4 L425 736.6 L425 736.9 L424.9 737.2 L424.9 737.5 L424.9 737.8 L424.9 738.1 L424.9 738.4 L424.9 738.7 L424.9 739 L424.9 739.3 L424.9 739.6 L425 739.9 L425 740.2 L425 740.6 L425 740.9 L425.1 741.2 L425.1 741.5 L425.1 741.8 L425.1 742.1 L425.1 742.4 L425.2 742.7 L425.2 743 L425.2 743.3 L425.2 743.5 L425.2 743.8 L425.2 744.1 L425.2 744.3 L425.1 744.5 L425.1 744.8 L425.1 745 L425 745.2 L425 745.4 L424.9 745.6 L424.8 745.7 L424.8 745.9 L424.7 746.1 L424.6 746.2 L424.5 746.3 L424.3 746.5 L424.2 746.6 L424.1 746.7 L423.9 746.8 L423.8 746.9 L423.6 747 L423.5 747.1 L423.3 747.1 L423.1 747.2 L422.9 747.3 L422.7 747.3 L422.5 747.4 L422.3 747.5 L422.1 747.5 L421.8 747.6 L421.6 747.6 L421.4 747.7 L421.1 747.7 L420.9 747.8 L420.6 747.8 L420.4 747.9 L420.1 747.9 L419.8 748 L419.6 748.1 L419.3 748.1 L419.1 748.2 L418.8 748.3 L418.6 748.4 L418.3 748.4 L418 748.5 L417.8 748.6 L417.5 748.8 L417.3 748.9 L417.1 749 L416.8 749.1 L416.6 749.3 L416.4 749.4 L416.2 749.6 L416 749.7 L415.8 749.9 L415.6 750.1 L415.5 750.2 L415.3 750.4 L415.2 750.6 L415 750.8 L414.9 751 L414.8 751.2 L414.7 751.5 L414.6 751.7 L414.6 751.9 L414.5 752.2 L414.5 752.4 L414.5 752.6 L414.5 752.9 L414.5 753.1 L414.6 753.3 L414.6 753.5 L414.7 753.8 L414.8 754 L414.9 754.2 L415 754.4 L415.1 754.7 L415.2 754.9 L415.4 755.1 L415.5 755.3 L415.7 755.5 L415.9 755.7 L416.1 755.9 L416.3 756.1 L416.4 756.3 L416.7 756.4 L416.9 756.6 L417.1 756.8 L417.3 756.9 L417.5 757.1 L417.7 757.2 L418 757.4 L418.2 757.5 L418.4 757.7 L418.6 757.8 L418.9 757.9 L419.1 758.1 L419.3 758.2 L419.5 758.3 L419.7 758.4 L420 758.5 L420.2 758.6 L420.4 758.7 L420.5 758.8 L420.7 758.9 L420.9 759 L421.1 759.1 L421.2 759.2 L421.4 759.3 L421.5 759.4 L421.7 759.5 L421.8 759.6 L421.9 759.7 L422 759.8 L422.1 759.9 L422.2 760 L422.3 760.2 L422.4 760.3 L422.5 760.4 L422.5 760.5 L422.6 760.6 L422.6 760.8 L422.6 760.9 L422.7 761.1 L422.7 761.2 L422.7 761.4 L422.7 761.5 L422.7 761.7 L422.7 761.9 L422.7 762.1 L422.7 762.3 L422.6 762.5 L422.6 762.7 L422.6 762.9 L422.5 763.1 L422.5 763.3 L422.5 763.6 L422.4 763.8 L422.4 764 L422.3 764.3 L422.3 764.5 L422.2 764.8 L422.2 765 L422.2 765.3 L422.1 765.6 L422.1 765.8 L422.1 766.1 L422 766.4 L422 766.7 L422 766.9 L422 767.2 L422 767.5 L422 767.8 L422 768 L422 768.3 L422.1 768.6 L422.1 768.8 L422.1 769.1 L422.2 769.3 L422.3 769.6 L422.3 769.8 L422.4 770 L422.5 770.3 L422.6 770.5 L422.7 770.7 L422.8 770.9 L423 771.1 L423.1 771.2 L423.3 771.4 L423.4 771.6 L423.6 771.7 L423.8 771.8 L424 771.9 L424.2 772 L424.4 772.1 L424.6 772.2 L424.8 772.3 L425.1 772.3 L425.3 772.3 L425.6 772.4 L425.8 772.4 L426.1 772.4 L426.3 772.3 L426.6 772.3 L426.9 772.3 L427.2 772.2 L427.4 772.2 L427.7 772.1 L428 772 L428.3 771.9 L428.6 771.8 L428.9 771.7 L429.2 771.6 L429.5 771.5 L429.8 771.4 L430 771.2 L430.3 771.1 L430.6 771 L430.9 770.9 L431.2 770.7 L431.4 770.6 L431.7 770.5 L432 770.4 L432.2 770.3 L432.5 770.2 L432.8 770.1 L433 770 L433.2 769.9 L433.5 769.9 L433.7 769.8 L433.9 769.8 L434.2 769.7 L434.4 769.7 L434.6 769.7 L434.8 769.8 L435 769.8 L435.2 769.8 L435.4 769.9 L435.6 770 L435.8 770.1 L435.9 770.2 L436.1 770.4 L436.3 770.5 L436.5 770.7 L436.6 770.9 L436.8 771.1 L437 771.3 L437.1 771.5 L437.3 771.8 L437.5 772 L437.6 772.3 L437.8 772.6 L438 772.9 L438.1 773.2 L438.3 773.5 L438.5 773.8 L438.7 774.1 L438.9 774.4 L439 774.7 L439.2 775 L439.4 775.3 L439.6 775.6 L439.8 775.9 L440 776.2 L440.3 776.4 L440.5 776.7 L440.7 776.9 L440.9 777.1 L441.2 777.4 L441.4 777.5 L441.6 777.7 L441.9 777.9 L442.1 778 L442.4 778.1 L442.7 778.2 L442.9 778.2 L443.2 778.3 L443.5 778.3 L443.7 778.3 L444 778.2 L444.3 778.2 L444.5 778.1 L444.9 778 L445.5 777.7 L446 777.3 L446.5 776.8 L447 776.3 L447.5 775.8 L448 775.2 L448.5 774.7 L449 774.1 L449.5 773.6 L450 773.1 L450.5 772.6 L451 772.3 L451.5 772 L452 771.7 L452.5 771.6 L453 771.6 L453.5 771.6 L454 771.7 L454.5 772 L455 772.3 L455.5 772.7 L456 773.1 L456.5 773.6 L457 774.1 L457.5 774.7 L458 775.2 L458.5 775.8 L459 776.3 L459.5 776.8 L460 777.2 L460.5 777.6 L461 777.9 L461.5 778.1 L462 778.3 L462.5 778.3 L463 778.2 L463.5 778.1 L464 777.9 L464.5 777.5 L465 777.2 L465.5 776.7 L466 776.2 L466.5 775.7 L467 775.1 L467.5 774.6 L468 774 L468.5 773.5 L469 773 L469.5 772.5 L470 772.2 L470.5 771.8 L471 771.6 L471.5 771.5 L472 771.4 L472.5 771.5 L473 771.6 L473.5 771.9 L474 772.2 L474.5 772.6 L475 773 L475.5 773.5 L476 774 L476.5 774.6 L477 775.1 L477.5 775.7 L478 776.2 L478.5 776.7 L479 777.1 L479.5 777.5 L480 777.8 L480.5 778 L481 778.2 L481.5 778.2 L482 778.1 L482.5 778 L483 777.8 L483.5 777.4 L484 777.1 L484.5 776.6 L485 776.1 L485.5 775.6 L486 775 L486.5 774.4 L487 773.9 L487.5 773.4 L488 772.9 L488.5 772.4 L489 772 L489.5 771.7 L490 771.5 L490.5 771.4 L491 771.3 L491.5 771.4 L492 771.5 L492.5 771.8 L493 772.1 L493.5 772.5 L494 772.9 L494.5 773.4 L495 773.9 L495.5 774.5 L496 775 L496.5 775.6 L497 776.1 L497.5 776.6 L498 777 L498.5 777.4 L499 777.7 L499.5 777.9 L500 778 L500.5 778.1 L501 778 L501.5 777.9 L502 777.6 L502.5 777.3 L503 776.9 L503.5 776.5 L504 776 L504.5 775.5 L505 774.9 L505.5 774.3 L506 773.8 L506.5 773.3 L507 772.8 L507.5 772.3 L508 771.9 L508.5 771.6 L509 771.4 L509.5 771.3 L510 771.2 L510.5 771.3 L511 771.4 L511.5 771.7 L512 772 L512.5 772.3 L513 772.8 L513.5 773.3 L514 773.8 L514.5 774.4 L515 774.9 L515.5 775.5 L516 776 L516.5 776.5 L517 776.9 L517.5 777.3 L518 777.6 L518.5 777.8 L519 777.9 L519.5 778 L520 777.9 L520.5 777.8 L521 777.5 L521.5 777.2 L522 776.8 L522.5 776.4 L523 775.9 L523.5 775.4 L524 774.8 L524.5 774.2 L525 773.7 L525.5 773.1 L526 772.6 L526.5 772.2 L527 771.8 L527.5 771.5 L528 771.3 L528.5 771.2 L529 771.1 L529.5 771.2 L530 771.3 L530.5 771.5 L531 771.9 L531.5 772.2 L532 772.7 L532.5 773.2 L533 773.7 L533.5 774.3 L534 774.8 L534.5 775.4 L535 775.9 L535.5 776.4 L536 776.8 L536.5 777.2 L537 777.5 L537.5 777.7 L538 777.8 L538.5 777.9 L539 777.8 L539.5 777.7 L540 777.4 L540.5 777.1 L541 776.7 L541.5 776.3 L542 775.8 L542.5 775.2 L543 774.7 L543.5 774.1 L544 773.6 L544.5 773 L545 772.5 L545.5 772.1 L546 771.7 L546.5 771.4 L547 771.2 L547.5 771.1 L548 771 L548.5 771.1 L549 771.2 L549.5 771.4 L550 771.7 L550.5 772.1 L551 772.6 L551.5 773.1 L552 773.6 L552.5 774.2 L553 774.7 L553.5 775.3 L554 775.8 L554.5 776.3 L555 776.7 L555.5 777.1 L556 777.4 L556.5 777.6 L557 777.7 L557.5 777.8 L558 777.7 L558.5 777.6 L559 777.3 L559.5 777 L560 776.6 L560.5 776.2 L561 775.7 L561.5 775.1 L562 774.6 L562.5 774 L563 773.5 L563.5 772.9 L564 772.4 L564.5 772 L565 771.6 L565.5 771.3 L566 771.1 L566.5 771 L567 770.9 L567.5 771 L568 771.1 L568.5 771.3 L569 771.6 L569.5 772 L570 772.5 L570.5 773 L571 773.5 L571.5 774 L572 774.6 L572.5 775.2 L573 775.7 L573.5 776.2 L574 776.6 L574.5 777 L575 777.3 L575.5 777.5 L576 777.6 L576.5 777.7 L577 777.6 L577.5 777.5 L578 777.2 L578.5 776.9 L579 776.5 L579.5 776.1 L580 775.6 L580.5 775 L581 774.5 L581.5 773.9 L582 773.4 L582.5 772.8 L583 772.3 L583.5 771.9 L584 771.5 L584.5 771.2 L585 771 L585.5 770.8 L586 770.8 L586.5 770.9 L587 771 L587.5 771.2 L588 771.5 L588.5 771.9 L589 772.4 L589.5 772.9 L590 773.4 L590.5 773.9 L591 774.5 L591.5 775 L592 775.6 L592.5 776.1 L593 776.5 L593.5 776.9 L594 777.2 L594.5 777.4 L595 777.5 L595.5 777.5 L596 777.5 L596.5 777.3 L597 777.1 L597.5 776.8 L598 776.4 L598.5 776 L599 775.5 L599.5 774.9 L600 774.4 L600.5 773.8 L601 773.2 L601.5 772.7 L602 772.2 L602.5 771.8 L603 771.4 L603.5 771.1 L604 770.9 L604.5 770.7 L605 770.7 L605.5 770.7 L606 770.9 L606.5 771.1 L607 771.4 L607.5 771.8 L608 772.3 L608.5 772.7 L609 773.3 L609.5 773.8 L610 774.4 L610.5 774.9 L611 775.5 L611.5 776 L612 776.4 L612.5 776.8 L613 777.1 L613.5 777.3 L614 777.4 L614.5 777.4 L615 777.4 L615.5 777.2 L616 777 L616.5 776.7 L617 776.3 L617.5 775.8 L618 775.4 L618.5 774.8 L619 774.3 L619.5 773.7 L620 773.1 L620.5 772.6 L621 772.1 L621.5 771.7 L622 771.3" fill="none" stroke="#3464a8" stroke-width="1.7" stroke-linejoin="round" stroke-linecap="round" />
<text x="403.5" y="689.7" font-size="9.5" font-weight="bold" fill="#5a2a92" text-anchor="middle">EWSR1-</text>
<text x="403.5" y="699.6" font-size="9.5" font-weight="bold" fill="#5a2a92" text-anchor="middle">ETS fusion</text>
<path d="M365 712 C366.8 709.3 369.5 709 372 709 C374.5 709 377.7 710.8 380 712 C382.3 713.2 383.7 715.8 386 716 C388.3 716.2 391.7 713.2 394 713 C396.3 712.8 398.7 713.5 400 715 C401.3 716.5 402.3 719.7 402 722 C401.7 724.3 400 727.5 398 729 C396 730.5 392.5 730 390 731 C387.5 732 384.3 733 383 735 C381.7 737 381.2 740.5 382 743 C382.8 745.5 386.8 747.7 388 750 C389.2 752.3 389.8 755.3 389 757 C388.2 758.7 385.7 759.8 383 760 C380.3 760.2 375.8 759.7 373 758 C370.2 756.3 367.8 753.3 366 750 C364.2 746.7 362.8 742.2 362 738 C361.2 733.8 360.5 729.3 361 725 C361.5 720.7 363.2 714.7 365 712 Z" fill="#8a3230" stroke="#6e2222" stroke-width="1.2"/>
<path d="M395 727 C395 723.8 396.3 720.3 398 718 C399.7 715.7 402.7 713.7 405 713 C407.3 712.3 409.8 714.2 412 714 C414.2 713.8 415.7 712 418 712 C420.3 712 423.5 713 426 714 C428.5 715 431.2 716 433 718 C434.8 720 436.3 722.8 437 726 C437.7 729.2 437.7 733.8 437 737 C436.3 740.2 435 743.2 433 745 C431 746.8 427.2 748.5 425 748 C422.8 747.5 421.5 744.5 420 742 C418.5 739.5 417.2 734.7 416 733 C414.8 731.3 413.3 730.8 413 732 C412.7 733.2 413.5 737.3 414 740 C414.5 742.7 416.7 746.2 416 748 C415.3 749.8 412.3 751.2 410 751 C407.7 750.8 404 749.3 402 747 C400 744.7 399.2 740.3 398 737 C396.8 733.7 395 730.2 395 727 Z" fill="#2c3f6c" stroke="#1f2d55" stroke-width="1"/>
<path d="M444 772 C445 768.7 447.5 764.2 451 762 C454.5 759.8 459.8 759.5 465 759 C470.2 758.5 476.8 759.3 482 759 C487.2 758.7 492 756.7 496 757 C500 757.3 503.5 758.5 506 761 C508.5 763.5 510.7 768.2 511 772 C511.3 775.8 510.2 781.1 508 784 C505.8 786.9 501.7 788.8 498 789.5 C494.3 790.2 489.8 789.1 486 788 C482.2 786.9 478.8 783.2 475 783 C471.2 782.8 467 786.2 463 787 C459 787.8 454 788.8 451 788 C448 787.2 446.2 784.7 445 782 C443.8 779.3 443 775.3 444 772 Z" fill="#a6c2f0" stroke="#5a80c8" stroke-width="1" opacity="0.92"/>
<path d="M447 774 L447.5 774.6 L448 775.2 L448.5 775.7 L449 776.3 L449.5 776.7 L450 777.1 L450.5 777.5 L451 777.7 L451.5 777.9 L452 778 L452.5 778 L453 777.9 L453.5 777.7 L454 777.5 L454.5 777.1 L455 776.7 L455.5 776.3 L456 775.7 L456.5 775.2 L457 774.6 L457.5 774 L458 773.4 L458.5 772.8 L459 772.3 L459.5 771.7 L460 771.3 L460.5 770.9 L461 770.5 L461.5 770.3 L462 770.1 L462.5 770 L463 770 L463.5 770.1 L464 770.3 L464.5 770.5 L465 770.9 L465.5 771.3 L466 771.7 L466.5 772.3 L467 772.8 L467.5 773.4 L468 774 L468.5 774.6 L469 775.2 L469.5 775.7 L470 776.3 L470.5 776.7 L471 777.1 L471.5 777.5 L472 777.7 L472.5 777.9 L473 778 L473.5 778 L474 777.9 L474.5 777.7 L475 777.5 L475.5 777.1 L476 776.7 L476.5 776.3 L477 775.7 L477.5 775.2 L478 774.6 L478.5 774 L479 773.4 L479.5 772.8 L480 772.3 L480.5 771.7 L481 771.3 L481.5 770.9 L482 770.5 L482.5 770.3 L483 770.1 L483.5 770 L484 770 L484.5 770.1 L485 770.3 L485.5 770.5 L486 770.9 L486.5 771.3 L487 771.7 L487.5 772.3 L488 772.8 L488.5 773.4 L489 774 L489.5 774.6 L490 775.2 L490.5 775.7 L491 776.3 L491.5 776.7 L492 777.1 L492.5 777.5 L493 777.7 L493.5 777.9 L494 778 L494.5 778 L495 777.9 L495.5 777.7 L496 777.5 L496.5 777.1 L497 776.7 L497.5 776.3 L498 775.7 L498.5 775.2 L499 774.6 L499.5 774 L500 773.4 L500.5 772.8 L501 772.3 L501.5 771.7 L502 771.3 L502.5 770.9 L503 770.5 L503.5 770.3 L504 770.1 L504.5 770 L505 770 L505.5 770.1 L506 770.3 L506.5 770.5 L507 770.9 L507.5 771.3 L508 771.7 L508.5 772.3 L509 772.8" fill="none" stroke="#8aa0c8" stroke-width="1.3" stroke-linejoin="round" stroke-linecap="round" opacity="0.8"/>
<path d="M447 774 L447.5 773.4 L448 772.8 L448.5 772.3 L449 771.7 L449.5 771.3 L450 770.9 L450.5 770.5 L451 770.3 L451.5 770.1 L452 770 L452.5 770 L453 770.1 L453.5 770.3 L454 770.5 L454.5 770.9 L455 771.3 L455.5 771.7 L456 772.3 L456.5 772.8 L457 773.4 L457.5 774 L458 774.6 L458.5 775.2 L459 775.7 L459.5 776.3 L460 776.7 L460.5 777.1 L461 777.5 L461.5 777.7 L462 777.9 L462.5 778 L463 778 L463.5 777.9 L464 777.7 L464.5 777.5 L465 777.1 L465.5 776.7 L466 776.3 L466.5 775.7 L467 775.2 L467.5 774.6 L468 774 L468.5 773.4 L469 772.8 L469.5 772.3 L470 771.7 L470.5 771.3 L471 770.9 L471.5 770.5 L472 770.3 L472.5 770.1 L473 770 L473.5 770 L474 770.1 L474.5 770.3 L475 770.5 L475.5 770.9 L476 771.3 L476.5 771.7 L477 772.3 L477.5 772.8 L478 773.4 L478.5 774 L479 774.6 L479.5 775.2 L480 775.7 L480.5 776.3 L481 776.7 L481.5 777.1 L482 777.5 L482.5 777.7 L483 777.9 L483.5 778 L484 778 L484.5 777.9 L485 777.7 L485.5 777.5 L486 777.1 L486.5 776.7 L487 776.3 L487.5 775.7 L488 775.2 L488.5 774.6 L489 774 L489.5 773.4 L490 772.8 L490.5 772.3 L491 771.7 L491.5 771.3 L492 770.9 L492.5 770.5 L493 770.3 L493.5 770.1 L494 770 L494.5 770 L495 770.1 L495.5 770.3 L496 770.5 L496.5 770.9 L497 771.3 L497.5 771.7 L498 772.3 L498.5 772.8 L499 773.4 L499.5 774 L500 774.6 L500.5 775.2 L501 775.7 L501.5 776.3 L502 776.7 L502.5 777.1 L503 777.5 L503.5 777.7 L504 777.9 L504.5 778 L505 778 L505.5 777.9 L506 777.7 L506.5 777.5 L507 777.1 L507.5 776.7 L508 776.3 L508.5 775.7 L509 775.2" fill="none" stroke="#8aa0c8" stroke-width="1.3" stroke-linejoin="round" stroke-linecap="round" opacity="0.8"/>
<text x="473.7" y="748.7" font-size="9" font-weight="bold" fill="#3a5aa8" text-anchor="middle">RNA</text>
<text x="473.7" y="759.8" font-size="9" font-weight="bold" fill="#3a5aa8" text-anchor="middle">polymerase</text>
<path d="M455 795.8 H608 V790.7 L623.2 798.5 L608 806.1 V801.3 H455 Z" fill="url(#garr)"/>
<path d="M434.4 715.2 L455 650 C470 700 520 716 576 716.7 Z" fill="#c8a0cc" stroke="#7a4a9a" stroke-width="1.8" stroke-linejoin="round"/>
<ellipse cx="579.7" cy="657" rx="129.3" ry="60.5" fill="#fff" stroke="#7a4a9a" stroke-width="2"/>
<rect x="468.4" y="634.3" width="217.9" height="4.6" fill="#5e5e5e"/>
<rect x="468.4" y="678.8" width="217.9" height="5" fill="#5e5e5e"/>
<path d="M470.4 638.9 H484.6 V659 L477.5 653 L470.4 659 Z" fill="#5a2a8c"/>
<path d="M470.4 678.8 H484.6 V662 L477.5 656 L470.4 662 Z" fill="#a0303e"/>
<text x="477.5" y="651" font-size="10" fill="#fff" text-anchor="middle">G</text>
<text x="477.5" y="675" font-size="10" fill="#fff" text-anchor="middle">C</text>
<path d="M488.6 638.9 H502.7 V659 L495.6 653 L488.6 659 Z" fill="#5a2a8c"/>
<path d="M488.6 678.8 H502.7 V662 L495.6 656 L488.6 662 Z" fill="#a0303e"/>
<text x="495.6" y="651" font-size="10" fill="#fff" text-anchor="middle">G</text>
<text x="495.6" y="675" font-size="10" fill="#fff" text-anchor="middle">C</text>
<path d="M506.7 638.9 H520.9 V653 Q513.8 662 506.7 653 Z" fill="#4a7aa2"/>
<path d="M506.7 678.8 H520.9 V662 Q513.8 670 506.7 662 Z" fill="#4a7030"/>
<text x="513.8" y="651" font-size="10" fill="#fff" text-anchor="middle">A</text>
<text x="513.8" y="675" font-size="10" fill="#fff" text-anchor="middle">T</text>
<path d="M524.9 638.9 H539 V653 Q532 662 524.9 653 Z" fill="#4a7aa2"/>
<path d="M524.9 678.8 H539 V662 Q532 670 524.9 662 Z" fill="#4a7030"/>
<text x="532" y="651" font-size="10" fill="#fff" text-anchor="middle">A</text>
<text x="532" y="675" font-size="10" fill="#fff" text-anchor="middle">T</text>
<path d="M543 638.9 H557.2 V659 L550.1 653 L543 659 Z" fill="#5a2a8c"/>
<path d="M543 678.8 H557.2 V662 L550.1 656 L543 662 Z" fill="#a0303e"/>
<text x="550.1" y="651" font-size="10" fill="#fff" text-anchor="middle">G</text>
<text x="550.1" y="675" font-size="10" fill="#fff" text-anchor="middle">C</text>
<path d="M561.2 638.9 H575.3 V659 L568.3 653 L561.2 659 Z" fill="#5a2a8c"/>
<path d="M561.2 678.8 H575.3 V662 L568.3 656 L561.2 662 Z" fill="#a0303e"/>
<text x="568.3" y="651" font-size="10" fill="#fff" text-anchor="middle">G</text>
<text x="568.3" y="675" font-size="10" fill="#fff" text-anchor="middle">C</text>
<path d="M579.3 638.9 H593.5 V653 Q586.4 662 579.3 653 Z" fill="#4a7aa2"/>
<path d="M579.3 678.8 H593.5 V662 Q586.4 670 579.3 662 Z" fill="#4a7030"/>
<text x="586.4" y="651" font-size="10" fill="#fff" text-anchor="middle">A</text>
<text x="586.4" y="675" font-size="10" fill="#fff" text-anchor="middle">T</text>
<path d="M597.5 638.9 H611.7 V653 Q604.6 662 597.5 653 Z" fill="#4a7aa2"/>
<path d="M597.5 678.8 H611.7 V662 Q604.6 670 597.5 662 Z" fill="#4a7030"/>
<text x="604.6" y="651" font-size="10" fill="#fff" text-anchor="middle">A</text>
<text x="604.6" y="675" font-size="10" fill="#fff" text-anchor="middle">T</text>
<path d="M615.7 638.9 H629.8 V659 L622.7 653 L615.7 659 Z" fill="#5a2a8c"/>
<path d="M615.7 678.8 H629.8 V662 L622.7 656 L615.7 662 Z" fill="#a0303e"/>
<text x="622.7" y="651" font-size="10" fill="#fff" text-anchor="middle">G</text>
<text x="622.7" y="675" font-size="10" fill="#fff" text-anchor="middle">C</text>
<path d="M633.8 638.9 H648 V659 L640.9 653 L633.8 659 Z" fill="#5a2a8c"/>
<path d="M633.8 678.8 H648 V662 L640.9 656 L633.8 662 Z" fill="#a0303e"/>
<text x="640.9" y="651" font-size="10" fill="#fff" text-anchor="middle">G</text>
<text x="640.9" y="675" font-size="10" fill="#fff" text-anchor="middle">C</text>
<path d="M652 638.9 H666.1 V653 Q659.1 662 652 653 Z" fill="#4a7aa2"/>
<path d="M652 678.8 H666.1 V662 Q659.1 670 652 662 Z" fill="#4a7030"/>
<text x="659.1" y="651" font-size="10" fill="#fff" text-anchor="middle">A</text>
<text x="659.1" y="675" font-size="10" fill="#fff" text-anchor="middle">T</text>
<path d="M670.1 638.9 H684.3 V653 Q677.2 662 670.1 653 Z" fill="#4a7aa2"/>
<path d="M670.1 678.8 H684.3 V662 Q677.2 670 670.1 662 Z" fill="#4a7030"/>
<text x="677.2" y="651" font-size="10" fill="#fff" text-anchor="middle">A</text>
<text x="677.2" y="675" font-size="10" fill="#fff" text-anchor="middle">T</text>
<rect x="421.4" y="813.8" width="162.2" height="172" rx="8" fill="#4a72a8" stroke="#1e3050" stroke-width="4"/>
<rect x="431.5" y="821.5" width="130.5" height="51.5" rx="8" fill="#5a9040" stroke="#2e4a20" stroke-width="3.6"/>
<rect x="431.5" y="882.4" width="132.1" height="51.5" rx="8" fill="#4a60c0" stroke="#22306a" stroke-width="3.6"/>
<text x="497.5" y="858" font-size="33.5" fill="#fff" text-anchor="middle" textLength="99" lengthAdjust="spacingAndGlyphs">plastic</text>
<text x="498" y="918" font-size="33.5" fill="#fff" text-anchor="middle" textLength="116" lengthAdjust="spacingAndGlyphs">specific</text>
<text x="502.4" y="965.2" font-size="33.5" fill="#fff" text-anchor="middle" textLength="139" lengthAdjust="spacingAndGlyphs">signature</text>
<path d="M740 783 C720 815 660 838 580 844.8" fill="none" stroke="url(#gc1)" stroke-width="2.6"/>
<path d="M748 790 C720 825 690 850 645 880" fill="none" stroke="#cfcfcf" stroke-width="1.5"/>
<path d="M675 859 C660 872 650 880 625 880 C605 880 590 870 578 864" fill="none" stroke="url(#gc2)" stroke-width="2.6"/>
<path d="M715 910 C690 895 660 882 625 880 C605 880 590 892 578 903" fill="none" stroke="url(#gc3)" stroke-width="2.6"/>
<path d="M570.3 844.5 L582 838.5 L579.5 845 L582 851.5 Z" fill="#1a1a1a"/>
<path d="M570.3 862.5 L583 860.5 L578.5 866 L578.5 873 Z" fill="#1a1a1a"/>
<path d="M570.3 906.2 L577.5 896 L578.5 902.5 L583.5 906 Z" fill="#1a1a1a"/>
<text x="781" y="754.8" font-size="20" fill="#111" textLength="100.5" lengthAdjust="spacingAndGlyphs">variability</text>
<path d="M727 762.3 H934 V756 L950.7 764 L934 772.5 V765.8 H727 V772.5 L710.4 764 L727 756 Z" fill="#1a1a1a"/>
<path d="M743.9 768.6 H754.7 V785.4 L749.3 780.9 L743.9 785.4 Z" fill="#5a2a8c"/>
<text x="749.3" y="778.6" font-size="8" fill="#fff" text-anchor="middle">G</text>
<path d="M758.4 768.6 H769.2 V785.4 L763.8 780.9 L758.4 785.4 Z" fill="#5a2a8c"/>
<text x="763.8" y="778.6" font-size="8" fill="#fff" text-anchor="middle">G</text>
<path d="M772.9 768.6 H783.7 V780.4 Q783.7 785.4 778.3 785.4 Q772.9 785.4 772.9 780.4 Z" fill="#4a7aa0"/>
<text x="778.3" y="778.6" font-size="8" fill="#fff" text-anchor="middle">A</text>
<path d="M787.4 768.6 H798.2 V780.4 Q798.2 785.4 792.8 785.4 Q787.4 785.4 787.4 780.4 Z" fill="#4a7aa0"/>
<text x="792.8" y="778.6" font-size="8" fill="#fff" text-anchor="middle">A</text>
<path d="M801.9 768.6 H812.7 V785.4 L807.3 780.9 L801.9 785.4 Z" fill="#5a2a8c"/>
<text x="807.3" y="778.6" font-size="8" fill="#fff" text-anchor="middle">G</text>
<path d="M816.4 768.6 H827.2 V785.4 L821.8 780.9 L816.4 785.4 Z" fill="#5a2a8c"/>
<text x="821.8" y="778.6" font-size="8" fill="#fff" text-anchor="middle">G</text>
<path d="M830.9 768.6 H841.7 V780.4 Q841.7 785.4 836.3 785.4 Q830.9 785.4 830.9 780.4 Z" fill="#4a7aa0"/>
<text x="836.3" y="778.6" font-size="8" fill="#fff" text-anchor="middle">A</text>
<path d="M845.4 768.6 H856.2 V780.4 Q856.2 785.4 850.8 785.4 Q845.4 785.4 845.4 780.4 Z" fill="#4a7aa0"/>
<text x="850.8" y="778.6" font-size="8" fill="#fff" text-anchor="middle">A</text>
<path d="M859.9 768.6 H870.7 V785.4 L865.3 780.9 L859.9 785.4 Z" fill="#5a2a8c"/>
<text x="865.3" y="778.6" font-size="8" fill="#fff" text-anchor="middle">G</text>
<path d="M874.4 768.6 H885.2 V785.4 L879.8 780.9 L874.4 785.4 Z" fill="#5a2a8c"/>
<text x="879.8" y="778.6" font-size="8" fill="#fff" text-anchor="middle">G</text>
<path d="M888.9 768.6 H899.7 V780.4 Q899.7 785.4 894.3 785.4 Q888.9 785.4 888.9 780.4 Z" fill="#4a7aa0"/>
<text x="894.3" y="778.6" font-size="8" fill="#fff" text-anchor="middle">A</text>
<path d="M903.4 768.6 H914.2 V780.4 Q914.2 785.4 908.8 785.4 Q903.4 785.4 903.4 780.4 Z" fill="#4a7aa0"/>
<text x="908.8" y="778.6" font-size="8" fill="#fff" text-anchor="middle">A</text>
<text x="751" y="830.5" font-size="20" fill="#111" textLength="120" lengthAdjust="spacingAndGlyphs">enrichment</text>
<rect x="734.2" y="839.5" width="166.7" height="3" fill="#606060"/>
<path d="M736 842.3 H746 V857.8 L741 853.3 L736 857.8 Z" fill="#5a2a8c"/>
<path d="M749.8 842.3 H759.8 V857.8 L754.8 853.3 L749.8 857.8 Z" fill="#5a2a8c"/>
<path d="M763.6 842.3 H773.6 V852.8 Q773.6 857.8 768.6 857.8 Q763.6 857.8 763.6 852.8 Z" fill="#4a7aa0"/>
<path d="M777.4 842.3 H787.4 V852.8 Q787.4 857.8 782.4 857.8 Q777.4 857.8 777.4 852.8 Z" fill="#4a7aa0"/>
<path d="M791.2 842.3 H801.2 V857.8 L796.2 853.3 L791.2 857.8 Z" fill="#5a2a8c"/>
<path d="M805 842.3 H815 V857.8 L810 853.3 L805 857.8 Z" fill="#5a2a8c"/>
<path d="M818.8 842.3 H828.8 V852.8 Q828.8 857.8 823.8 857.8 Q818.8 857.8 818.8 852.8 Z" fill="#4a7aa0"/>
<path d="M832.6 842.3 H842.6 V852.8 Q842.6 857.8 837.6 857.8 Q832.6 857.8 832.6 852.8 Z" fill="#4a7aa0"/>
<path d="M846.4 842.3 H856.4 V857.8 L851.4 853.3 L846.4 857.8 Z" fill="#5a2a8c"/>
<path d="M860.2 842.3 H870.2 V857.8 L865.2 853.3 L860.2 857.8 Z" fill="#5a2a8c"/>
<path d="M874 842.3 H884 V852.8 Q884 857.8 879 857.8 Q874 857.8 874 852.8 Z" fill="#4a7aa0"/>
<path d="M887.8 842.3 H897.8 V852.8 Q897.8 857.8 892.8 857.8 Q887.8 857.8 887.8 852.8 Z" fill="#4a7aa0"/>
<rect x="685.4" y="846.3" width="168.1" height="3" fill="#606060"/>
<path d="M687.2 849.3 H697.2 V865.3 L692.2 860.8 L687.2 865.3 Z" fill="#5a2a8c"/>
<path d="M701 849.3 H711 V865.3 L706 860.8 L701 865.3 Z" fill="#5a2a8c"/>
<path d="M714.8 849.3 H724.8 V860.3 Q724.8 865.3 719.8 865.3 Q714.8 865.3 714.8 860.3 Z" fill="#4a7aa0"/>
<path d="M728.6 849.3 H738.6 V860.3 Q738.6 865.3 733.6 865.3 Q728.6 865.3 728.6 860.3 Z" fill="#4a7aa0"/>
<path d="M742.4 849.3 H752.4 V865.3 L747.4 860.8 L742.4 865.3 Z" fill="#5a2a8c"/>
<path d="M756.2 849.3 H766.2 V865.3 L761.2 860.8 L756.2 865.3 Z" fill="#5a2a8c"/>
<path d="M770 849.3 H780 V860.3 Q780 865.3 775 865.3 Q770 865.3 770 860.3 Z" fill="#4a7aa0"/>
<path d="M783.8 849.3 H793.8 V860.3 Q793.8 865.3 788.8 865.3 Q783.8 865.3 783.8 860.3 Z" fill="#4a7aa0"/>
<path d="M797.6 849.3 H807.6 V865.3 L802.6 860.8 L797.6 865.3 Z" fill="#5a2a8c"/>
<path d="M811.4 849.3 H821.4 V865.3 L816.4 860.8 L811.4 865.3 Z" fill="#5a2a8c"/>
<path d="M825.2 849.3 H835.2 V860.3 Q835.2 865.3 830.2 865.3 Q825.2 865.3 825.2 860.3 Z" fill="#4a7aa0"/>
<path d="M839 849.3 H849 V860.3 Q849 865.3 844 865.3 Q839 865.3 839 860.3 Z" fill="#4a7aa0"/>
<rect x="772.2" y="853.3" width="168" height="3" fill="#606060"/>
<path d="M775.3 856.3 H785.3 V872.8 L780.3 868.3 L775.3 872.8 Z" fill="#5a2a8c"/>
<path d="M789.1 856.3 H799.1 V872.8 L794.1 868.3 L789.1 872.8 Z" fill="#5a2a8c"/>
<path d="M802.9 856.3 H812.9 V867.8 Q812.9 872.8 807.9 872.8 Q802.9 872.8 802.9 867.8 Z" fill="#4a7aa0"/>
<path d="M816.7 856.3 H826.7 V867.8 Q826.7 872.8 821.7 872.8 Q816.7 872.8 816.7 867.8 Z" fill="#4a7aa0"/>
<path d="M830.5 856.3 H840.5 V872.8 L835.5 868.3 L830.5 872.8 Z" fill="#5a2a8c"/>
<path d="M844.3 856.3 H854.3 V872.8 L849.3 868.3 L844.3 872.8 Z" fill="#5a2a8c"/>
<path d="M858.1 856.3 H868.1 V867.8 Q868.1 872.8 863.1 872.8 Q858.1 872.8 858.1 867.8 Z" fill="#4a7aa0"/>
<path d="M871.9 856.3 H881.9 V867.8 Q881.9 872.8 876.9 872.8 Q871.9 872.8 871.9 867.8 Z" fill="#4a7aa0"/>
<path d="M885.7 856.3 H895.7 V872.8 L890.7 868.3 L885.7 872.8 Z" fill="#5a2a8c"/>
<path d="M899.5 856.3 H909.5 V872.8 L904.5 868.3 L899.5 872.8 Z" fill="#5a2a8c"/>
<path d="M913.3 856.3 H923.3 V867.8 Q923.3 872.8 918.3 872.8 Q913.3 872.8 913.3 867.8 Z" fill="#4a7aa0"/>
<path d="M927.1 856.3 H937.1 V867.8 Q937.1 872.8 932.1 872.8 Q927.1 872.8 927.1 867.8 Z" fill="#4a7aa0"/>
<text x="741" y="851.5" font-size="7.5" fill="#fff" text-anchor="middle">G</text>
<text x="754.8" y="851.5" font-size="7.5" fill="#fff" text-anchor="middle">G</text>
<text x="768.6" y="851.5" font-size="7.5" fill="#fff" text-anchor="middle">A</text>
<text x="782.4" y="851.5" font-size="7.5" fill="#fff" text-anchor="middle">A</text>
<text x="796.2" y="851.5" font-size="7.5" fill="#fff" text-anchor="middle">G</text>
<text x="810" y="851.5" font-size="7.5" fill="#fff" text-anchor="middle">G</text>
<text x="823.8" y="851.5" font-size="7.5" fill="#fff" text-anchor="middle">A</text>
<text x="837.6" y="851.5" font-size="7.5" fill="#fff" text-anchor="middle">A</text>
<text x="851.4" y="851.5" font-size="7.5" fill="#fff" text-anchor="middle">G</text>
<text x="865.2" y="851.5" font-size="7.5" fill="#fff" text-anchor="middle">G</text>
<text x="879" y="851.5" font-size="7.5" fill="#fff" text-anchor="middle">A</text>
<text x="892.8" y="851.5" font-size="7.5" fill="#fff" text-anchor="middle">A</text>
<text x="692.2" y="858.8" font-size="7.5" fill="#fff" text-anchor="middle">G</text>
<text x="706" y="858.8" font-size="7.5" fill="#fff" text-anchor="middle">G</text>
<text x="719.8" y="858.8" font-size="7.5" fill="#fff" text-anchor="middle">A</text>
<text x="733.6" y="858.8" font-size="7.5" fill="#fff" text-anchor="middle">A</text>
<text x="747.4" y="858.8" font-size="7.5" fill="#fff" text-anchor="middle">G</text>
<text x="761.2" y="858.8" font-size="7.5" fill="#fff" text-anchor="middle">G</text>
<text x="775" y="858.8" font-size="7.5" fill="#fff" text-anchor="middle">A</text>
<text x="788.8" y="858.8" font-size="7.5" fill="#fff" text-anchor="middle">A</text>
<text x="802.6" y="858.8" font-size="7.5" fill="#fff" text-anchor="middle">G</text>
<text x="816.4" y="858.8" font-size="7.5" fill="#fff" text-anchor="middle">G</text>
<text x="830.2" y="858.8" font-size="7.5" fill="#fff" text-anchor="middle">A</text>
<text x="844" y="858.8" font-size="7.5" fill="#fff" text-anchor="middle">A</text>
<text x="780.3" y="866.8" font-size="7.5" fill="#fff" text-anchor="middle">G</text>
<text x="794.1" y="866.8" font-size="7.5" fill="#fff" text-anchor="middle">G</text>
<text x="807.9" y="866.8" font-size="7.5" fill="#fff" text-anchor="middle">A</text>
<text x="821.7" y="866.8" font-size="7.5" fill="#fff" text-anchor="middle">A</text>
<text x="835.5" y="866.8" font-size="7.5" fill="#fff" text-anchor="middle">G</text>
<text x="849.3" y="866.8" font-size="7.5" fill="#fff" text-anchor="middle">G</text>
<text x="863.1" y="866.8" font-size="7.5" fill="#fff" text-anchor="middle">A</text>
<text x="876.9" y="866.8" font-size="7.5" fill="#fff" text-anchor="middle">A</text>
<text x="890.7" y="866.8" font-size="7.5" fill="#fff" text-anchor="middle">G</text>
<text x="904.5" y="866.8" font-size="7.5" fill="#fff" text-anchor="middle">G</text>
<text x="918.3" y="866.8" font-size="7.5" fill="#fff" text-anchor="middle">A</text>
<text x="932.1" y="866.8" font-size="7.5" fill="#fff" text-anchor="middle">A</text>
<rect x="789.8" y="894" width="128.5" height="52.8" rx="26.4" fill="#5a50c0" stroke="#2a2060" stroke-width="2"/>
<text x="855.4" y="916.5" font-size="19" fill="#fff" text-anchor="middle" textLength="85" lengthAdjust="spacingAndGlyphs">regulated</text>
<text x="856" y="940" font-size="19" fill="#fff" text-anchor="middle" textLength="32" lengthAdjust="spacingAndGlyphs">TFs</text>
<path d="M736.5 959.3 L736.8 959.8 L737.2 960.3 L737.5 960.7 L737.8 961.2 L738.2 961.7 L738.5 962.1 L738.9 962.5 L739.2 963 L739.6 963.3 L740 963.7 L740.3 964 L740.7 964.3 L741.1 964.6 L741.6 964.9 L742 965.1 L742.4 965.3 L742.9 965.4 L743.3 965.5 L743.8 965.6 L744.3 965.6 L744.8 965.6 L745.3 965.5 L745.8 965.5 L746.4 965.3 L746.9 965.2 L747.5 965 L748.1 964.8 L748.7 964.5 L749.3 964.2 L749.9 963.9 L750.5 963.6 L751.1 963.2 L751.8 962.8 L752.4 962.4 L753.1 961.9 L753.7 961.5 L754.4 961 L755.1 960.6 L755.7 960.1 L756.4 959.6 L757.1 959.1 L757.7 958.6 L758.4 958.1 L759.1 957.7 L759.7 957.2 L760.4 956.7 L761 956.3 L761.7 955.9 L762.3 955.5 L763 955.1 L763.6 954.8 L764.2 954.4 L764.8 954.1 L765.4 953.9 L766 953.6 L766.5 953.4 L767.1 953.3 L767.6 953.2 L768.2 953.1 L768.7 953 L769.2 953 L769.7 953 L770.2 953.1 L770.6 953.2 L771.1 953.3 L771.5 953.5 L772 953.7 L772.4 953.9 L772.8 954.2 L773.2 954.5 L773.6 954.8 L773.9 955.2 L774.3 955.6 L774.7 956 L775 956.4 L775.4 956.8 L775.7 957.3 L776 957.8 L776.4 958.2 L776.7 958.7 L777 959.2 L777.4 959.7 L777.7 960.2 L778 960.7 L778.4 961.1 L778.7 961.6 L779 962 L779.4 962.5 L779.7 962.9 L780.1 963.3 L780.5 963.6 L780.9 964 L781.3 964.3 L781.7 964.6 L782.1 964.8 L782.5 965 L782.9 965.2 L783.4 965.4 L783.8 965.5 L784.3 965.6 L784.8 965.6 L785.3 965.6 L785.8 965.6 L786.3 965.5 L786.9 965.4 L787.4 965.2 L788 965 L788.6 964.8 L789.2 964.6 L789.8 964.3 L790.4 964 L791 963.6 L791.6 963.3 L792.2 962.9 L792.9 962.5 L793.5 962 L794.2 961.6 L794.9 961.1 L795.5 960.7 L796.2 960.2 L796.9 959.7 L797.5 959.2 L798.2 958.7 L798.9 958.2 L799.5 957.8 L800.2 957.3 L800.9 956.8 L801.5 956.4 L802.2 956 L802.8 955.6 L803.4 955.2 L804.1 954.8 L804.7 954.5 L805.3 954.2 L805.9 953.9 L806.5 953.7 L807 953.5 L807.6 953.3 L808.1 953.2 L808.7 953.1 L809.2 953 L809.7 953 L810.2 953 L810.7 953.1 L811.1 953.2 L811.6 953.3 L812 953.4 L812.5 953.6 L812.9 953.9 L813.3 954.1 L813.7 954.4 L814.1 954.8 L814.5 955.1 L814.8 955.5 L815.2 955.9 L815.5 956.3 L815.9 956.7 L816.2 957.2 L816.6 957.7 L816.9 958.1 L817.2 958.6 L817.6 959.1 L817.9 959.6 L818.2 960.1 L818.6 960.6 L818.9 961 L819.2 961.5 L819.6 961.9 L819.9 962.4 L820.3 962.8 L820.6 963.2 L821 963.6 L821.4 963.9 L821.8 964.2 L822.2 964.5 L822.6 964.8 L823 965 L823.4 965.2 L823.9 965.3 L824.3 965.5 L824.8 965.5 L825.3 965.6 L825.8 965.6 L826.3 965.6 L826.8 965.5 L827.4 965.4 L827.9 965.3 L828.5 965.1 L829.1 964.9 L829.6 964.6 L830.2 964.3 L830.8 964 L831.5 963.7 L832.1 963.3 L832.7 963 L833.4 962.5 L834 962.1 L834.7 961.7 L835.3 961.2 L836 960.7 L836.7 960.3 L837.3 959.8 L838 959.3 L838.7 958.8 L839.3 958.3 L840 957.9 L840.7 957.4 L841.3 956.9 L842 956.5 L842.6 956.1 L843.3 955.6 L843.9 955.3 L844.5 954.9 L845.2 954.6 L845.8 954.3 L846.4 954 L846.9 953.7 L847.5 953.5 L848.1 953.3 L848.6 953.2 L849.2 953.1 L849.7 953 L850.2 953 L850.7 953 L851.2 953.1 L851.7 953.1 L852.1 953.3 L852.6 953.4 L853 953.6 L853.4 953.8 L853.8 954.1 L854.2 954.4 L854.6 954.7 L855 955 L855.4 955.4 L855.7 955.8 L856.1 956.2 L856.4 956.7 L856.8 957.1 L857.1 957.6 L857.4 958 L857.8 958.5 L858.1 959 L858.4 959.5 L858.8 960 L859.1 960.5 L859.4 960.9 L859.8 961.4 L860.1 961.9 L860.5 962.3 L860.8 962.7 L861.2 963.1 L861.5 963.5 L861.9 963.8 L862.3 964.2 L862.7 964.5 L863.1 964.7 L863.5 965 L864 965.2 L864.4 965.3 L864.9 965.4 L865.3 965.5 L865.8 965.6 L866.3 965.6 L866.8 965.6 L867.3 965.5 L867.9 965.4 L868.4 965.3 L869 965.1 L869.5 964.9 L870.1 964.7 L870.7 964.4 L871.3 964.1 L871.9 963.8 L872.6 963.4 L873.2 963 L873.8 962.6 L874.5 962.2 L875.1 961.8 L875.8 961.3 L876.5 960.8 L877.1 960.4 L877.8 959.9 L878.5 959.4 L879.1 958.9 L879.8 958.4 L880.5 957.9 L881.1 957.5 L881.8 957 L882.5 956.6 L883.1 956.1 L883.8 955.7 L884.4 955.3 L885 955 L885.6 954.6 L886.2 954.3 L886.8 954 L887.4 953.8 L888 953.6 L888.6 953.4 L889.1 953.2 L889.7 953.1 L890.2 953 L890.7 953 L891.2 953 L891.7 953 L892.2 953.1 L892.6 953.2" fill="none" stroke="#2a1a62" stroke-width="4.2" stroke-linejoin="round" stroke-linecap="round" />
<path d="M736.5 959.3 L737.2 958.8 L737.8 958.3 L738.5 957.9 L739.2 957.4 L739.8 956.9 L740.5 956.5 L741.1 956.1 L741.8 955.6 L742.4 955.3 L743 954.9 L743.7 954.6 L744.3 954.3 L744.9 954 L745.4 953.7 L746 953.5 L746.6 953.3 L747.1 953.2 L747.7 953.1 L748.2 953 L748.7 953 L749.2 953 L749.7 953.1 L750.2 953.1 L750.6 953.3 L751.1 953.4 L751.5 953.6 L751.9 953.8 L752.3 954.1 L752.7 954.4 L753.1 954.7 L753.5 955 L753.9 955.4 L754.2 955.8 L754.6 956.2 L754.9 956.7 L755.3 957.1 L755.6 957.6 L755.9 958 L756.3 958.5 L756.6 959 L756.9 959.5 L757.3 960 L757.6 960.5 L757.9 960.9 L758.3 961.4 L758.6 961.9 L759 962.3 L759.3 962.7 L759.7 963.1 L760 963.5 L760.4 963.8 L760.8 964.2 L761.2 964.5 L761.6 964.7 L762 965 L762.5 965.2 L762.9 965.3 L763.4 965.4 L763.8 965.5 L764.3 965.6 L764.8 965.6 L765.3 965.6 L765.8 965.5 L766.4 965.4 L766.9 965.3 L767.5 965.1 L768 964.9 L768.6 964.7 L769.2 964.4 L769.8 964.1 L770.4 963.8 L771.1 963.4 L771.7 963 L772.3 962.6 L773 962.2 L773.6 961.8 L774.3 961.3 L775 960.8 L775.6 960.4 L776.3 959.9 L777 959.4 L777.6 958.9 L778.3 958.4 L779 957.9 L779.6 957.5 L780.3 957 L781 956.6 L781.6 956.1 L782.3 955.7 L782.9 955.3 L783.5 955 L784.1 954.6 L784.7 954.3 L785.3 954 L785.9 953.8 L786.5 953.6 L787.1 953.4 L787.6 953.2 L788.2 953.1 L788.7 953 L789.2 953 L789.7 953 L790.2 953 L790.7 953.1 L791.1 953.2 L791.6 953.4 L792 953.6 L792.4 953.8 L792.8 954 L793.2 954.3 L793.6 954.6 L794 955 L794.4 955.3 L794.8 955.7 L795.1 956.1 L795.5 956.6 L795.8 957 L796.1 957.5 L796.5 957.9 L796.8 958.4 L797.1 958.9 L797.5 959.4 L797.8 959.9 L798.1 960.4 L798.5 960.8 L798.8 961.3 L799.1 961.8 L799.5 962.2 L799.8 962.6 L800.2 963 L800.6 963.4 L800.9 963.8 L801.3 964.1 L801.7 964.4 L802.1 964.7 L802.5 964.9 L803 965.1 L803.4 965.3 L803.9 965.4 L804.3 965.5 L804.8 965.6 L805.3 965.6 L805.8 965.6 L806.3 965.5 L806.9 965.4 L807.4 965.3 L808 965.2 L808.5 965 L809.1 964.7 L809.7 964.5 L810.3 964.2 L810.9 963.8 L811.5 963.5 L812.2 963.1 L812.8 962.7 L813.5 962.3 L814.1 961.9 L814.8 961.4 L815.4 960.9 L816.1 960.5 L816.8 960 L817.4 959.5 L818.1 959 L818.8 958.5 L819.4 958 L820.1 957.6 L820.8 957.1 L821.4 956.7 L822.1 956.2 L822.7 955.8 L823.4 955.4 L824 955 L824.6 954.7 L825.2 954.4 L825.8 954.1 L826.4 953.8 L827 953.6 L827.6 953.4 L828.1 953.3 L828.7 953.1 L829.2 953.1 L829.7 953 L830.2 953 L830.7 953 L831.2 953.1 L831.6 953.2 L832.1 953.3 L832.5 953.5 L832.9 953.7 L833.4 954 L833.8 954.3 L834.2 954.6 L834.5 954.9 L834.9 955.3 L835.3 955.6 L835.6 956.1 L836 956.5 L836.3 956.9 L836.7 957.4 L837 957.9 L837.3 958.3 L837.7 958.8 L838 959.3 L838.3 959.8 L838.7 960.3 L839 960.7 L839.3 961.2 L839.7 961.7 L840 962.1 L840.4 962.5 L840.7 963 L841.1 963.3 L841.5 963.7 L841.8 964 L842.2 964.3 L842.6 964.6 L843.1 964.9 L843.5 965.1 L843.9 965.3 L844.4 965.4 L844.8 965.5 L845.3 965.6 L845.8 965.6 L846.3 965.6 L846.8 965.5 L847.3 965.5 L847.9 965.3 L848.4 965.2 L849 965 L849.6 964.8 L850.2 964.5 L850.8 964.2 L851.4 963.9 L852 963.6 L852.6 963.2 L853.3 962.8 L853.9 962.4 L854.6 961.9 L855.2 961.5 L855.9 961 L856.6 960.6 L857.2 960.1 L857.9 959.6 L858.6 959.1 L859.2 958.6 L859.9 958.1 L860.6 957.7 L861.2 957.2 L861.9 956.7 L862.5 956.3 L863.2 955.9 L863.8 955.5 L864.5 955.1 L865.1 954.8 L865.7 954.4 L866.3 954.1 L866.9 953.9 L867.5 953.6 L868 953.4 L868.6 953.3 L869.1 953.2 L869.7 953.1 L870.2 953 L870.7 953 L871.2 953 L871.7 953.1 L872.1 953.2 L872.6 953.3 L873 953.5 L873.5 953.7 L873.9 953.9 L874.3 954.2 L874.7 954.5 L875.1 954.8 L875.4 955.2 L875.8 955.6 L876.2 956 L876.5 956.4 L876.9 956.8 L877.2 957.3 L877.5 957.8 L877.9 958.2 L878.2 958.7 L878.5 959.2 L878.9 959.7 L879.2 960.2 L879.5 960.7 L879.9 961.1 L880.2 961.6 L880.5 962 L880.9 962.5 L881.2 962.9 L881.6 963.3 L882 963.6 L882.4 964 L882.8 964.3 L883.2 964.6 L883.6 964.8 L884 965 L884.4 965.2 L884.9 965.4 L885.3 965.5 L885.8 965.6 L886.3 965.6 L886.8 965.6 L887.3 965.6 L887.8 965.5 L888.4 965.4" fill="none" stroke="#6a22b4" stroke-width="4.2" stroke-linejoin="round" stroke-linecap="round" />
<path d="M778.3 951 V922.2 H749.6 V930 L728.7 919.5 L749.6 908.6 V916.6 H784.9 V951 Z" fill="#2e1a70"/>
</svg></body></html>
